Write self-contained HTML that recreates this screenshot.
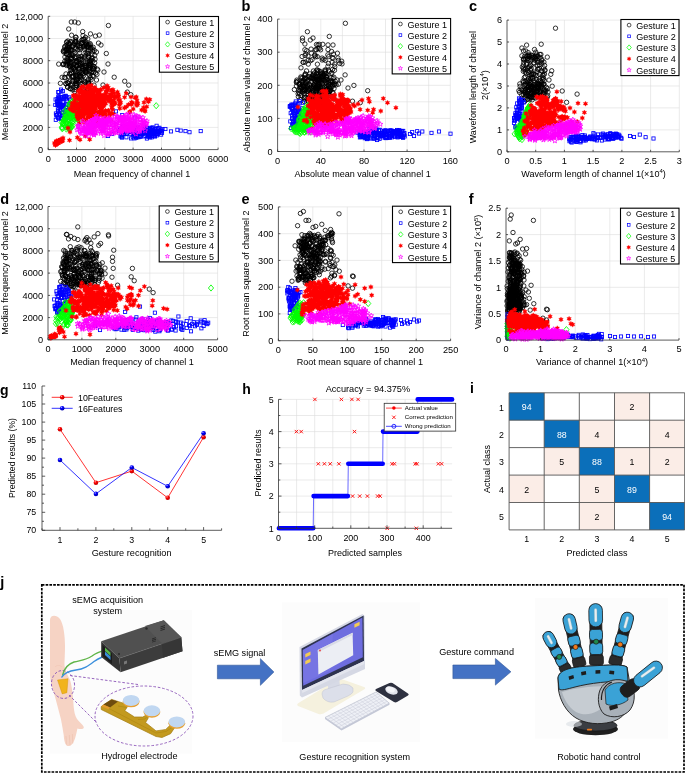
<!DOCTYPE html>
<html><head><meta charset="utf-8"><style>
html,body{margin:0;padding:0;background:#fff;overflow:hidden;width:685px;height:773px;}
svg{display:block;font-family:"Liberation Sans", sans-serif;will-change:transform;}
</style></head><body>
<svg width="685" height="773" viewBox="0 0 685 773">
<defs>
<marker id="m1" markerUnits="userSpaceOnUse" markerWidth="8" markerHeight="8" refX="4" refY="4" overflow="visible"><circle cx="4" cy="4" r="2.2" fill="none" stroke="#000" stroke-width="0.8"/></marker>
<marker id="m2" markerUnits="userSpaceOnUse" markerWidth="8" markerHeight="8" refX="4" refY="4" overflow="visible"><rect x="2.4" y="2.4" width="3.2" height="3.2" fill="none" stroke="#00f" stroke-width="0.85"/></marker>
<marker id="m3" markerUnits="userSpaceOnUse" markerWidth="8" markerHeight="8" refX="4" refY="4" overflow="visible"><path d="M4 0.9L6.6 4 4 7.1 1.4 4Z" fill="none" stroke="#0f0" stroke-width="0.85"/></marker>
<marker id="m4" markerUnits="userSpaceOnUse" markerWidth="8" markerHeight="8" refX="4" refY="4" overflow="visible"><path d="M4.00 1.45 L4.72 2.74 L6.21 2.73 L5.45 4.00 L6.21 5.27 L4.72 5.26 L4.00 6.55 L3.28 5.26 L1.79 5.27 L2.55 4.00 L1.79 2.72 L3.27 2.74Z" fill="#f00" stroke="#f00" stroke-width="0.3" stroke-linejoin="round"/></marker>
<marker id="m5" markerUnits="userSpaceOnUse" markerWidth="8" markerHeight="8" refX="4" refY="4" overflow="visible"><path d="M4 1.4L4.65 3.1 6.5 3.15 5.05 4.3 5.55 6.1 4 5.05 2.45 6.1 2.95 4.3 1.5 3.15 3.35 3.1Z" fill="none" stroke="#f0f" stroke-width="0.8"/></marker>
<radialGradient id="gr" cx="0.35" cy="0.3" r="0.7"><stop offset="0" stop-color="#ffb0b0"/><stop offset="0.35" stop-color="#f00"/><stop offset="1" stop-color="#b00"/></radialGradient>
<radialGradient id="gb" cx="0.35" cy="0.3" r="0.7"><stop offset="0" stop-color="#b0b0ff"/><stop offset="0.35" stop-color="#00f"/><stop offset="1" stop-color="#00a"/></radialGradient></defs>
<rect width="685" height="773" fill="#fff"/>
<path d="M76.5 16.3V149.6M104.8 16.3V149.6M133.1 16.3V149.6M161.5 16.3V149.6M189.8 16.3V149.6M218.1 16.3V149.6M48.2 127.4H218.1M48.2 105.2H218.1M48.2 83.0H218.1M48.2 60.7H218.1M48.2 38.5H218.1M48.2 16.3H218.1" stroke="#dcdcdc" stroke-width="0.6" fill="none"/>
<path d="M83.0 83.6 73.0 87.2 90.4 63.6 71.4 63.1 67.4 47.1 58.7 64.1 80.5 64.2 71.6 72.9 68.3 52.3 93.9 68.6 79.5 69.2 82.9 42.4 67.8 82.7 82.9 69.1 66.7 60.9 71.5 69.3 87.6 46.5 92.3 71.5 94.4 67.0 84.2 67.2 70.9 41.5 81.1 56.3 71.6 35.2 85.1 65.5 74.8 70.4 81.7 79.7 88.4 79.1 83.5 75.7 65.9 50.3 72.6 89.9 74.7 91.6 79.7 63.5 82.1 58.9 79.3 65.6 88.4 73.9 71.0 57.4 67.8 87.2 78.4 68.2 94.7 62.8 67.9 41.0 92.8 75.6 88.5 83.4 72.0 46.7 84.6 46.5 75.0 89.7 82.0 72.2 68.4 83.7 66.4 53.8 80.1 75.7 88.8 44.9 69.2 66.3 66.0 73.9 87.4 53.4 93.2 47.3 72.0 67.7 70.4 63.8 74.9 47.6 73.9 53.4 70.0 58.4 85.8 71.1 88.1 45.0 66.1 83.8 92.9 68.1 89.3 61.6 88.7 80.0 75.1 41.6 68.9 54.7 68.2 76.5 91.1 79.7 69.2 81.5 76.4 56.7 91.0 66.0 88.7 57.4 76.0 41.9 69.8 74.1 70.4 42.2 82.0 59.5 92.6 49.1 75.9 37.3 89.1 65.4 69.9 56.0 81.7 42.5 79.6 47.3 79.8 52.9 81.8 63.0 65.3 46.1 78.9 62.9 73.9 68.1 78.0 82.2 90.5 77.8 88.4 53.7 65.7 83.6 76.2 41.2 88.7 55.2 82.2 90.1 88.8 83.6 69.3 64.8 95.0 59.2 77.6 79.1 80.3 86.4 82.0 66.5 70.2 50.3 76.6 75.7 92.9 61.0 83.8 73.3 76.0 75.1 90.0 62.7 77.0 80.4 72.6 81.2 85.8 72.2 67.4 54.4 81.8 57.0 92.7 58.1 75.9 72.1 71.3 58.2 81.6 72.6 83.3 46.3 86.3 44.0 75.8 37.2 84.1 57.8 78.6 68.6 71.8 50.0 89.8 75.4 72.0 76.7 85.2 70.9 71.5 50.3 67.9 61.7 66.8 45.1 69.0 63.4 73.1 76.4 77.0 61.0 85.5 37.3 90.7 49.8 66.5 49.2 86.0 72.5 97.9 70.0 62.1 77.3 93.3 76.4 68.6 50.1 94.4 50.6 91.1 60.0 69.8 43.7 72.0 53.0 87.8 38.9 81.5 43.5 66.4 54.2 75.3 75.6 73.1 81.1 73.4 76.0 84.6 49.6 80.7 84.6 75.3 41.6 66.9 41.8 88.0 84.9 81.7 40.6 70.0 73.8 66.5 65.4 66.4 50.2 79.4 87.7 77.3 45.4 93.7 66.5 80.3 77.1 77.7 46.3 70.5 70.6 80.5 76.1 76.7 65.6 67.8 82.8 72.6 46.8 63.7 52.0 67.9 58.8 79.9 49.8 85.9 41.6 88.5 47.2 79.6 45.6 71.6 65.5 75.4 39.7 71.6 58.5 73.1 76.5 75.1 69.5 86.8 66.6 84.8 48.0 64.9 57.0 89.9 72.0 79.3 65.9 90.6 60.5 76.0 85.3 89.8 61.0 76.0 62.3 88.8 68.8 70.2 49.8 91.6 58.1 68.6 43.4 71.4 72.9 84.2 57.0 80.7 47.9 69.3 47.6 79.2 71.6 62.9 64.6 74.5 44.2 76.1 48.5 70.0 88.7 65.0 51.1 84.6 45.1 78.6 57.3 89.2 65.0 73.2 68.0 84.4 65.2 85.4 82.5 66.6 42.3 70.6 85.5 83.0 35.6 89.6 65.0 75.0 52.9 97.2 69.0 78.7 59.5 66.7 48.6 82.2 74.3 88.1 50.9 82.3 39.6 63.7 50.3 74.4 63.8 70.6 88.6 76.6 85.3 76.2 71.9 89.5 67.7 67.5 46.8 87.7 45.5 85.7 65.3 72.4 45.9 69.7 47.1 77.9 49.7 77.0 66.4 85.9 55.3 79.1 80.6 64.6 47.0 86.0 52.6 90.2 67.1 87.6 61.1 81.1 43.5 90.9 47.3 76.2 58.3 84.4 81.4 76.6 61.8 72.0 76.8 67.1 63.0 71.7 55.0 73.6 64.7 91.2 72.9 75.0 80.8 88.0 62.3 74.5 67.9 69.9 66.2 90.1 43.6 88.5 82.9 68.6 49.5 83.3 89.6 75.7 81.5 89.7 70.4 76.6 83.6 76.0 60.9 92.8 51.6 93.7 72.5 79.7 89.1 75.6 83.2 64.5 77.4 91.8 54.3 75.7 42.8 77.4 74.2 64.8 61.3 63.7 64.3 70.4 66.9 69.3 44.2 71.9 84.0 75.5 87.2 87.6 88.5 94.0 85.1 86.6 47.0 80.3 64.9 75.0 57.3 93.3 69.2 65.6 64.4 84.2 70.3 67.5 87.0 69.3 61.1 96.5 80.0 68.0 60.4 78.2 76.6 74.1 62.0 66.9 58.9 88.3 56.7 76.6 66.3 95.6 73.1 94.7 55.2 81.7 76.9 88.0 82.0 85.6 44.7 80.2 59.1 76.5 80.2 83.1 70.8 65.3 77.8 83.7 39.3 96.9 74.4 70.4 99.8 86.1 72.0 76.7 79.7 85.5 69.6 90.7 48.2 83.5 80.7 90.2 44.7 71.3 59.1 92.9 65.9 79.2 74.4 89.0 67.8 85.5 67.4 63.3 51.3 78.0 43.9 85.8 62.9 96.4 52.1 86.3 43.7 86.1 44.3 72.7 55.1 95.4 36.1 98.5 43.1 84.2 39.1 82.2 64.6 71.3 22.0 74.8 22.0 78.3 22.9 68.7 29.0 82.7 31.6 90.5 33.9 99.3 35.1 108.4 25.5 106.3 53.5 108.0 64.0 114.2 77.2 124.7 81.2 128.7 85.1 127.3 92.1 130.8 94.7 60.4 83.3 63.4 64.0 101.0 45.0 104.0 72.0 103.0 85.0" fill="none" stroke="none" marker-start="url(#m1)" marker-mid="url(#m1)" marker-end="url(#m1)"/>
<path d="M57.2 101.3 59.8 104.9 60.6 115.3 64.3 105.6 67.2 97.4 59.7 114.3 68.7 112.3 64.9 114.6 60.3 109.8 57.5 99.1 60.8 118.3 62.9 91.1 55.9 113.5 68.8 104.2 58.3 101.3 59.1 98.0 69.9 115.5 60.4 97.0 62.5 118.3 64.1 96.5 58.6 96.2 61.3 91.5 66.0 104.5 64.7 97.2 61.3 118.6 65.9 98.7 60.3 105.1 59.0 105.7 59.1 100.2 69.4 110.9 66.6 117.6 62.2 113.2 56.8 115.3 68.1 110.4 66.9 112.2 71.4 104.7 55.6 99.5 59.7 105.0 56.6 115.1 57.9 109.7 67.2 100.5 58.1 111.6 69.4 106.1 58.2 105.6 57.7 104.4 66.1 108.1 58.4 92.1 58.1 117.8 63.8 97.7 65.6 95.8 57.7 104.0 61.4 98.9 62.4 97.4 62.4 115.0 68.3 111.6 65.6 96.2 61.0 89.6 65.8 114.7 58.8 104.2 60.4 110.9 58.4 111.0 55.8 119.8 62.6 105.6 60.1 101.1 55.3 104.9 62.9 102.0 61.3 101.6 67.8 114.0 60.9 106.8 62.1 116.1 58.6 92.1 56.5 115.1 57.7 116.8 69.2 97.4 62.4 106.3 61.4 105.1 58.3 97.3 57.4 105.1 61.9 106.7 66.9 104.4 58.7 118.6 65.7 110.0 63.2 108.8 57.5 101.7 67.2 116.6 136.8 128.0 134.1 126.6 124.3 134.0 157.2 134.1 159.0 132.6 162.0 132.9 150.0 131.1 158.5 130.6 135.9 136.2 134.8 136.0 157.5 128.3 150.0 129.1 132.9 129.3 133.6 134.7 136.2 136.2 159.4 127.8 151.2 133.6 150.1 137.4 127.8 127.0 151.6 129.9 132.8 137.2 133.4 133.3 156.9 135.4 136.2 137.4 143.7 131.9 121.8 136.6 152.8 131.2 143.5 126.5 158.4 128.5 134.1 131.5 131.8 130.3 138.7 134.3 153.4 132.9 144.2 136.4 151.6 128.2 154.8 136.0 141.8 134.3 147.0 130.0 161.1 134.6 121.6 134.9 133.4 132.7 134.3 132.5 154.8 130.8 148.0 136.0 151.9 133.3 158.0 132.1 126.4 137.3 141.3 131.5 126.6 130.4 159.9 131.3 129.7 131.9 137.9 126.8 148.2 136.8 158.1 130.9 140.3 136.8 152.7 130.3 130.3 129.0 119.1 131.1 154.4 132.7 129.0 130.8 142.3 132.6 135.5 127.6 148.2 134.8 138.5 137.2 156.0 134.1 145.3 130.8 140.8 133.3 131.9 131.4 137.1 134.1 162.0 131.2 125.9 130.5 154.1 132.6 151.9 131.9 131.1 132.0 123.5 129.2 149.6 136.2 150.4 127.8 125.1 127.9 135.0 131.4 145.4 135.8 151.8 136.0 149.0 134.8 120.5 136.3 152.1 133.7 149.7 128.7 146.5 131.1 155.0 136.5 143.4 133.9 141.0 133.3 120.4 129.0 151.8 137.3 139.8 135.7 136.1 129.7 136.1 130.6 144.8 128.9 152.3 135.7 136.3 137.6 156.9 132.1 127.0 130.0 127.2 133.4 153.6 135.2 123.4 134.0 134.5 138.4 160.9 129.8 149.6 135.5 136.3 136.6 155.0 130.7 146.8 127.9 133.6 133.8 145.1 128.6 126.4 133.9 140.7 136.2 121.6 136.4 129.3 130.8 136.0 129.0 131.1 138.4 152.9 132.5 147.0 132.6 144.9 132.8 146.9 138.5 124.9 131.9 153.0 128.6 158.3 131.0 147.8 134.1 150.2 134.0 122.9 126.0 145.2 126.9 156.2 130.9 153.0 134.2 151.0 130.8 162.4 129.1 150.7 130.4 120.0 128.5 130.3 133.7 160.6 131.1 154.9 128.8 171.0 131.4 177.4 129.8 180.7 130.6 185.5 131.1 189.5 132.2 200.7 131.1 152.6 127.4 156.6 125.8 165.4 129.0 116.0 111.4 122.0 115.2 135.2 117.5 122.0 137.6 112.0 134.0 108.0 136.0" fill="none" stroke="none" marker-start="url(#m2)" marker-mid="url(#m2)" marker-end="url(#m2)"/>
<path d="M78.2 117.3 79.7 116.7 65.5 119.6 78.5 109.8 69.6 103.8 78.8 107.4 78.4 113.7 62.8 123.3 71.0 126.9 67.8 119.3 72.2 108.0 71.4 104.8 71.5 108.2 81.3 113.3 69.7 129.2 74.3 106.1 67.7 115.7 65.0 113.6 70.3 117.9 80.0 101.9 75.1 103.4 66.0 126.9 79.9 112.4 79.2 110.5 65.5 122.9 81.8 115.2 79.2 109.5 74.3 111.9 77.2 107.2 76.2 113.8 66.2 113.4 70.4 107.6 73.3 121.0 70.5 127.8 80.3 119.6 70.6 120.5 66.2 123.0 63.3 122.6 75.1 114.3 73.6 108.1 80.6 106.8 73.1 116.4 70.7 105.7 73.9 108.2 69.8 104.1 75.2 107.3 65.7 119.0 71.1 118.3 72.7 125.7 72.0 102.0 69.4 113.4 77.6 110.1 83.6 113.8 62.3 128.8 82.4 107.7 68.1 116.1 65.0 117.9 74.9 117.4 71.6 112.5 76.9 116.4 70.3 116.7 80.7 108.2 83.4 114.0 73.2 118.7 80.8 108.8 67.3 107.8 64.5 121.3 78.8 119.9 78.4 105.5 71.7 127.1 68.0 126.4 75.6 100.6 82.0 112.0 70.0 125.6 70.1 103.0 63.6 120.1 66.7 120.7 73.4 107.5 76.5 108.5 73.5 117.1 76.6 103.7 69.0 128.0 63.9 124.6 81.4 114.5 65.2 119.7 70.3 113.0 70.5 112.7 73.2 113.5 82.9 110.3 70.3 115.6 74.7 103.5 73.1 113.4 76.4 118.3 79.6 102.6 67.3 120.1 71.9 105.8 69.3 124.8 65.1 116.7 75.3 115.9 75.8 99.3 61.9 126.9 81.3 107.4 71.4 116.8 69.1 110.2 70.7 111.8 71.5 122.3 80.1 107.1 76.0 116.3 72.5 110.1 69.9 125.1 73.5 112.5 67.3 113.0 62.9 124.1 71.9 106.0 61.7 122.4 62.0 127.8 72.4 101.5 80.8 105.1 66.5 109.3 64.7 119.9 72.2 109.5 76.5 112.8 66.4 129.1 73.8 102.0 68.5 111.4 78.1 104.7 70.8 112.8 73.0 113.5 63.9 112.2 71.2 125.3 76.8 108.6 79.3 114.4 75.4 116.5 73.5 108.6 65.4 118.2 76.9 121.8 67.1 115.7 64.5 125.4 75.3 110.6 77.8 106.7 79.0 115.1 82.1 109.9 80.4 113.2 72.2 122.5 74.2 107.8 74.6 115.5 77.2 108.7 82.3 117.1 77.3 119.3 63.6 121.2 81.1 114.2 74.9 110.3 67.6 128.1 156.2 105.7" fill="none" stroke="none" marker-start="url(#m3)" marker-mid="url(#m3)" marker-end="url(#m3)"/>
<path d="M109.7 97.7 82.8 94.2 85.2 121.1 110.9 120.1 102.6 119.9 83.1 91.2 98.9 92.9 82.3 91.3 100.6 97.6 113.6 114.3 100.9 108.5 84.2 119.9 109.5 116.1 103.7 87.7 77.6 112.5 101.4 101.8 106.7 92.5 91.3 91.5 114.2 102.6 102.4 114.2 80.1 89.5 108.0 96.8 111.5 104.3 103.0 100.3 81.1 103.1 84.0 122.3 112.2 105.7 110.0 94.6 89.3 103.8 88.3 94.8 91.0 113.4 101.6 101.9 89.1 115.1 108.1 110.9 111.3 96.5 87.9 117.1 82.6 116.9 80.2 104.0 104.0 101.0 82.6 115.8 88.5 113.1 96.2 112.9 101.5 115.3 92.2 106.3 101.5 112.8 96.8 90.7 105.9 96.1 93.4 110.8 105.7 103.5 95.8 97.5 111.4 113.1 94.9 99.6 74.3 103.0 89.3 107.5 93.3 115.9 82.9 106.7 101.3 109.7 78.8 118.1 78.5 115.5 90.7 96.2 95.4 112.8 100.8 104.1 88.3 124.8 84.8 109.8 102.1 100.7 79.5 114.0 88.1 104.4 112.7 109.5 105.4 110.5 81.6 87.1 85.8 99.4 105.7 91.4 78.7 104.4 88.1 108.1 111.4 96.5 89.1 110.2 105.0 94.5 113.0 89.7 82.9 91.8 107.3 97.2 83.9 104.3 73.0 110.8 79.9 98.0 93.2 107.0 87.8 103.4 87.3 98.4 90.5 103.5 81.8 117.8 79.6 110.8 78.0 109.0 97.4 103.1 103.4 112.3 115.3 103.5 85.5 93.9 88.6 93.8 91.3 119.4 106.3 118.4 84.9 105.7 96.6 100.6 95.6 108.6 88.2 96.4 83.4 86.4 97.4 99.4 98.2 115.7 94.8 90.4 117.4 92.1 96.7 94.6 78.8 116.8 78.8 98.6 99.4 97.5 96.1 89.3 93.8 104.9 95.3 109.0 90.4 107.4 94.4 102.2 101.6 95.5 107.4 98.4 111.2 90.6 75.3 108.3 75.0 95.8 92.4 115.2 111.7 101.4 101.7 107.9 93.6 89.2 89.2 105.5 95.8 105.4 92.3 119.8 79.4 123.3 106.5 87.3 91.0 116.3 97.5 99.0 100.5 102.6 86.2 119.7 90.7 97.1 89.6 111.3 85.1 106.1 96.3 112.9 108.8 101.0 83.7 119.5 105.3 123.8 83.5 110.9 83.0 108.1 93.4 116.4 90.1 90.8 91.0 89.1 113.3 104.7 79.4 92.5 81.4 110.4 92.3 103.3 95.8 101.0 84.4 97.8 96.9 97.1 82.0 111.6 83.7 111.1 97.6 121.7 77.8 107.0 88.9 112.6 80.0 97.7 95.2 103.6 105.3 116.3 96.0 89.5 93.8 95.3 101.1 107.7 88.1 95.8 98.8 91.1 111.8 107.8 108.5 110.5 98.5 105.6 76.9 116.7 100.3 90.1 89.2 109.4 89.5 85.7 91.0 89.8 111.9 90.3 114.2 93.6 103.8 120.4 87.0 95.0 79.5 103.6 86.2 112.5 102.3 97.3 75.8 105.5 108.3 87.5 113.9 100.5 82.0 97.5 92.9 118.3 97.4 112.4 85.1 97.4 81.1 105.2 115.2 96.9 93.4 112.6 107.6 97.2 82.0 114.2 83.6 113.2 109.3 113.7 88.0 116.9 79.8 99.1 97.6 90.9 87.1 92.8 94.1 100.6 99.2 93.9 88.3 110.2 78.8 105.9 103.8 98.6 95.0 119.2 114.5 97.1 92.4 117.8 103.6 96.6 84.8 91.5 73.5 110.7 91.4 85.2 100.5 113.4 82.3 94.4 103.9 104.1 83.5 117.0 103.6 96.1 96.2 105.7 76.3 107.1 98.1 103.4 99.8 111.3 82.6 91.7 80.2 112.8 89.7 102.4 93.6 95.4 88.8 86.4 87.3 86.5 105.2 112.5 106.8 97.8 84.6 98.2 83.2 108.5 93.3 99.2 100.9 89.5 85.2 107.2 78.0 119.2 93.1 114.9 97.5 119.2 94.2 106.1 105.3 114.2 83.1 104.4 85.6 93.4 113.2 100.6 107.8 90.1 103.9 105.4 94.7 87.5 109.3 100.1 93.9 102.1 78.2 91.0 104.4 103.8 92.9 96.3 84.4 96.3 80.5 97.0 90.1 116.8 106.9 97.6 109.6 98.7 102.4 95.4 83.3 105.3 92.8 89.3 95.4 105.5 86.1 106.5 103.1 106.5 86.0 96.2 111.7 94.2 110.1 100.4 107.1 85.8 106.8 99.2 73.4 95.2 112.8 91.4 92.5 106.7 86.4 88.0 76.7 95.4 109.2 97.3 87.7 92.3 91.9 97.8 136.3 97.1 141.6 110.0 116.9 96.8 118.5 96.2 148.4 101.8 126.3 106.8 137.2 105.1 135.1 97.8 131.0 97.0 124.6 97.3 118.1 94.2 145.1 111.2 132.6 103.0 119.9 103.6 144.0 102.5 137.7 103.4 128.5 104.6 146.7 106.8 126.2 93.2 120.6 102.5 131.2 104.4 119.4 105.1 137.0 103.5 129.6 112.2 124.4 107.9 119.8 99.9 136.5 104.9 143.7 107.5 118.4 100.0 131.5 102.2 118.3 96.1 146.3 99.1 144.6 110.5 133.2 108.9 137.0 100.6 149.8 99.6 130.1 111.6 119.8 108.4 85.7 100.9 85.0 107.5 103.3 113.0 81.8 101.4 84.2 92.8 87.9 110.3 80.2 106.3 72.8 106.8 95.0 103.8 82.1 116.6 83.8 103.1 85.0 105.8 80.7 91.6 80.1 99.2 88.7 98.6 104.4 102.5 92.7 104.8 92.8 98.2 77.1 113.1 87.4 96.3 79.3 100.0 93.0 104.1 86.0 95.2 87.9 106.1 87.0 106.5 83.5 100.9 76.9 114.2 91.6 103.2 77.9 104.4 79.3 96.9 85.5 92.6 82.6 98.9 89.4 100.8 94.7 100.0 89.3 107.3 89.0 88.4 87.8 95.9 93.6 91.7 74.7 110.7 90.2 99.3 81.1 99.6 79.0 96.1 87.6 108.1 84.9 100.2 91.7 104.0 95.3 90.5 71.3 109.7 87.1 105.1 101.3 106.0 93.7 110.1 97.7 101.5 88.3 101.7 77.5 107.0 79.7 105.3 92.6 101.2 94.3 103.0 82.5 99.7 85.7 107.0 89.4 108.3 75.3 102.7 85.1 114.0 98.9 93.5 102.9 101.3 86.8 113.0 100.4 100.2 83.9 93.1 81.9 111.1 71.9 106.0 94.3 95.5 85.0 107.4 104.0 96.6 89.9 94.7 88.9 101.8 74.9 99.8 98.1 96.1 85.1 100.5 86.5 96.7 72.1 103.1 94.1 102.6 94.5 107.2 83.4 100.0 88.2 94.7 90.3 94.8 94.3 101.2 88.3 112.0 99.7 107.8 85.9 98.9 83.4 108.4 84.3 95.7 69.8 108.8 82.0 100.4 94.7 107.3 89.5 106.5 81.9 101.0 90.1 104.7 73.5 96.3 85.6 102.3 91.3 109.2 92.5 127.4 82.2 106.9 94.0 103.2 100.7 96.6 84.6 109.1 92.8 92.8 76.7 97.9 73.9 104.9 91.9 95.5 87.9 112.0 89.0 109.3 83.5 99.3 56.6 142.1 55.5 144.2 54.5 143.0 59.0 141.1 59.1 140.4 58.5 140.7 58.6 141.4 56.6 142.2 59.5 142.3 55.4 144.9 58.3 142.1 61.1 139.4 61.8 141.3 56.3 141.2 56.6 141.1 61.9 141.2 62.7 140.6 55.5 145.1 57.3 142.7 58.3 140.9 60.9 140.3 56.8 143.9 59.4 140.8 57.3 142.1 63.0 138.0 58.8 140.7 58.5 143.2 57.8 143.2 60.2 139.9 59.4 140.5 69.5 140.3 77.4 137.6 80.0 139.7 85.3 135.9 89.7 139.4 68.0 128.0 70.0 132.0" fill="none" stroke="none" marker-start="url(#m4)" marker-mid="url(#m4)" marker-end="url(#m4)"/>
<path d="M133.6 123.2 94.0 134.9 111.8 132.2 98.4 125.8 123.7 128.4 129.1 124.3 141.7 122.1 87.3 132.8 106.6 127.4 102.5 123.3 90.9 120.7 129.6 123.3 94.9 133.1 90.9 132.8 130.1 120.0 123.1 125.1 103.9 129.9 124.3 130.7 89.0 136.1 130.6 118.5 138.6 131.9 131.0 123.9 116.4 122.7 125.2 129.6 95.9 123.0 104.9 118.3 131.0 120.2 142.4 122.2 137.3 127.8 90.0 127.6 92.2 128.7 131.0 129.1 127.6 126.0 78.9 126.3 104.2 124.9 119.7 122.8 114.5 116.6 123.6 127.2 89.1 128.6 145.2 125.9 116.9 132.9 86.8 122.8 115.0 129.8 100.7 131.8 121.0 117.0 83.9 127.9 136.9 116.1 96.7 125.3 101.1 122.7 105.8 121.6 119.8 130.5 91.2 131.6 132.8 126.8 142.9 124.9 123.4 123.6 90.2 131.6 97.7 122.5 102.7 130.4 122.1 130.7 80.9 133.2 113.1 119.6 84.0 127.5 131.8 123.5 97.8 118.1 123.8 117.5 95.1 119.0 134.5 123.9 121.4 132.9 115.4 127.8 108.2 127.3 124.9 121.9 123.6 118.4 91.8 121.2 89.3 130.6 125.2 118.1 102.3 131.3 109.3 119.5 107.9 122.7 137.8 128.3 92.9 119.4 137.4 123.8 120.2 118.2 121.2 129.3 124.8 123.1 82.2 130.8 127.3 131.3 129.3 125.7 116.9 116.3 144.5 122.5 99.9 120.5 146.9 121.0 96.7 129.0 109.0 131.2 101.7 130.8 145.1 130.6 95.2 127.0 84.3 129.2 86.5 131.7 139.2 128.6 124.3 119.7 134.5 116.5 104.1 135.6 135.4 127.9 87.7 123.8 140.0 130.2 133.4 127.1 132.5 132.4 94.0 134.8 103.9 119.8 112.7 132.1 102.6 125.0 131.7 126.3 108.0 119.8 86.6 133.2 102.7 127.0 99.5 119.4 108.9 124.0 95.8 125.7 99.7 121.5 115.1 123.8 80.0 126.7 106.1 121.5 85.0 127.4 134.7 130.1 106.9 120.7 86.4 131.4 137.6 119.2 141.7 124.4 137.7 122.1 121.8 125.3 128.8 116.2 100.0 127.1 78.2 126.8 117.4 117.3 113.3 125.3 128.6 129.7 135.4 119.3 106.2 130.5 123.9 116.7 106.0 133.0 109.1 118.0 141.1 126.0 95.2 118.8 79.9 130.7 101.9 125.0 131.0 128.2 125.5 119.6 129.1 130.7 84.3 129.2 131.8 130.8 88.9 130.3 121.4 131.1 132.5 127.1 90.9 125.1 96.1 115.5 100.7 123.8 119.1 118.7 106.6 120.5 100.8 117.9 94.1 121.6 106.0 123.5 124.1 127.3 121.7 123.3 117.2 118.7 89.8 131.4 139.9 131.0 129.5 125.7 92.2 124.1 110.8 127.1 121.4 132.3 94.2 124.2 103.1 124.1 129.3 114.0 94.4 125.6 109.1 123.9 95.2 130.7 78.1 125.5 143.4 125.5 130.8 117.3 145.8 124.8 102.6 126.7 107.5 133.6 102.4 121.3 129.1 125.7 114.9 131.4 111.5 120.5 133.6 124.9 110.7 119.9 112.6 129.6 125.0 124.5 134.5 118.7 130.1 125.0 95.1 132.1 111.2 127.7 120.8 130.3 117.8 128.4 142.8 127.5 128.6 120.9 107.4 121.5 100.5 129.0 93.9 129.3 91.3 130.5 139.6 127.0 91.5 131.3 122.6 120.0 102.3 127.5 82.7 120.9 102.9 128.0 130.9 129.7 92.4 130.1 126.8 124.7 129.0 128.4 93.5 133.8 89.6 126.1 145.8 123.7 101.4 124.4 124.5 127.7 88.6 129.8 86.7 132.6 128.6 130.5 133.5 125.5 127.2 129.3 133.2 123.9 116.2 124.6 104.0 130.8 100.6 126.2 89.0 123.7 131.1 123.8 98.9 125.6 134.0 114.7 122.9 128.5 105.9 122.1 132.3 123.4 77.1 129.8 126.1 115.6 79.5 129.2 113.7 123.1 140.0 119.0 92.0 128.8 123.8 127.6 101.2 121.3 119.4 120.1 121.7 129.0 122.7 118.9 90.3 126.7 115.4 122.0 100.9 123.2 116.0 124.1 136.1 124.1 113.6 125.1 89.1 124.8 91.7 121.6 108.7 121.7 102.6 120.0 136.5 123.9 108.8 134.1 106.3 120.4 85.3 126.1 122.3 117.7 142.4 127.6 131.3 127.4 116.2 132.4 136.1 128.9 105.5 126.9 120.1 120.7 131.6 129.6 127.5 128.5 116.3 127.2 83.6 129.4 88.0 130.3 121.9 126.6 123.0 120.6 142.9 117.6 109.8 132.7 101.3 121.8 137.9 116.6 112.8 133.6 97.5 124.7 135.9 134.0 92.2 133.0 122.0 130.2 112.2 124.9 100.7 133.4 107.9 134.7 106.4 126.0 140.2 119.8 91.1 121.8 103.9 126.3 123.4 127.8 82.0 133.7 126.4 114.5 126.6 119.1 96.2 133.0 122.1 119.2 92.7 124.5 146.8 123.2 129.8 120.2 117.9 116.9 124.6 129.6 134.6 122.1 86.6 132.1 103.2 129.0 109.6 121.1 82.7 123.2 91.5 126.5 144.0 120.5 90.2 127.9 88.2 122.8 94.5 119.3 127.5 121.7 104.9 122.8 88.0 128.9 86.2 131.5 139.7 117.1 133.8 122.4 115.0 130.2 109.4 121.0 120.5 128.1 88.0 132.5 120.0 130.9 80.0 131.8 125.3 126.4 116.6 125.4 88.6 130.2 92.3 131.9 120.0 123.0 85.2 135.7 93.5 123.4 98.3 128.2 128.9 118.9 144.0 122.1 84.6 131.0 93.5 119.9 92.4 123.9 102.9 125.8" fill="none" stroke="none" marker-start="url(#m5)" marker-mid="url(#m5)" marker-end="url(#m5)"/>
<path d="M48.2 16.3V149.6H218.1M48.2 149.6v-2.0M76.5 149.6v-2.0M104.8 149.6v-2.0M133.1 149.6v-2.0M161.5 149.6v-2.0M189.8 149.6v-2.0M218.1 149.6v-2.0M48.2 149.6h2.0M48.2 127.4h2.0M48.2 105.2h2.0M48.2 83.0h2.0M48.2 60.7h2.0M48.2 38.5h2.0M48.2 16.3h2.0" stroke="#333" stroke-width="0.8" fill="none"/>
<text x="48.2" y="161.7" font-size="9.2" text-anchor="middle" fill="#000">0</text>
<text x="76.5" y="161.7" font-size="9.2" text-anchor="middle" fill="#000">1000</text>
<text x="104.8" y="161.7" font-size="9.2" text-anchor="middle" fill="#000">2000</text>
<text x="133.1" y="161.7" font-size="9.2" text-anchor="middle" fill="#000">3000</text>
<text x="161.5" y="161.7" font-size="9.2" text-anchor="middle" fill="#000">4000</text>
<text x="189.8" y="161.7" font-size="9.2" text-anchor="middle" fill="#000">5000</text>
<text x="218.1" y="161.7" font-size="9.2" text-anchor="middle" fill="#000">6000</text>
<text x="43.2" y="152.8" font-size="9.2" text-anchor="end" fill="#000">0</text>
<text x="43.2" y="130.6" font-size="9.2" text-anchor="end" fill="#000">2000</text>
<text x="43.2" y="108.4" font-size="9.2" text-anchor="end" fill="#000">4000</text>
<text x="43.2" y="86.2" font-size="9.2" text-anchor="end" fill="#000">6000</text>
<text x="43.2" y="64.0" font-size="9.2" text-anchor="end" fill="#000">8000</text>
<text x="43.2" y="41.7" font-size="9.2" text-anchor="end" fill="#000">10,000</text>
<text x="43.2" y="19.5" font-size="9.2" text-anchor="end" fill="#000">12,000</text>
<rect x="159.4" y="16.5" width="59.1" height="55.7" fill="#fff" stroke="#000" stroke-width="1.1"/>
<g transform="translate(167.6 22.1) scale(0.85)"><path d="M0 0h0.01" marker-start="url(#m1)" stroke="none"/></g>
<text x="174.7" y="25.7" font-size="9.0" text-anchor="start" fill="#000">Gesture 1</text>
<g transform="translate(167.6 33.2) scale(0.85)"><path d="M0 0h0.01" marker-start="url(#m2)" stroke="none"/></g>
<text x="174.7" y="36.8" font-size="9.0" text-anchor="start" fill="#000">Gesture 2</text>
<g transform="translate(167.6 44.4) scale(0.85)"><path d="M0 0h0.01" marker-start="url(#m3)" stroke="none"/></g>
<text x="174.7" y="48.0" font-size="9.0" text-anchor="start" fill="#000">Gesture 3</text>
<g transform="translate(167.6 55.5) scale(0.85)"><path d="M0 0h0.01" marker-start="url(#m4)" stroke="none"/></g>
<text x="174.7" y="59.1" font-size="9.0" text-anchor="start" fill="#000">Gesture 4</text>
<g transform="translate(167.6 66.6) scale(0.85)"><path d="M0 0h0.01" marker-start="url(#m5)" stroke="none"/></g>
<text x="174.7" y="70.2" font-size="9.0" text-anchor="start" fill="#000">Gesture 5</text>
<text x="132.0" y="177.2" font-size="9.05" text-anchor="middle" fill="#000">Mean frequency of channel 1</text>
<text x="7.6" y="82.0" font-size="9.05" text-anchor="middle" fill="#000" transform="rotate(-90 7.6 82.0)">Mean frequency of channel 2</text>
<text x="0.3" y="10.9" font-size="14.5" text-anchor="start" font-weight="bold" fill="#000">a</text>
<path d="M299.2 19.1V151.5M320.8 19.1V151.5M342.4 19.1V151.5M364.0 19.1V151.5M385.5 19.1V151.5M407.1 19.1V151.5M428.7 19.1V151.5M450.3 19.1V151.5M277.6 134.9H450.3M277.6 118.4H450.3M277.6 101.8H450.3M277.6 85.3H450.3M277.6 68.8H450.3M277.6 52.2H450.3M277.6 35.6H450.3M277.6 19.1H450.3" stroke="#dcdcdc" stroke-width="0.6" fill="none"/>
<path d="M333.6 84.1 326.9 88.8 328.3 85.7 305.5 88.8 327.3 79.4 301.3 78.0 319.8 92.6 305.8 97.4 335.1 84.0 318.9 87.1 317.2 89.0 311.7 88.0 308.1 81.0 322.0 100.1 320.8 74.6 314.5 80.0 314.1 99.0 314.9 83.9 321.1 88.2 316.3 86.8 298.3 96.7 324.6 80.5 324.5 86.9 298.1 93.8 330.9 81.3 326.0 82.4 306.7 87.6 321.0 97.4 315.6 81.3 304.6 89.5 322.5 92.5 326.5 77.1 317.7 80.7 294.4 89.6 322.1 86.6 309.2 91.9 326.7 77.7 332.1 97.1 319.2 78.5 323.9 96.2 330.6 84.3 309.9 73.9 329.4 87.5 317.4 70.0 333.0 78.4 334.0 88.6 314.2 84.8 301.9 81.0 316.3 88.6 303.7 86.6 322.8 91.1 326.5 79.7 309.9 89.0 319.3 84.5 311.1 87.1 332.1 82.7 332.4 86.4 330.5 90.1 299.6 93.8 310.6 100.5 324.8 73.4 301.0 95.4 337.1 80.0 316.1 88.1 330.4 82.7 313.6 97.0 305.0 90.4 316.8 97.0 313.5 86.6 321.8 77.0 305.9 85.5 299.2 84.7 317.3 93.4 329.4 71.6 322.1 96.4 316.9 77.2 322.4 95.3 327.7 89.8 313.2 78.3 320.3 90.1 314.5 72.9 334.2 98.9 311.6 81.2 317.2 79.7 313.5 97.1 328.3 82.5 302.2 85.1 298.7 90.1 320.0 93.0 319.0 92.1 320.9 76.9 305.3 83.8 323.0 74.7 328.8 95.2 328.4 70.1 322.4 83.5 308.7 97.5 315.9 81.9 307.5 85.9 316.3 79.3 332.2 92.5 322.0 76.2 316.6 73.8 326.2 93.9 319.6 90.7 326.3 87.5 313.4 74.1 317.9 100.3 322.3 78.9 303.3 83.6 334.0 84.7 319.8 87.7 306.8 80.9 314.7 95.4 326.8 92.7 309.1 76.5 303.5 80.5 309.1 89.7 311.9 103.0 331.1 77.7 304.6 90.1 299.3 83.7 307.9 79.5 311.9 76.3 319.2 79.7 296.5 82.4 315.5 87.0 326.2 85.0 328.8 84.4 317.5 72.0 328.1 89.9 304.4 93.5 333.1 92.8 335.3 81.3 321.8 79.7 322.6 73.4 306.0 82.3 308.3 98.4 317.3 96.5 331.2 86.9 302.0 82.3 300.8 77.0 321.9 98.2 316.6 95.3 301.9 88.4 316.0 87.6 296.4 86.0 321.8 87.6 311.6 78.0 324.9 93.7 312.5 90.0 310.3 78.0 300.1 88.1 312.7 75.2 305.5 78.0 331.9 73.0 311.3 91.8 312.5 98.1 316.6 90.9 320.7 81.1 304.4 98.8 314.9 85.4 307.9 91.4 302.5 91.5 318.6 88.2 302.3 82.4 306.0 78.6 303.7 86.5 327.0 90.7 324.1 75.4 318.3 85.5 326.3 76.2 310.3 93.7 307.7 86.6 322.5 102.5 307.8 84.8 332.5 85.0 319.1 82.3 315.5 76.5 305.2 73.8 308.5 101.3 331.0 73.7 299.9 99.5 301.4 87.8 315.4 101.7 320.7 73.1 298.7 92.0 305.4 74.6 304.5 96.1 316.7 70.1 319.4 79.3 323.7 92.4 312.6 93.2 328.9 91.2 304.4 78.8 303.4 90.8 317.7 76.2 312.9 79.2 319.7 79.8 318.2 76.3 317.3 100.2 318.1 96.4 333.9 77.3 312.5 88.9 313.7 84.9 329.6 90.4 322.7 76.1 315.7 78.0 325.9 73.9 323.5 93.5 314.8 97.0 331.0 90.2 297.3 81.3 299.9 83.9 304.4 101.5 325.3 90.2 313.6 86.8 329.7 88.3 327.9 94.0 321.3 82.0 314.3 94.6 314.5 97.9 312.1 77.8 317.8 83.2 300.1 86.5 310.1 98.9 309.5 84.2 325.8 83.0 317.9 79.3 296.8 80.1 307.9 101.1 332.4 81.5 304.6 91.2 315.3 88.7 326.5 91.5 323.8 75.2 301.0 67.8 296.4 81.9 320.2 87.5 317.2 86.4 315.6 97.0 304.7 75.6 314.0 78.6 315.0 75.7 316.3 97.9 336.2 84.9 313.3 92.0 300.1 90.3 321.1 80.0 319.1 79.8 330.9 80.6 314.7 94.1 319.4 88.3 325.9 79.7 306.9 91.5 325.6 70.2 320.9 96.4 326.2 77.0 302.3 85.7 308.2 89.8 324.7 80.9 304.3 97.6 309.5 85.3 302.7 77.8 304.5 86.6 319.3 93.2 314.2 89.3 318.1 81.5 318.1 86.6 320.1 82.6 329.5 91.7 316.6 99.6 310.3 96.0 326.6 89.5 315.6 87.1 302.8 89.6 316.3 49.7 304.9 49.7 305.3 62.1 318.0 48.6 325.2 71.7 328.0 44.9 308.2 60.3 315.3 49.8 338.0 58.0 305.1 55.5 311.1 49.1 306.7 50.7 327.8 54.9 303.3 62.3 334.7 64.1 325.2 60.3 338.4 60.4 323.8 59.2 317.3 56.6 324.8 70.1 339.7 63.4 302.1 56.5 319.6 48.2 310.3 40.0 341.7 61.2 333.1 58.3 332.1 62.4 308.3 64.1 313.4 71.0 331.6 51.5 334.8 66.7 311.4 53.1 310.5 60.7 327.9 66.2 303.1 62.3 318.8 70.7 333.4 54.1 320.6 49.8 317.4 64.2 332.6 69.4 319.2 44.3 312.0 59.7 322.2 60.0 328.0 49.5 332.2 57.6 328.8 56.6 305.8 53.8 306.5 70.9 315.6 56.8 322.8 44.3 308.0 56.0 320.3 71.6 314.9 54.9 316.5 44.5 304.9 44.0 322.1 58.1 314.7 55.6 334.5 70.3 337.4 53.2 328.5 63.5 345.4 23.3 307.4 31.7 302.5 38.1 302.5 40.8 329.3 36.4 353.9 85.4 367.7 90.7 360.3 102.6 352.5 101.2 345.1 74.9 342.0 63.9 338.4 84.2 348.0 88.0 341.0 80.0 313.0 38.0 318.0 45.0 333.0 45.0" fill="none" stroke="none" marker-start="url(#m1)" marker-mid="url(#m1)" marker-end="url(#m1)"/>
<path d="M299.6 101.2 295.3 103.4 297.5 104.3 291.8 109.0 294.7 119.1 296.9 128.2 295.0 118.7 300.9 120.6 299.7 114.3 295.8 108.0 294.6 120.6 299.6 111.6 293.4 120.7 299.7 119.6 295.6 120.0 298.8 121.0 292.3 124.2 301.8 111.8 297.8 114.7 300.2 109.7 292.4 125.5 294.6 112.6 295.4 123.6 291.5 107.9 290.7 113.2 292.5 104.5 296.2 117.6 294.5 124.1 295.8 101.5 298.2 119.8 297.6 110.5 294.0 114.6 294.8 111.1 292.6 108.5 295.1 104.8 298.4 110.9 291.0 128.0 297.4 122.1 297.8 111.3 297.1 118.0 298.0 113.4 295.0 116.3 292.1 118.7 293.6 111.3 298.7 124.9 295.8 122.0 295.8 110.9 293.4 125.3 296.9 124.9 293.3 124.1 298.0 119.8 289.9 106.1 289.8 106.8 297.4 127.7 290.3 121.4 300.1 117.6 301.6 119.3 292.5 105.2 303.0 102.7 292.7 108.8 295.2 106.4 299.1 120.6 294.8 106.4 292.5 118.4 302.2 122.0 296.3 106.7 292.2 115.2 293.2 122.4 298.1 123.9 291.3 104.8 301.7 115.3 291.1 106.1 295.5 129.5 298.8 119.1 293.7 127.3 296.7 125.0 300.5 120.7 301.1 114.5 293.2 113.0 297.3 120.5 300.0 123.7 298.8 122.6 295.3 117.6 297.4 117.8 294.8 117.7 295.6 119.5 298.3 115.1 302.3 122.1 299.4 103.4 295.5 119.3 301.9 108.3 299.1 110.8 298.6 114.6 374.8 134.2 368.4 135.4 392.1 134.8 401.6 131.0 364.5 132.8 386.5 133.8 378.7 134.9 364.7 138.2 373.4 138.4 402.6 137.0 376.7 132.5 398.8 134.5 389.0 136.2 392.6 133.4 398.4 136.0 372.8 133.5 385.2 130.4 363.7 135.5 372.9 131.5 370.6 132.2 367.7 134.8 364.2 137.1 375.8 132.8 360.3 132.4 397.3 133.0 371.1 138.5 399.3 130.2 379.8 133.9 387.4 138.0 379.6 138.8 367.1 132.6 369.1 131.3 401.8 131.0 385.4 134.2 372.9 132.6 398.4 136.8 398.2 131.9 404.4 133.1 378.7 130.0 404.7 136.4 402.5 136.8 396.3 131.4 359.4 132.7 373.3 137.6 378.9 130.7 378.1 133.7 400.7 131.1 397.9 131.4 369.7 131.2 389.6 132.6 392.5 133.2 400.2 133.8 368.9 134.2 362.4 137.0 386.7 134.8 366.6 135.7 383.4 134.0 385.8 138.1 376.7 137.9 392.2 133.9 363.4 133.7 377.0 133.0 394.0 136.1 366.2 138.1 393.3 131.9 400.9 136.7 386.3 134.3 367.1 139.1 374.6 138.7 375.4 131.5 399.9 131.4 382.2 135.7 388.4 131.6 369.4 128.9 380.7 134.7 400.6 134.0 384.7 131.7 403.9 134.4 404.1 134.8 375.9 128.5 367.9 133.3 381.6 133.0 360.8 137.0 392.3 133.7 368.4 132.5 399.2 134.6 390.2 130.3 367.2 138.5 360.4 135.8 382.4 137.3 367.8 134.5 360.3 135.2 367.1 137.9 388.4 131.0 395.0 136.8 359.9 137.4 366.1 134.4 398.2 135.6 394.5 134.7 398.3 130.7 390.7 131.4 399.7 135.3 374.7 132.7 394.7 131.3 403.2 130.9 396.4 132.9 375.1 132.1 392.5 133.5 377.5 134.3 376.3 128.9 383.7 134.8 360.2 131.5 386.4 137.1 365.2 135.6 385.1 132.8 377.1 140.0 380.1 135.6 359.6 134.8 384.1 130.9 367.8 135.2 391.2 135.8 374.0 136.0 391.8 130.7 384.3 131.8 386.0 130.6 392.0 137.3 368.6 138.1 374.7 135.9 397.1 130.0 391.0 130.7 403.1 137.8 397.6 131.8 385.5 135.2 373.0 130.8 374.8 136.6 385.3 137.7 386.6 137.1 366.5 136.7 394.6 131.4 401.3 135.2 380.9 135.6 371.0 131.8 357.4 132.6 393.1 131.5 397.6 137.4 380.2 129.8 401.4 136.3 390.0 136.9 382.5 135.9 389.9 137.9 362.6 136.2 376.0 129.7 377.8 138.0 382.3 133.2 365.6 133.2 367.5 138.3 373.9 131.3 361.5 132.3 363.7 134.6 365.2 131.9 399.4 131.5 412.2 132.0 417.2 131.2 422.3 131.5 431.5 132.9 439.0 131.5 450.5 133.7 410.0 134.0 414.0 136.0 419.0 133.5" fill="none" stroke="none" marker-start="url(#m2)" marker-mid="url(#m2)" marker-end="url(#m2)"/>
<path d="M303.9 112.7 308.6 121.2 303.0 128.6 304.4 113.0 303.1 128.5 298.9 121.7 307.2 117.6 295.2 128.3 311.3 125.6 310.5 118.7 306.4 131.1 303.2 116.2 301.3 122.4 307.1 127.5 304.5 131.9 310.1 105.7 300.0 126.6 307.4 125.6 302.9 120.3 310.5 119.8 304.1 125.2 310.5 132.1 311.3 108.8 303.6 111.9 299.1 120.2 312.4 126.1 309.4 109.9 305.4 108.3 305.5 125.8 303.7 109.1 299.3 118.5 305.0 115.6 310.4 118.0 309.5 107.1 307.7 115.8 303.9 120.7 310.4 116.1 298.2 128.3 307.0 117.0 296.2 126.3 302.9 121.7 306.3 120.6 308.2 124.3 310.2 128.4 301.9 120.2 299.9 126.7 303.5 129.6 307.8 119.1 306.4 110.2 306.8 118.5 306.7 128.8 301.0 122.8 309.2 123.0 299.2 132.6 305.9 115.5 305.6 125.1 304.9 122.4 300.2 128.5 305.4 112.8 301.4 121.0 305.8 111.0 303.9 112.5 300.7 129.0 312.2 118.3 309.7 120.6 294.5 131.1 308.4 111.4 309.9 107.2 306.7 109.1 310.0 115.1 308.4 122.2 308.5 125.8 307.1 126.9 311.3 110.5 311.9 113.1 308.5 126.3 303.8 119.2 301.3 132.3 301.4 115.7 295.8 127.2 304.6 128.2 305.2 118.4 312.1 113.6 311.0 113.8 305.8 122.0 309.9 121.8 305.8 126.7 309.3 123.3 302.0 112.7 304.8 124.3 305.6 114.6 301.1 124.3 303.3 124.9 300.4 115.5 297.7 130.1 308.7 118.8 308.7 109.4 309.4 116.6 294.0 129.4 296.7 127.9 299.7 122.4 305.3 124.6 299.2 126.5 299.1 125.2 305.3 109.7 310.0 106.8 302.2 126.7 307.9 109.3 307.0 125.8 309.6 114.9 309.6 130.6 306.1 131.1 291.1 128.6 303.7 128.0 299.3 119.8 299.8 128.8 308.7 105.1 302.5 128.5 300.7 124.0 294.3 128.1 293.9 127.9 311.1 120.0 305.9 129.1 304.9 115.5 302.2 118.0 295.2 129.8 311.3 126.8 300.1 130.6 307.8 114.0 305.8 106.6 308.4 114.4 311.5 123.2 302.2 127.7 304.4 132.3 307.4 118.4 309.3 105.1 309.5 109.4 297.1 132.0 309.4 111.0 305.7 113.2 306.2 110.3 309.8 121.3 303.6 117.5 308.0 125.6 310.5 104.7 300.2 130.9 300.1 133.6 302.8 116.2 295.3 131.7 303.8 120.7 304.9 129.5 305.8 128.1 298.3 129.3" fill="none" stroke="none" marker-start="url(#m3)" marker-mid="url(#m3)" marker-end="url(#m3)"/>
<path d="M334.5 119.4 347.5 103.5 338.0 105.9 347.4 107.7 321.1 119.6 321.8 111.5 325.4 108.9 313.5 121.4 321.7 112.8 310.7 111.7 347.8 109.3 334.1 114.6 326.4 117.0 347.4 112.2 346.1 114.9 333.1 111.4 349.5 109.1 312.6 113.7 313.3 103.3 311.2 103.6 335.0 108.4 328.6 123.5 327.8 114.8 338.1 108.5 324.8 125.9 314.9 120.2 332.1 95.9 331.0 104.3 316.8 106.8 331.5 122.5 319.8 99.9 316.6 105.4 347.8 108.8 308.5 98.4 316.1 101.7 304.0 120.4 315.7 114.5 337.9 107.4 342.5 113.5 344.6 99.6 317.9 123.3 336.7 117.9 327.2 95.9 342.2 102.6 326.2 100.3 319.0 122.3 348.8 109.9 344.6 110.3 329.5 100.8 321.7 118.5 316.5 95.5 327.4 98.7 312.1 113.1 347.5 110.8 330.5 114.4 340.0 115.5 339.9 109.7 312.9 101.6 347.6 109.2 339.7 111.5 325.8 101.2 346.5 118.8 326.8 104.3 308.6 113.4 322.9 121.2 330.9 96.5 342.9 111.7 316.2 97.9 333.3 108.1 335.5 107.0 317.3 112.9 318.3 101.3 328.0 105.7 312.0 106.7 340.0 102.6 346.5 110.0 335.4 119.3 343.5 100.4 308.1 111.7 311.7 110.0 321.8 118.9 324.2 118.1 346.2 101.1 345.7 111.7 327.3 115.4 328.2 118.5 334.9 95.0 340.1 117.2 340.3 94.0 341.5 110.0 324.2 111.8 312.6 102.9 325.4 118.7 336.5 122.0 310.8 106.9 325.9 99.4 338.0 104.9 313.2 104.9 344.9 101.8 329.7 114.2 311.5 107.4 316.4 116.7 347.6 111.6 335.1 119.3 318.6 125.3 325.7 119.7 326.3 107.7 312.4 110.6 322.0 91.3 311.8 105.2 313.8 106.9 341.9 121.2 349.0 105.7 345.8 114.6 318.3 115.5 322.9 118.2 317.5 117.7 351.0 112.1 328.0 123.3 321.5 117.5 313.4 109.7 339.0 112.8 314.7 120.6 325.1 125.7 343.3 101.7 319.1 110.0 316.8 114.2 342.9 114.0 324.4 95.7 318.2 120.1 320.9 114.4 326.0 93.6 330.0 115.9 334.1 96.4 328.2 118.9 344.9 101.4 325.7 108.4 323.7 91.0 309.3 99.8 332.8 106.7 327.4 121.6 329.2 118.9 333.1 98.6 342.8 102.6 322.9 116.4 324.0 125.4 322.4 113.9 330.7 121.7 330.0 107.4 308.7 99.9 326.3 90.9 354.6 105.9 337.4 110.5 308.4 106.1 320.6 122.0 350.1 108.5 324.9 94.7 319.9 117.8 315.7 105.3 344.5 105.6 341.3 119.2 348.3 113.4 333.3 99.3 344.2 118.8 337.7 101.2 332.0 116.5 347.8 100.7 328.3 123.8 327.7 98.3 326.3 93.9 349.4 111.4 342.7 94.6 344.0 107.1 328.5 111.3 307.2 122.0 347.0 100.2 338.9 106.6 317.0 108.9 350.4 109.4 331.7 116.1 318.1 122.9 334.1 117.0 307.0 114.9 348.2 101.2 336.9 115.0 310.5 117.2 332.7 98.9 318.0 119.7 322.8 107.5 341.6 104.0 344.4 104.4 317.2 103.9 345.6 115.4 325.5 96.5 327.1 116.5 314.8 117.0 312.8 100.6 332.9 104.4 339.0 110.8 317.8 114.5 347.7 110.5 344.7 103.3 339.1 114.9 341.2 114.7 314.5 107.5 313.4 105.3 322.9 121.5 327.7 112.5 316.2 99.6 342.7 111.1 330.6 108.6 319.0 96.2 338.3 103.0 321.2 101.4 320.4 115.3 342.1 97.0 353.2 104.9 312.3 128.6 339.5 107.4 345.5 104.7 321.3 122.9 346.3 109.2 349.0 112.6 315.7 113.8 326.9 101.0 327.5 109.3 324.3 115.1 326.7 109.3 306.4 119.7 324.7 100.8 320.2 125.7 316.7 97.5 325.1 112.0 347.5 100.1 348.3 107.0 331.6 104.0 312.8 96.1 323.1 104.3 314.6 123.8 341.9 98.1 316.0 113.9 315.9 101.8 329.1 104.1 341.3 114.9 337.5 114.4 327.4 99.1 332.7 111.1 345.0 116.8 315.4 106.2 337.0 107.6 340.5 99.7 321.0 121.8 334.9 110.3 324.1 121.4 325.3 101.6 340.3 95.9 348.3 100.2 338.8 110.5 340.8 102.7 344.8 100.0 322.3 116.5 313.2 102.1 337.1 106.7 317.6 117.7 323.1 101.6 336.7 105.6 334.6 114.9 312.7 109.9 318.5 109.5 337.1 100.3 311.0 104.5 347.0 119.2 324.9 117.4 326.6 110.6 319.7 102.0 337.6 102.2 331.2 113.2 327.6 119.1 311.1 101.6 327.2 108.4 320.5 103.5 327.4 106.4 331.6 110.0 318.2 107.9 326.0 104.0 331.3 120.7 325.6 107.2 321.6 107.0 315.7 114.7 318.9 108.2 314.1 106.9 332.2 113.8 325.1 102.0 314.5 112.6 324.2 114.3 313.9 112.1 297.9 107.1 334.0 108.1 333.7 97.9 312.4 107.3 318.5 109.8 325.9 113.3 321.2 109.0 317.4 105.8 320.1 103.1 322.3 107.8 319.8 108.9 325.9 115.3 322.4 108.2 318.1 105.1 324.4 107.5 310.9 105.2 335.8 106.7 310.3 95.0 323.6 98.6 327.0 101.0 327.6 110.9 326.3 107.6 334.4 109.0 315.2 115.0 323.7 101.9 325.4 114.9 320.3 110.4 319.5 103.9 334.5 116.9 318.5 99.6 320.4 101.4 322.0 106.9 322.5 110.5 325.5 107.0 322.6 95.4 327.2 106.3 325.3 107.6 328.1 123.2 335.2 116.3 317.5 108.8 337.4 101.6 320.6 110.1 329.5 101.2 325.5 109.3 321.8 110.3 308.5 105.7 337.1 109.6 318.2 106.1 317.9 104.7 332.7 117.2 324.8 111.5 339.4 106.3 337.6 103.6 329.8 109.1 326.2 111.5 330.3 113.1 313.7 116.8 325.6 110.8 325.4 101.5 320.4 120.1 326.2 115.0 312.5 113.0 331.4 116.0 334.4 99.3 313.9 105.9 325.3 105.1 368.5 98.5 369.4 101.8 383.3 98.5 387.5 102.7 395.9 107.7 360.1 109.4 367.7 110.2 373.6 109.4 380.8 111.1 372.7 112.7 358.0 104.0 362.0 100.0" fill="none" stroke="none" marker-start="url(#m4)" marker-mid="url(#m4)" marker-end="url(#m4)"/>
<path d="M348.8 122.9 348.4 128.2 350.4 126.2 344.4 124.3 352.2 129.9 320.1 124.6 349.7 122.4 350.5 134.3 331.7 129.9 348.4 119.2 375.0 128.1 355.0 126.4 331.4 129.6 343.7 124.7 360.0 128.5 337.0 122.4 360.5 124.5 317.7 125.8 356.0 118.5 312.9 130.1 329.0 125.2 339.5 129.8 350.6 128.1 348.4 122.9 331.1 125.1 346.3 119.6 317.1 131.7 326.1 128.2 345.5 134.5 325.2 124.1 377.1 120.8 346.3 135.7 338.3 132.6 368.6 127.7 351.0 129.5 351.9 124.4 366.9 118.4 341.3 132.6 345.0 129.1 355.9 123.7 360.3 118.0 353.9 128.2 367.3 118.2 351.3 128.0 318.9 128.3 364.2 128.8 344.5 127.4 346.6 133.9 314.3 130.5 331.3 130.7 334.6 126.0 341.5 132.9 371.3 121.5 349.8 121.5 363.9 125.7 330.0 128.0 345.2 127.9 310.5 130.9 337.7 131.1 353.0 131.1 369.7 119.9 330.4 127.7 353.2 132.6 369.0 124.6 359.5 130.1 362.1 127.1 316.2 130.7 353.1 125.4 359.4 128.2 340.7 123.8 309.1 130.1 365.9 124.0 314.9 131.4 338.6 124.0 323.4 128.2 361.0 122.7 347.1 121.3 336.0 134.1 359.1 119.6 354.7 130.1 336.2 134.9 330.4 132.0 351.0 121.4 358.4 130.4 330.4 123.9 365.2 132.0 344.9 132.4 361.8 124.9 372.0 121.0 344.3 131.2 317.9 131.5 340.3 133.8 348.6 127.3 359.3 124.7 367.8 125.2 316.6 128.7 362.5 131.0 344.3 126.7 337.5 131.3 315.5 135.1 318.7 134.4 322.8 129.9 314.6 129.0 360.3 128.7 338.8 131.6 351.6 127.9 319.6 126.3 342.9 123.8 370.1 121.1 361.3 117.2 345.0 133.1 364.9 121.3 355.3 120.5 345.6 123.2 325.8 132.3 326.4 127.4 331.3 128.6 372.6 123.4 329.5 130.4 358.0 120.9 367.0 121.9 358.0 117.8 333.7 127.3 337.9 131.7 333.7 126.2 361.3 127.4 361.1 125.3 338.4 126.9 357.1 128.6 328.8 132.1 362.9 122.3 346.2 118.5 317.5 126.8 371.1 127.6 368.1 118.2 335.4 131.3 326.4 130.1 368.7 116.2 335.0 122.4 347.5 120.8 367.5 120.5 328.2 129.6 316.4 124.7 316.5 132.8 332.1 124.6 335.0 133.3 324.9 124.5 357.5 121.7 351.5 135.7 356.8 128.3 337.9 137.2 346.5 119.7 320.6 133.0 351.4 127.4 320.3 132.5 348.8 120.9 349.4 118.0 319.9 126.3 315.8 133.5 372.4 117.9 347.2 127.8 354.0 130.4 335.8 133.3 316.9 133.3 344.8 130.0 372.8 120.7 308.4 130.6 374.3 128.4 348.6 129.6 358.4 121.8 363.1 125.1 380.4 124.3 362.4 120.5 367.1 128.5 350.1 123.0 354.2 124.3 309.6 133.0 348.8 130.7 344.9 136.0 337.5 128.0 356.9 127.1 339.8 135.0 369.6 123.9 362.3 124.2 354.8 124.1 354.6 120.4 370.2 116.6 309.2 131.0 357.9 120.0 347.9 130.6 359.5 130.3 355.7 120.5 351.2 119.1 345.9 133.0 340.9 123.8 319.3 122.9 321.4 124.1 362.7 130.4 351.5 133.3 349.2 120.2 358.0 122.6 371.2 124.6 376.9 123.9 318.3 126.8 359.9 127.3 333.4 130.4 338.3 124.2 313.8 132.4 332.1 126.2 372.0 125.3 348.5 129.4 331.3 131.3 373.3 127.1 358.4 125.6 357.9 124.6 351.0 122.6 359.1 120.3 371.5 126.6 360.4 127.9 333.1 133.8 363.1 116.0 336.6 125.2 342.8 122.5 336.4 131.5 317.3 132.1 363.1 127.4 368.9 132.3 323.2 132.1 340.0 122.8 321.8 132.2 328.4 128.4 334.2 130.9 345.1 125.0 319.7 124.3 344.4 128.1 355.5 119.8 368.9 122.8 346.5 121.4 311.2 129.7 377.5 122.6 313.8 130.1 343.6 132.0 323.8 128.0 366.9 120.9 356.2 131.9 365.0 130.1 370.9 126.8 360.9 122.8 322.8 130.3 365.4 120.4 348.8 118.6 371.1 122.7 345.9 129.8 368.8 124.0 327.7 136.6 338.9 130.2 330.5 131.8 369.3 131.5 375.8 125.3 349.4 131.5 369.0 117.8 354.8 122.2 362.3 122.1 362.2 131.2 322.9 126.8" fill="none" stroke="none" marker-start="url(#m5)" marker-mid="url(#m5)" marker-end="url(#m5)"/>
<path d="M277.6 19.1V151.5H450.3M277.6 151.5v-2.0M320.8 151.5v-2.0M364.0 151.5v-2.0M407.1 151.5v-2.0M450.3 151.5v-2.0M277.6 151.5h2.0M277.6 118.4h2.0M277.6 85.3h2.0M277.6 52.2h2.0M277.6 19.1h2.0" stroke="#333" stroke-width="0.8" fill="none"/>
<text x="277.6" y="163.6" font-size="9.2" text-anchor="middle" fill="#000">0</text>
<text x="320.8" y="163.6" font-size="9.2" text-anchor="middle" fill="#000">40</text>
<text x="364.0" y="163.6" font-size="9.2" text-anchor="middle" fill="#000">80</text>
<text x="407.1" y="163.6" font-size="9.2" text-anchor="middle" fill="#000">120</text>
<text x="450.3" y="163.6" font-size="9.2" text-anchor="middle" fill="#000">160</text>
<text x="272.6" y="154.7" font-size="9.2" text-anchor="end" fill="#000">0</text>
<text x="272.6" y="121.6" font-size="9.2" text-anchor="end" fill="#000">100</text>
<text x="272.6" y="88.5" font-size="9.2" text-anchor="end" fill="#000">200</text>
<text x="272.6" y="55.4" font-size="9.2" text-anchor="end" fill="#000">300</text>
<text x="272.6" y="22.3" font-size="9.2" text-anchor="end" fill="#000">400</text>
<rect x="392.2" y="18.5" width="58.4" height="55.4" fill="#fff" stroke="#000" stroke-width="1.1"/>
<g transform="translate(400.4 24.0) scale(0.85)"><path d="M0 0h0.01" marker-start="url(#m1)" stroke="none"/></g>
<text x="407.5" y="27.6" font-size="9.0" text-anchor="start" fill="#000">Gesture 1</text>
<g transform="translate(400.4 35.1) scale(0.85)"><path d="M0 0h0.01" marker-start="url(#m2)" stroke="none"/></g>
<text x="407.5" y="38.7" font-size="9.0" text-anchor="start" fill="#000">Gesture 2</text>
<g transform="translate(400.4 46.2) scale(0.85)"><path d="M0 0h0.01" marker-start="url(#m3)" stroke="none"/></g>
<text x="407.5" y="49.8" font-size="9.0" text-anchor="start" fill="#000">Gesture 3</text>
<g transform="translate(400.4 57.3) scale(0.85)"><path d="M0 0h0.01" marker-start="url(#m4)" stroke="none"/></g>
<text x="407.5" y="60.9" font-size="9.0" text-anchor="start" fill="#000">Gesture 4</text>
<g transform="translate(400.4 68.4) scale(0.85)"><path d="M0 0h0.01" marker-start="url(#m5)" stroke="none"/></g>
<text x="407.5" y="72.0" font-size="9.0" text-anchor="start" fill="#000">Gesture 5</text>
<text x="362.6" y="177.3" font-size="9.05" text-anchor="middle" fill="#000">Absolute mean value of channel 1</text>
<text x="249.8" y="84.0" font-size="9.05" text-anchor="middle" fill="#000" transform="rotate(-90 249.8 84.0)">Absolute mean value of channel 2</text>
<text x="241.6" y="10.9" font-size="14.5" text-anchor="start" font-weight="bold" fill="#000">b</text>
<path d="M535.7 20.1V151.8M564.4 20.1V151.8M593.1 20.1V151.8M621.9 20.1V151.8M650.6 20.1V151.8M679.3 20.1V151.8M507.0 129.9H679.3M507.0 107.9H679.3M507.0 86.0H679.3M507.0 64.0H679.3M507.0 42.0H679.3M507.0 20.1H679.3" stroke="#dcdcdc" stroke-width="0.6" fill="none"/>
<path d="M527.0 55.9 527.6 87.6 535.8 52.1 518.9 90.6 539.5 64.7 536.6 86.7 533.8 62.7 525.3 81.4 528.1 90.8 539.4 78.8 531.6 77.1 547.7 95.8 542.9 79.7 539.9 54.5 525.3 69.0 531.5 93.1 519.8 83.9 527.8 80.5 539.9 91.6 535.2 74.7 529.5 66.3 523.6 90.4 544.2 84.2 532.4 77.9 536.5 79.6 544.2 92.4 528.2 52.6 533.8 68.1 520.1 86.3 536.1 58.4 536.7 84.4 545.8 91.3 544.1 90.0 527.8 93.7 534.1 97.4 537.9 62.4 542.9 71.8 532.8 78.4 523.9 69.6 535.8 56.1 538.5 88.9 528.3 60.7 537.8 86.9 536.3 91.9 528.5 72.5 519.6 92.4 543.6 67.9 523.8 58.8 528.6 95.6 538.2 87.6 531.3 74.8 544.8 70.4 526.8 85.5 538.9 83.8 541.4 70.8 543.3 84.2 523.3 71.2 530.1 75.3 525.1 90.5 544.6 65.5 542.7 75.5 525.3 76.6 524.8 85.4 525.8 59.2 528.9 89.6 538.2 68.9 525.1 84.8 531.3 97.1 529.5 56.5 531.3 86.2 530.5 69.9 527.7 99.3 530.0 96.7 523.0 81.0 539.5 74.2 543.7 94.1 534.0 63.1 529.3 56.0 522.3 66.9 534.3 91.1 525.4 71.9 541.5 82.5 533.8 57.0 543.9 62.1 534.7 56.9 539.9 80.8 528.4 81.7 536.9 88.8 527.0 83.2 539.8 85.1 527.6 58.6 532.2 99.8 534.9 60.3 529.3 84.9 538.5 81.2 537.6 83.6 537.5 60.2 545.8 90.1 524.8 92.1 530.8 60.7 533.8 80.4 531.3 68.5 529.1 95.6 524.6 101.5 547.1 97.1 532.2 57.0 538.0 56.1 528.4 78.7 539.4 68.2 545.0 70.1 540.9 54.4 526.9 56.7 541.9 59.4 524.5 56.7 547.4 88.6 544.5 74.1 525.8 89.3 525.9 99.9 537.2 56.4 524.3 77.8 526.5 64.5 521.1 89.1 523.3 68.2 537.8 92.6 521.9 55.8 536.7 54.1 529.9 84.6 526.2 73.4 530.1 59.4 534.0 94.2 540.1 62.0 534.2 94.0 527.0 93.0 528.8 67.3 523.5 82.2 535.2 57.6 541.8 60.6 530.8 94.3 526.6 63.2 542.5 77.8 535.7 59.0 532.1 57.7 530.6 78.5 523.5 50.9 526.0 89.2 531.5 55.2 526.2 95.6 534.5 49.5 536.4 94.8 532.9 87.6 523.8 62.2 530.8 88.0 537.1 90.8 537.2 72.0 523.9 59.7 531.9 55.4 538.8 84.4 530.2 93.1 544.3 80.6 537.0 75.6 528.5 89.1 539.9 90.9 543.1 84.6 521.7 98.4 529.1 54.8 528.4 87.4 537.9 69.5 521.7 94.9 523.5 64.8 543.2 74.8 531.9 74.3 534.8 82.5 530.6 97.6 532.0 73.3 525.1 83.8 533.2 74.3 540.2 57.5 543.6 78.3 527.5 70.6 534.0 73.8 532.2 86.9 546.3 87.3 524.7 98.0 524.9 91.1 523.4 59.2 525.8 51.0 544.5 90.0 528.0 55.8 530.7 65.6 527.9 58.7 527.9 68.1 524.8 93.2 529.9 99.2 541.6 84.9 523.5 94.3 541.8 63.0 541.8 95.4 537.8 65.7 525.2 92.7 532.3 86.0 530.8 86.6 529.8 96.9 541.5 85.4 537.5 87.6 531.4 94.0 532.3 93.6 535.1 85.4 534.7 88.9 536.8 86.7 529.6 84.8 543.9 91.8 540.3 93.2 531.3 89.4 522.0 90.2 536.3 95.6 535.0 87.4 535.4 98.0 526.2 94.6 531.0 88.3 539.4 84.7 529.8 82.4 531.0 82.7 542.8 92.7 539.0 87.3 528.2 91.7 532.3 97.4 537.9 86.5 535.3 88.5 530.0 80.3 529.5 90.0 532.6 91.4 540.1 93.0 537.9 94.2 533.8 84.6 534.4 93.3 529.7 94.6 531.8 86.6 540.8 86.8 531.3 88.5 531.0 87.9 540.9 92.3 534.8 92.9 533.6 88.4 541.6 86.6 555.5 28.2 562.2 91.0 577.1 94.1 566.6 102.3 552.2 86.2 551.7 70.8 550.8 74.3 547.3 57.1 541.2 44.2 526.6 45.1 521.9 48.0 549.0 80.0 548.0 92.0" fill="none" stroke="none" marker-start="url(#m1)" marker-mid="url(#m1)" marker-end="url(#m1)"/>
<path d="M517.3 115.9 521.0 120.1 519.0 98.4 517.7 110.5 520.6 124.5 517.2 103.4 517.3 128.2 521.9 118.6 516.3 107.2 518.9 127.6 516.8 128.4 520.2 125.0 520.3 103.2 518.9 106.5 514.5 120.4 521.4 102.0 518.1 116.1 523.8 102.4 516.9 119.0 515.5 115.1 520.5 99.5 516.7 115.5 519.3 102.8 519.2 131.0 516.9 118.6 521.4 108.0 522.0 103.0 519.1 118.0 519.6 109.2 518.4 117.5 519.8 106.9 520.7 99.9 522.3 111.5 521.9 107.2 517.0 112.6 519.2 114.4 518.2 129.3 520.4 111.0 518.4 107.1 520.7 118.7 521.2 121.4 515.5 127.4 514.0 122.9 518.5 113.5 519.2 101.3 519.9 102.5 514.3 118.5 520.7 116.6 522.3 123.8 520.3 120.1 521.5 106.2 520.1 115.5 516.2 116.6 517.7 128.3 517.8 116.2 515.0 120.6 518.7 130.0 523.0 100.2 517.1 113.1 515.5 126.7 521.8 116.5 514.1 118.1 515.4 113.3 516.8 110.4 515.7 116.2 610.7 136.2 609.0 139.4 597.9 134.5 605.6 136.8 569.5 137.5 612.6 134.6 584.9 138.6 594.0 139.1 595.2 139.5 569.3 139.1 616.4 134.3 584.4 140.5 571.6 137.5 615.8 133.6 589.5 137.5 576.3 140.5 621.1 137.8 571.7 142.5 586.4 139.0 576.0 136.1 612.9 138.2 619.2 137.3 613.4 138.3 584.2 136.8 602.6 135.5 615.4 135.7 613.0 138.6 594.8 138.4 590.4 136.7 590.3 136.7 578.5 139.1 612.1 136.1 578.6 137.4 570.7 137.3 582.8 137.7 575.6 138.5 621.5 138.7 593.4 133.2 577.6 135.8 572.7 136.9 604.8 139.5 587.0 139.0 573.6 138.3 592.0 138.4 574.8 140.7 584.9 135.5 601.9 140.5 570.3 140.1 591.8 139.2 582.4 135.1 572.8 136.7 610.3 133.2 571.1 141.7 589.0 138.6 576.6 141.6 580.5 142.3 578.7 137.0 583.1 139.2 608.6 136.1 607.9 138.6 590.0 137.9 616.9 134.3 576.4 140.2 597.5 138.0 610.0 134.3 595.2 138.4 617.4 137.3 569.5 141.2 581.3 136.9 610.0 134.2 618.1 137.0 580.7 141.0 593.1 137.3 585.5 137.9 607.7 139.1 580.1 141.2 606.6 137.1 612.3 137.4 605.3 136.2 576.6 139.5 596.9 140.4 604.7 134.8 608.1 134.4 619.5 135.7 585.9 140.3 612.7 135.5 576.6 136.7 615.3 135.0 613.9 134.1 594.5 134.5 576.3 142.0 597.7 137.2 580.5 137.3 574.0 137.2 602.9 133.6 609.2 139.0 597.6 138.0 592.2 138.6 599.7 137.5 578.4 138.6 606.8 134.6 615.7 137.6 601.4 134.5 603.7 137.5 612.0 138.2 587.7 138.4 589.4 138.4 578.1 135.7 577.5 139.9 613.6 138.1 585.0 137.0 615.6 136.3 595.4 136.7 618.5 135.9 600.5 137.8 618.6 134.7 584.7 137.5 608.0 137.2 639.8 134.6 645.6 137.2 653.5 138.5 630.0 136.0 634.0 137.0" fill="none" stroke="none" marker-start="url(#m2)" marker-mid="url(#m2)" marker-end="url(#m2)"/>
<path d="M528.9 106.9 524.1 126.4 521.2 136.1 519.7 138.8 521.6 132.6 518.3 126.3 528.2 109.1 521.6 127.4 529.6 107.9 528.4 115.7 521.7 122.5 516.7 127.6 522.0 139.6 522.7 136.7 517.5 133.1 518.8 128.3 521.8 130.6 523.7 133.2 520.3 130.4 520.6 131.9 523.5 131.6 523.1 123.8 527.6 109.0 525.4 129.6 519.1 130.9 522.8 122.1 525.4 115.5 520.2 131.0 521.9 128.8 525.9 122.1 524.5 123.0 518.7 131.5 528.0 110.0 522.0 127.0 526.2 117.2 518.7 136.5 521.7 128.6 519.9 126.2 524.7 116.5 526.3 111.8 522.0 126.2 522.4 120.6 528.7 107.8 529.8 105.1 523.1 132.6 528.3 115.4 526.6 110.8 524.2 115.8 530.7 109.4 521.1 125.1 527.7 113.1 522.7 124.8 529.5 109.4 526.2 114.3 517.6 135.2 522.0 125.4 521.9 134.0 516.9 133.7 522.3 123.1 521.3 135.9 526.7 117.2 523.6 120.1 522.2 128.5 519.1 137.1 526.8 123.2 527.5 110.9 517.2 131.4 527.7 112.1 528.8 112.2 521.6 123.6 522.4 132.7 519.5 136.7 525.5 131.8 527.9 107.8 521.5 136.6 523.2 121.2 517.1 131.0 524.0 129.9 521.8 134.3 521.3 130.4 526.5 117.5 527.3 114.3 523.8 119.9 524.6 117.5 524.8 115.7 518.0 132.3 526.4 116.0 523.3 135.6 524.8 118.3 527.0 112.1 522.0 129.5 529.2 110.0 528.0 108.3 514.6 133.9 524.5 134.0 517.6 132.7 518.6 131.2 518.9 128.3 526.6 115.5 519.5 129.3 525.3 117.7 528.8 115.1 523.8 126.9 525.9 117.4 525.3 115.1 521.6 133.5 517.7 129.6 528.5 115.0 525.4 118.6 523.6 124.7 524.6 116.8 525.0 121.3 528.6 110.5 525.5 113.7" fill="none" stroke="none" marker-start="url(#m3)" marker-mid="url(#m3)" marker-end="url(#m3)"/>
<path d="M558.2 110.1 539.6 123.3 555.0 100.3 539.4 103.0 546.3 115.8 567.5 117.6 535.7 113.6 541.3 98.6 560.6 108.4 564.7 108.9 539.0 103.9 541.3 115.7 553.8 114.0 554.5 103.7 541.0 125.3 542.5 96.2 526.1 113.4 547.0 119.8 549.1 112.6 538.7 130.0 547.6 103.5 549.4 109.2 547.5 123.1 544.2 112.1 555.5 98.8 538.2 127.5 534.4 123.2 551.5 122.1 543.1 121.5 544.3 126.2 547.5 114.0 522.9 130.7 537.5 117.6 553.2 123.3 539.7 124.6 531.8 111.9 552.9 103.2 540.1 101.9 547.1 103.7 551.4 115.4 527.6 126.9 546.2 117.0 551.8 119.1 545.3 119.3 524.6 128.7 544.6 110.6 542.7 117.1 534.2 120.1 540.0 120.9 540.8 110.0 535.2 108.8 544.9 98.4 555.0 100.7 561.4 117.1 537.5 112.7 538.1 131.2 543.5 125.7 556.9 103.7 557.6 100.7 533.0 107.6 565.4 125.3 547.6 116.9 537.5 126.5 523.8 134.0 555.4 121.7 557.8 107.7 554.2 125.4 551.0 121.8 545.7 102.1 531.3 123.5 534.4 122.0 553.1 100.5 538.3 116.2 536.1 124.0 528.8 134.3 565.4 111.3 544.5 104.2 549.7 125.9 542.6 102.9 562.9 107.4 534.5 129.5 549.6 105.3 533.7 119.3 551.1 111.9 547.7 104.0 547.3 117.0 542.9 114.5 562.8 118.0 530.0 111.3 541.1 99.2 539.2 123.8 547.3 99.8 536.5 96.8 545.7 117.9 549.8 108.1 544.1 113.7 563.7 107.0 535.6 116.6 561.1 121.1 530.9 127.3 528.5 124.3 536.9 114.1 540.7 126.8 543.5 99.9 534.8 119.5 541.7 113.5 552.7 114.8 538.1 98.0 540.9 112.8 554.6 105.3 535.3 120.7 542.0 127.2 540.6 96.7 532.2 110.7 537.1 117.7 557.3 103.4 532.8 118.5 527.9 125.6 537.0 121.3 525.0 135.0 541.7 105.6 523.7 131.1 540.4 105.1 541.2 120.7 554.4 115.1 531.9 129.0 534.7 129.8 546.9 113.8 542.5 109.4 534.8 125.5 537.4 124.7 559.4 106.1 539.1 102.9 541.2 126.7 554.0 117.1 554.3 100.1 562.2 116.4 552.9 107.3 540.9 117.7 542.0 123.6 552.5 105.9 560.4 106.1 526.1 121.5 550.4 123.7 529.7 124.4 556.6 106.3 555.6 113.8 530.6 115.1 530.3 112.7 544.7 114.6 531.5 114.7 537.4 113.3 524.5 127.7 531.0 128.8 561.2 118.2 558.8 122.6 533.5 128.0 554.0 100.4 550.1 113.3 537.2 103.2 562.6 109.6 564.4 118.4 554.1 100.0 546.1 97.6 544.7 105.6 554.8 110.0 544.3 118.9 533.9 108.3 546.7 100.6 527.6 119.6 542.3 110.6 534.0 122.1 545.2 113.9 548.9 107.3 545.6 108.3 527.7 116.9 544.4 102.8 534.8 127.0 546.8 100.3 564.0 118.9 532.2 109.5 550.9 104.3 527.9 126.6 546.2 125.5 558.8 117.1 555.7 98.4 537.7 116.9 550.6 118.5 542.5 130.2 531.8 122.3 552.3 103.4 553.1 120.0 547.8 115.6 542.6 123.5 548.5 120.6 526.2 121.5 553.6 113.3 564.4 117.1 541.8 119.8 561.2 101.4 547.4 115.8 554.2 113.1 563.8 110.0 527.4 131.3 565.1 116.9 555.7 115.4 533.3 113.7 534.3 114.0 554.0 112.6 553.5 122.8 549.1 115.1 539.3 118.8 549.5 113.6 534.0 119.4 543.0 119.6 533.2 114.6 542.5 131.8 534.6 118.0 541.2 120.7 545.3 119.3 534.2 117.7 528.7 122.7 539.7 126.9 544.6 118.2 542.6 113.6 534.6 121.9 546.8 105.8 538.9 119.6 546.3 117.5 534.8 120.6 544.0 109.7 549.2 116.0 536.3 112.5 538.9 115.4 545.3 122.1 544.6 117.4 543.4 115.0 540.1 125.6 530.0 118.6 540.9 106.5 531.9 112.3 541.5 120.9 524.6 121.1 550.9 119.8 554.1 120.0 544.0 113.1 535.0 117.9 538.8 111.4 547.1 113.5 545.5 113.0 536.0 113.4 549.2 116.3 545.9 117.0 544.6 113.6 538.4 124.7 540.8 115.6 535.9 127.4 542.2 124.2 536.3 111.1 549.0 123.5 541.1 110.0 542.3 126.8 543.1 120.2 543.1 112.3 531.0 105.2 549.7 115.8 541.5 110.2 537.0 124.6 534.1 110.8 536.1 116.8 556.9 91.8 578.0 103.2 585.5 103.7 574.4 112.0 584.4 112.5 582.3 118.1 571.8 121.6 577.1 121.6 570.0 108.0" fill="none" stroke="none" marker-start="url(#m4)" marker-mid="url(#m4)" marker-end="url(#m4)"/>
<path d="M560.9 125.7 535.1 134.9 534.6 132.6 579.7 124.5 578.7 122.7 557.7 125.2 568.2 124.2 544.6 138.2 545.4 132.0 574.5 126.4 530.7 134.8 549.2 129.1 563.3 127.4 558.7 127.0 573.2 124.0 534.8 135.1 538.5 132.5 533.9 133.1 553.4 135.6 559.1 129.5 558.4 127.1 572.1 127.8 530.9 137.6 542.9 128.9 568.4 128.6 545.9 135.7 562.8 127.7 540.3 133.3 552.4 132.9 554.9 140.8 559.1 137.5 545.0 135.6 574.6 127.2 564.2 124.5 572.8 119.7 551.3 137.8 562.7 129.6 575.0 125.1 580.4 126.0 574.2 126.0 568.2 122.4 535.8 132.5 544.9 135.5 553.3 136.2 563.8 129.9 575.9 126.6 557.0 134.2 566.1 123.5 529.8 136.9 570.7 131.5 565.7 123.2 559.5 125.5 570.7 129.6 559.5 132.0 554.8 136.5 556.7 130.7 570.7 124.2 575.5 127.6 553.3 136.2 574.0 128.3 565.7 134.5 570.6 128.4 524.9 136.6 566.6 123.5 573.0 131.1 560.2 137.8 565.7 128.8 579.0 128.2 567.9 132.0 533.6 135.5 557.9 134.4 574.0 131.2 558.9 133.4 542.2 132.4 575.4 132.2 570.0 126.1 571.8 127.3 561.2 131.7 550.1 134.7 559.7 138.0 561.3 137.5 542.6 132.5 535.0 140.3 560.9 122.2 550.8 138.2 571.5 126.4 539.2 138.3 571.3 132.1 566.8 133.0 569.6 125.3 552.2 133.5 547.1 131.2 572.8 125.7 568.2 132.0 564.2 129.1 569.9 131.9 577.8 131.0 571.2 126.6 571.2 126.7 536.3 135.1 568.2 129.6 575.7 122.5 553.8 137.5 555.6 131.8 536.1 137.9 548.9 127.5 553.8 131.6 556.7 125.8 580.1 129.3 547.2 137.4 571.7 126.1 559.8 134.4 561.1 124.4 563.4 126.3 547.2 130.7 540.1 131.0 558.3 129.2 538.2 137.6 539.4 132.3 534.5 130.2 554.5 133.8 559.3 125.4 573.4 127.4 567.5 129.5 556.5 135.7 566.5 124.5 565.6 126.3 561.4 136.8 560.8 132.5 571.7 124.9 577.3 127.7 530.9 134.7 550.7 128.1 534.5 136.3 570.2 121.4 533.1 137.4 545.7 135.8 565.7 130.6 568.5 122.0 569.0 123.4 567.1 124.6 552.0 136.4 544.5 138.2 561.5 126.8 577.3 129.2 559.5 131.2 542.8 137.6 557.7 133.8 529.7 138.7 554.4 129.3 556.4 127.2 554.1 134.5 540.2 134.6 539.0 136.3 568.9 131.1 534.2 133.8 569.6 125.3 575.4 130.4 529.9 139.6 537.7 137.9 547.5 131.2 556.4 127.0 543.2 136.6 538.7 137.3 565.3 133.0 542.5 137.4 576.7 132.2 553.2 128.1 538.3 134.2 567.6 129.9 578.5 125.3 571.7 121.8 543.4 133.3 545.8 137.7 552.4 128.7 534.2 137.4 566.7 136.1 530.0 135.9 559.3 128.0 570.1 129.6 570.7 127.4 544.1 134.7 546.5 127.1 549.2 132.5 558.4 125.6 530.8 133.9 561.8 130.0 570.9 128.4 532.8 138.5 540.1 137.6 578.6 127.4 529.7 138.8 549.4 139.4 570.4 124.7 551.9 137.2 564.4 132.3 549.4 136.5 538.8 135.8 553.6 125.6 533.8 133.8 543.4 139.9 550.9 137.9 553.8 136.8 562.8 135.1 559.7 131.5 544.0 132.8 544.8 134.8 560.1 131.3 543.9 131.6 559.0 136.5 573.0 131.8 567.9 131.2 574.9 126.5 571.5 122.1 547.3 129.5 539.2 135.5 543.6 134.0 547.0 136.3 535.2 137.2 561.8 127.1 535.0 139.2 574.4 121.7" fill="none" stroke="none" marker-start="url(#m5)" marker-mid="url(#m5)" marker-end="url(#m5)"/>
<path d="M507.0 20.1V151.8H679.3M507.0 151.8v-2.0M535.7 151.8v-2.0M564.4 151.8v-2.0M593.1 151.8v-2.0M621.9 151.8v-2.0M650.6 151.8v-2.0M679.3 151.8v-2.0M507.0 151.8h2.0M507.0 129.9h2.0M507.0 107.9h2.0M507.0 86.0h2.0M507.0 64.0h2.0M507.0 42.0h2.0M507.0 20.1h2.0" stroke="#333" stroke-width="0.8" fill="none"/>
<text x="507.0" y="163.9" font-size="9.2" text-anchor="middle" fill="#000">0</text>
<text x="535.7" y="163.9" font-size="9.2" text-anchor="middle" fill="#000">0.5</text>
<text x="564.4" y="163.9" font-size="9.2" text-anchor="middle" fill="#000">1</text>
<text x="593.1" y="163.9" font-size="9.2" text-anchor="middle" fill="#000">1.5</text>
<text x="621.9" y="163.9" font-size="9.2" text-anchor="middle" fill="#000">2</text>
<text x="650.6" y="163.9" font-size="9.2" text-anchor="middle" fill="#000">2.5</text>
<text x="679.3" y="163.9" font-size="9.2" text-anchor="middle" fill="#000">3</text>
<text x="502.0" y="155.0" font-size="9.2" text-anchor="end" fill="#000">0</text>
<text x="502.0" y="133.1" font-size="9.2" text-anchor="end" fill="#000">1</text>
<text x="502.0" y="111.1" font-size="9.2" text-anchor="end" fill="#000">2</text>
<text x="502.0" y="89.2" font-size="9.2" text-anchor="end" fill="#000">3</text>
<text x="502.0" y="67.2" font-size="9.2" text-anchor="end" fill="#000">4</text>
<text x="502.0" y="45.3" font-size="9.2" text-anchor="end" fill="#000">5</text>
<text x="502.0" y="23.3" font-size="9.2" text-anchor="end" fill="#000">6</text>
<rect x="620.9" y="19.5" width="58.1" height="56.1" fill="#fff" stroke="#000" stroke-width="1.1"/>
<g transform="translate(629.1 25.1) scale(0.85)"><path d="M0 0h0.01" marker-start="url(#m1)" stroke="none"/></g>
<text x="636.2" y="28.7" font-size="9.0" text-anchor="start" fill="#000">Gesture 1</text>
<g transform="translate(629.1 36.3) scale(0.85)"><path d="M0 0h0.01" marker-start="url(#m2)" stroke="none"/></g>
<text x="636.2" y="39.9" font-size="9.0" text-anchor="start" fill="#000">Gesture 2</text>
<g transform="translate(629.1 47.5) scale(0.85)"><path d="M0 0h0.01" marker-start="url(#m3)" stroke="none"/></g>
<text x="636.2" y="51.1" font-size="9.0" text-anchor="start" fill="#000">Gesture 3</text>
<g transform="translate(629.1 58.8) scale(0.85)"><path d="M0 0h0.01" marker-start="url(#m4)" stroke="none"/></g>
<text x="636.2" y="62.4" font-size="9.0" text-anchor="start" fill="#000">Gesture 4</text>
<g transform="translate(629.1 70.0) scale(0.85)"><path d="M0 0h0.01" marker-start="url(#m5)" stroke="none"/></g>
<text x="636.2" y="73.6" font-size="9.0" text-anchor="start" fill="#000">Gesture 5</text>
<text x="593.5" y="177.3" font-size="9.05" text-anchor="middle" fill="#000">Waveform length of channel 1(×10<tspan font-size="6" dy="-4.2">4</tspan><tspan dy="4.2">)</tspan></text>
<text x="476.5" y="87.2" font-size="9.05" text-anchor="middle" fill="#000" transform="rotate(-90 476.5 87.2)">Waveform length of channel</text>
<text x="487.7" y="85.1" font-size="9.05" text-anchor="middle" fill="#000" transform="rotate(-90 487.7 85.1)">2(×10<tspan font-size="6" dy="-3.5">4</tspan><tspan dy="3.5">)</tspan></text>
<text x="469.0" y="10.9" font-size="14.5" text-anchor="start" font-weight="bold" fill="#000">c</text>
<path d="M81.9 206.5V339.8M115.8 206.5V339.8M149.8 206.5V339.8M183.7 206.5V339.8M217.6 206.5V339.8M48.0 317.6H217.6M48.0 295.4H217.6M48.0 273.1H217.6M48.0 250.9H217.6M48.0 228.7H217.6M48.0 206.5H217.6" stroke="#dcdcdc" stroke-width="0.6" fill="none"/>
<path d="M67.4 266.4 80.6 285.7 79.3 281.5 91.1 283.7 81.1 258.4 92.5 279.3 90.3 260.8 66.8 262.4 71.5 266.6 79.5 283.9 82.9 264.0 84.7 281.7 81.5 273.7 65.2 251.2 72.3 278.7 82.5 268.6 66.4 260.7 96.4 264.4 101.4 271.4 79.3 257.4 74.0 270.4 74.0 255.5 98.0 270.8 91.9 269.8 67.6 276.9 65.3 275.6 91.8 273.2 60.7 281.4 67.4 272.6 77.6 280.6 94.7 284.9 66.8 287.5 89.1 273.3 72.6 269.8 71.9 250.5 71.5 279.8 66.5 281.5 77.5 249.9 73.0 284.4 74.3 256.6 89.6 259.8 94.7 280.2 63.6 264.1 96.2 256.1 90.6 276.7 78.8 274.9 98.9 274.1 73.5 279.0 70.7 275.6 64.7 266.6 73.7 280.4 94.7 278.9 90.9 264.1 78.0 281.3 82.7 275.8 77.1 291.9 65.4 253.0 85.7 257.5 74.3 273.4 93.9 258.5 86.4 255.8 76.1 269.3 75.2 270.7 73.6 268.9 84.7 284.1 64.6 271.9 83.7 254.4 99.2 278.1 80.4 277.6 95.6 255.0 62.1 274.2 94.9 262.9 92.1 255.5 86.9 285.5 73.2 253.7 77.1 282.5 68.8 259.3 76.3 260.3 80.1 254.9 62.8 262.6 74.7 261.2 71.9 252.9 63.4 282.7 65.6 276.7 82.1 266.4 99.9 277.1 84.8 286.1 62.9 277.8 86.0 253.6 67.1 280.3 85.6 279.6 92.0 266.0 100.8 270.3 91.3 274.3 83.8 276.8 99.1 280.3 88.9 270.0 78.1 284.3 90.9 255.2 95.9 261.3 67.3 268.0 93.0 265.9 76.9 268.2 88.8 261.0 78.7 283.8 71.6 283.7 86.3 256.1 93.8 272.7 71.0 269.4 74.2 252.2 84.4 255.5 88.0 283.1 99.2 267.1 67.4 269.0 91.5 274.8 67.3 258.3 80.7 257.3 84.9 270.7 96.6 265.9 100.5 272.3 63.4 263.4 63.9 261.4 64.3 264.9 66.3 261.3 89.9 274.2 67.2 255.4 80.4 261.9 94.3 270.4 67.7 282.5 72.2 277.4 69.0 257.7 88.0 276.7 90.0 280.0 94.9 280.6 92.2 278.1 85.4 263.9 76.8 251.3 65.9 259.5 87.2 268.4 80.7 285.5 84.3 250.6 65.0 262.1 60.7 271.6 96.2 256.0 72.8 258.7 85.4 256.5 79.0 271.5 75.1 287.0 71.0 276.0 76.5 284.2 78.9 271.0 89.0 266.7 69.7 253.4 67.0 261.8 61.8 271.4 82.3 264.5 66.1 270.6 92.0 263.4 65.1 257.6 98.4 282.4 88.2 265.2 64.6 270.2 62.1 267.1 87.7 284.4 87.2 269.6 65.5 276.2 79.9 256.3 86.1 255.6 74.7 276.5 85.5 268.4 69.5 283.6 96.0 254.1 84.2 283.0 71.5 278.4 72.0 289.6 84.1 268.8 74.2 270.1 99.9 264.5 90.2 253.2 70.5 257.3 93.4 269.6 80.1 265.8 68.1 256.2 78.1 281.0 68.0 280.8 63.7 250.4 87.5 263.2 71.0 285.8 88.3 278.1 90.9 278.1 79.1 259.5 69.6 268.3 76.0 261.4 79.4 276.3 99.6 273.1 78.2 256.9 87.5 259.4 92.5 252.0 72.1 260.8 79.2 284.3 74.8 262.3 71.8 285.5 96.0 258.0 66.5 258.2 64.7 283.1 75.4 270.3 87.1 256.1 69.4 264.4 92.8 255.4 65.0 268.6 79.0 276.8 75.0 276.0 80.2 272.8 92.0 256.4 82.1 281.4 96.8 265.6 84.3 284.1 95.1 278.1 85.7 253.8 72.0 251.9 82.8 275.4 65.4 284.2 72.9 286.9 67.3 253.8 77.0 268.2 79.3 275.4 86.7 266.8 83.2 281.5 77.4 254.7 75.8 265.6 65.2 255.4 69.5 259.8 91.0 260.2 90.7 276.5 75.4 278.2 79.0 277.4 63.9 270.6 79.1 257.6 92.2 281.1 67.5 285.1 71.8 250.5 88.4 263.8 74.9 281.4 74.0 274.2 63.5 258.1 80.9 269.8 81.1 250.1 65.3 261.7 61.7 266.6 69.7 267.2 91.7 278.5 93.0 268.9 102.1 278.2 72.1 265.1 64.8 274.5 62.8 267.5 68.8 280.1 96.7 270.6 81.8 281.3 83.7 262.8 97.0 253.5 84.5 275.3 100.4 270.5 70.4 263.9 87.9 270.1 71.5 277.1 99.4 273.7 95.5 272.0 62.8 275.7 74.9 262.5 91.3 250.7 81.3 285.0 98.3 266.8 65.3 275.9 65.8 268.9 85.2 255.3 64.6 279.4 90.8 263.7 80.8 270.1 87.6 280.7 67.8 264.4 62.5 275.5 87.9 283.0 85.4 265.2 74.9 281.3 73.5 286.8 73.7 269.3 76.8 275.5 85.9 264.1 93.1 278.7 83.7 283.2 85.0 250.7 101.6 274.1 91.3 264.6 80.3 285.3 91.4 269.4 92.8 258.3 78.7 273.7 89.7 256.4 76.4 282.0 75.2 277.2 84.0 281.2 89.8 280.2 73.7 283.0 105.1 273.8 68.7 278.4 86.9 242.0 77.9 239.5 70.3 246.7 84.9 240.6 94.2 236.9 81.2 247.8 66.9 234.5 68.5 238.9 89.1 239.9 90.7 247.7 76.0 249.5 76.9 247.8 86.9 237.6 79.0 246.9 66.4 234.4 70.8 236.5 74.3 238.3 77.8 226.9 85.7 239.2 90.9 243.2 97.9 233.6 108.4 234.8 108.6 236.0 100.6 243.5 98.8 245.3 113.7 250.2 112.5 257.2 112.5 261.4 113.2 268.4 112.0 277.2 117.6 285.2 132.4 268.4 131.2 276.8 134.2 280.7 149.3 289.1 153.1 292.6 102.3 262.8 105.0 268.1" fill="none" stroke="none" marker-start="url(#m1)" marker-mid="url(#m1)" marker-end="url(#m1)"/>
<path d="M65.2 311.3 59.1 310.3 62.9 295.0 63.0 306.8 63.6 306.6 57.4 305.2 69.6 297.4 65.6 307.7 62.6 308.6 59.6 287.5 67.8 290.1 60.7 291.7 57.7 307.4 68.2 299.8 58.6 296.2 67.3 299.8 61.0 298.0 61.8 290.1 58.4 311.0 57.6 309.1 69.1 291.1 68.6 293.9 64.1 292.9 58.8 312.8 57.4 312.9 65.9 294.6 57.8 295.8 55.4 305.6 62.1 297.6 55.7 308.0 60.1 286.9 60.0 305.3 61.4 285.9 59.9 293.1 56.5 291.3 63.9 304.1 70.7 296.7 64.1 297.2 54.6 306.1 60.8 293.6 61.3 297.3 69.3 296.0 56.0 309.0 61.2 311.4 57.9 303.1 64.2 307.6 61.5 295.0 60.2 306.4 65.7 286.9 62.0 292.3 64.3 297.3 64.7 303.3 61.9 310.4 59.3 287.1 59.7 301.2 66.5 302.2 56.8 304.3 62.9 289.5 63.6 308.7 67.2 288.7 66.8 302.1 61.9 305.1 59.5 293.1 61.0 307.5 64.5 291.6 62.4 301.1 61.9 290.8 55.3 309.2 54.2 299.4 61.3 309.6 57.2 300.1 67.5 292.0 67.0 309.1 63.0 306.1 57.1 311.9 63.0 292.3 59.5 291.8 71.4 295.6 60.9 297.5 65.4 295.5 56.8 293.8 138.3 330.6 142.5 318.9 134.4 328.0 124.4 327.5 182.9 323.7 135.8 319.6 129.1 323.1 147.6 323.4 144.6 330.2 155.3 331.6 197.4 322.4 115.6 329.2 141.5 329.6 148.8 322.7 201.4 322.3 153.4 330.0 124.2 323.7 143.0 322.7 203.6 326.0 191.0 331.3 147.8 327.6 150.7 325.3 123.4 321.1 155.1 324.2 189.1 325.2 159.0 320.1 140.9 329.2 147.0 330.0 192.2 323.9 152.3 325.2 118.9 321.7 204.6 320.2 151.0 328.4 151.8 321.5 186.7 321.0 182.3 329.9 190.7 318.3 148.5 327.4 147.7 322.1 136.4 317.3 123.8 326.0 116.7 327.0 143.1 324.9 181.0 328.7 151.8 324.3 127.1 320.1 150.2 323.3 193.7 322.2 166.4 322.1 125.7 325.2 161.9 324.7 163.3 324.3 201.4 328.3 196.9 324.9 159.7 330.0 143.3 321.6 127.2 320.4 177.8 322.5 159.4 322.9 208.2 322.7 142.7 325.6 167.7 330.3 168.2 323.3 156.0 328.0 151.3 327.9 176.0 326.2 147.7 326.0 155.1 324.4 156.8 320.6 144.4 321.6 133.2 325.4 207.3 324.1 190.1 326.1 171.7 329.5 141.9 323.9 171.3 320.5 124.3 329.8 129.3 326.7 131.6 319.4 133.1 324.4 196.8 324.2 175.6 330.5 127.2 328.0 148.9 327.2 172.9 320.9 148.1 319.7 132.3 327.0 140.2 326.3 130.6 324.2 159.3 323.2 141.8 327.0 143.0 320.5 152.1 326.7 138.8 328.7 176.2 321.9 200.7 320.6 168.1 330.5 117.0 328.6 138.2 323.5 175.7 321.5 148.2 327.9 180.7 322.6 206.2 323.3 182.5 327.6 126.4 329.4 195.0 326.2 114.2 328.4 138.3 323.7 166.2 328.4 121.5 329.6 118.9 326.9 132.9 329.8 126.5 326.8 130.5 324.2 203.7 322.3 181.0 326.2 186.8 327.9 166.8 324.9 157.1 321.4 178.4 316.5 149.9 318.0 118.2 325.7 174.0 327.2 142.5 330.0 171.9 329.5 147.7 322.9 159.4 331.2 113.3 327.4 154.1 326.0 140.0 306.6 154.9 312.7 125.1 311.9 95.0 326.0 100.0 330.0 105.0 324.0" fill="none" stroke="none" marker-start="url(#m2)" marker-mid="url(#m2)" marker-end="url(#m2)"/>
<path d="M59.9 310.9 65.6 308.1 70.8 320.1 65.9 322.8 62.0 316.9 62.4 316.7 60.8 316.3 69.1 308.5 71.5 309.8 69.3 301.3 66.4 316.9 69.8 302.5 70.7 309.0 70.0 307.7 63.6 312.8 69.2 301.6 60.3 318.6 67.3 316.6 71.5 305.5 62.9 313.2 61.9 313.7 67.9 325.1 68.2 319.1 66.6 322.1 65.2 303.4 68.7 315.1 66.8 307.7 65.2 302.5 64.1 307.0 55.9 323.7 65.9 321.3 67.5 309.1 57.3 318.0 71.9 312.4 71.9 313.6 69.7 313.0 63.8 325.4 68.7 321.9 73.9 310.0 71.3 312.6 71.3 314.9 60.2 318.6 65.3 314.4 62.1 316.5 64.1 315.8 62.7 312.0 63.9 307.9 66.0 312.3 70.0 311.9 65.0 320.2 66.0 319.2 64.1 323.9 64.0 309.5 67.8 303.0 68.9 308.0 71.7 299.4 66.7 315.4 70.7 306.4 58.8 324.7 72.8 309.7 59.5 317.5 67.3 321.2 71.2 314.3 70.3 307.7 73.0 311.3 70.9 310.1 69.8 311.5 66.1 312.9 70.5 319.7 67.3 309.7 66.8 324.8 62.9 314.5 71.1 316.8 60.1 315.7 68.7 310.0 57.6 322.9 63.8 317.3 63.5 308.9 70.2 319.0 71.2 311.7 70.3 313.8 69.1 308.6 61.4 310.5 58.7 317.1 69.2 305.7 60.4 318.8 67.4 314.3 71.8 302.3 68.3 304.2 68.0 304.4 67.0 324.8 62.8 315.8 56.1 320.6 66.2 316.8 68.6 306.3 65.9 313.2 56.5 316.7 211.0 288.0" fill="none" stroke="none" marker-start="url(#m3)" marker-mid="url(#m3)" marker-end="url(#m3)"/>
<path d="M113.7 305.6 80.4 307.1 112.5 296.5 83.7 307.9 96.4 304.3 73.5 307.4 114.3 294.0 117.0 294.1 82.8 299.0 81.8 295.4 79.7 307.6 93.1 312.5 98.3 288.6 98.1 298.7 77.0 302.0 91.7 303.8 84.1 303.1 89.3 305.3 76.5 316.9 94.7 307.0 71.3 301.8 95.2 296.5 109.3 303.2 88.7 298.2 88.6 290.4 114.0 306.7 84.5 286.0 99.9 294.0 75.1 303.8 103.5 287.8 108.5 286.6 89.8 294.8 109.7 300.1 108.0 287.3 69.7 301.5 83.0 297.9 115.3 305.1 101.5 296.8 99.8 308.1 105.8 303.8 83.4 309.7 84.6 300.7 84.3 315.0 94.4 304.9 76.0 317.0 80.1 310.6 92.9 292.4 100.8 302.3 118.2 287.9 83.3 315.4 85.2 308.0 111.9 298.5 110.5 291.2 105.4 302.0 102.1 306.9 95.4 286.2 117.3 310.4 79.7 309.6 88.1 298.4 111.2 297.5 87.8 306.0 90.4 284.6 94.2 292.8 111.2 285.8 73.1 300.5 90.4 302.3 86.4 286.9 73.5 300.2 85.8 289.1 108.9 308.4 75.2 302.7 97.8 286.3 113.8 310.0 76.2 309.1 101.9 300.2 77.1 310.3 91.7 309.2 113.9 299.9 72.8 308.0 102.5 305.7 95.7 313.5 75.2 292.7 85.2 289.0 91.2 292.8 93.3 303.8 119.3 296.9 88.0 288.4 106.0 294.7 114.2 296.7 110.1 305.7 107.0 287.2 110.7 306.8 85.5 289.3 112.7 302.7 87.3 291.7 91.0 290.1 101.8 311.7 103.5 298.9 103.7 301.9 75.6 308.5 106.0 302.7 72.0 316.7 115.0 305.5 86.1 314.8 96.0 313.9 93.5 298.1 104.3 306.5 108.7 290.9 102.2 293.4 93.7 287.4 102.7 305.0 91.1 303.1 114.7 297.5 74.7 301.3 105.6 282.6 112.4 294.8 89.3 290.7 85.3 290.7 108.6 307.3 86.7 299.1 84.9 288.4 94.6 299.3 107.1 285.4 116.4 300.7 87.0 293.6 120.1 299.1 81.7 282.9 90.6 291.0 113.1 289.3 71.7 300.3 114.3 298.8 112.2 295.0 106.3 310.9 87.6 292.2 87.6 307.3 108.2 294.1 99.9 288.6 94.4 286.4 112.5 300.9 83.4 311.9 107.7 295.0 87.2 302.0 109.1 295.2 79.3 293.7 114.7 299.4 81.1 286.5 89.7 315.3 102.5 310.7 116.0 296.1 102.6 305.8 118.3 294.4 73.1 292.4 96.1 299.9 86.4 308.2 91.3 299.3 96.0 311.7 86.7 301.6 85.1 305.9 110.8 289.1 77.5 301.2 90.3 289.3 109.7 306.6 87.8 300.5 84.0 310.8 76.3 296.2 71.5 302.5 110.3 303.8 98.8 298.3 102.3 308.2 114.0 296.9 111.4 297.8 103.0 308.9 96.1 288.8 73.1 307.0 73.4 310.4 78.4 294.7 97.8 292.4 92.0 293.7 91.9 294.5 107.5 300.0 109.4 289.8 98.2 294.0 96.6 303.0 79.8 313.5 114.0 291.4 120.0 296.2 101.6 314.8 104.4 294.7 79.1 291.0 106.4 306.1 83.2 311.5 97.0 297.8 94.5 312.5 95.1 300.5 93.0 300.3 88.4 300.5 85.7 313.8 91.8 288.6 114.0 296.8 93.0 288.3 91.8 301.9 114.0 303.4 102.4 291.7 83.7 305.6 80.3 301.1 85.3 308.0 113.2 298.6 97.1 307.3 75.6 301.9 98.8 310.0 86.9 306.5 101.4 300.4 66.0 310.5 95.1 296.5 103.5 304.2 84.8 298.3 106.6 298.2 113.2 303.3 77.0 308.1 81.2 293.5 80.1 300.4 99.5 302.9 77.1 310.1 78.6 296.6 78.1 303.5 99.5 301.3 85.2 298.8 82.4 307.9 96.8 300.6 86.4 298.9 92.9 305.5 88.5 292.5 93.1 293.6 91.6 307.3 71.4 297.8 102.6 288.8 98.6 303.5 77.5 305.8 97.6 294.5 88.0 291.5 91.0 298.7 101.0 301.0 98.5 295.5 98.4 293.7 107.2 301.9 99.3 302.0 84.8 289.9 79.0 292.6 97.2 297.1 75.3 295.3 87.0 300.1 86.9 301.8 84.0 309.5 101.6 301.0 92.7 304.2 88.1 290.1 97.7 295.0 86.5 304.9 100.3 290.6 107.5 306.5 88.9 302.0 88.6 299.7 99.9 298.2 73.2 292.3 79.2 292.8 81.2 295.9 76.1 296.4 90.0 305.9 92.5 293.1 89.7 295.3 89.7 289.0 97.8 299.8 99.2 298.9 100.6 305.1 88.8 309.8 90.1 301.9 102.6 294.0 93.5 300.2 101.3 300.5 85.9 298.5 89.6 292.7 84.5 300.8 89.8 292.0 93.6 298.4 86.1 297.2 106.8 284.2 77.3 302.3 97.4 311.0 80.7 296.8 92.5 295.4 83.4 304.1 90.6 291.4 90.6 299.0 83.1 300.2 79.5 295.7 83.9 298.5 90.1 294.1 96.9 295.6 103.7 302.6 75.2 293.9 93.9 295.6 85.9 294.9 90.1 301.8 92.7 296.7 135.5 300.3 130.7 299.1 138.5 295.3 131.1 294.2 127.1 308.8 138.5 306.0 131.2 294.6 132.9 305.2 127.4 297.2 133.7 301.1 127.5 300.5 140.3 290.5 133.8 304.1 121.4 297.4 130.3 304.8 131.8 288.2 131.6 295.8 125.7 307.0 128.3 295.6 129.6 301.1 54.1 336.2 55.2 334.6 53.2 336.1 54.2 336.3 51.0 336.2 50.1 336.7 52.7 336.8 50.9 338.2 55.7 335.5 54.1 335.7 51.0 336.4 54.7 334.1 53.1 336.4 55.6 336.7 51.3 337.0 53.3 336.2 51.2 336.9 51.4 336.1 54.5 336.8 55.9 335.8 51.5 335.7 58.9 328.1 63.3 331.9 59.5 332.7 60.9 329.8 59.2 330.3 61.6 330.2 59.7 329.5 60.0 329.4 144.4 286.5 152.8 300.5 152.2 305.7 163.6 308.4 167.1 309.2 129.5 287.3 64.5 336.7 76.0 333.8 90.0 334.6 60.3 327.6" fill="none" stroke="none" marker-start="url(#m4)" marker-mid="url(#m4)" marker-end="url(#m4)"/>
<path d="M162.4 327.1 147.3 331.1 99.8 323.1 139.1 321.7 117.8 323.8 142.3 329.5 112.8 326.6 147.6 326.9 152.0 321.1 158.6 325.5 126.4 321.9 140.8 325.0 100.5 324.2 98.3 316.9 113.7 320.0 123.6 321.0 146.1 325.9 86.9 320.8 157.1 322.6 94.1 318.7 94.0 323.9 130.2 318.2 157.5 325.3 151.5 320.6 83.4 324.9 124.1 321.6 77.9 326.3 166.5 320.6 169.2 322.2 156.7 326.1 90.3 317.8 157.3 329.8 82.4 327.9 163.1 327.2 166.5 329.9 86.3 328.6 88.9 326.4 138.6 320.8 150.5 325.5 117.7 325.8 101.5 327.0 163.0 324.5 118.1 324.1 102.3 322.6 120.4 323.7 119.2 316.1 82.4 328.3 137.9 325.4 110.3 326.7 159.1 326.4 88.8 327.6 93.1 326.7 108.4 314.0 123.8 318.3 120.4 324.6 107.2 321.3 151.6 323.8 161.2 321.1 116.4 319.3 131.8 328.9 99.0 324.8 150.8 326.0 136.4 326.6 144.2 322.4 146.9 323.1 81.7 326.8 121.4 319.7 112.3 323.3 156.5 321.8 146.7 321.3 131.4 318.2 116.5 321.6 164.7 326.5 139.1 322.0 113.2 327.1 80.2 324.5 109.0 328.6 135.2 329.1 95.6 327.8 79.7 323.7 131.4 319.3 88.4 325.2 84.8 323.2 92.5 321.5 124.2 320.9 109.6 322.9 90.9 328.3 130.4 323.9 160.0 319.0 104.0 319.3 152.0 327.9 108.2 319.7 127.8 319.7 136.9 325.7 152.8 323.1 147.2 329.6 126.9 325.9 105.1 326.8 107.3 324.6 140.1 320.2 144.0 328.7 169.1 322.1 144.6 321.5 161.1 328.9 123.6 321.8 89.2 319.6 108.8 322.5 141.2 318.9 153.4 325.7 147.9 320.1 137.6 322.6 132.5 323.8 143.8 324.7 97.8 320.1 150.5 322.2 94.4 320.8 165.7 322.7 122.3 325.5 161.8 324.9 85.5 323.8 87.0 320.7 97.6 319.6 123.5 326.0 166.0 328.5 156.7 323.6 116.3 324.6 152.8 319.5 124.8 324.1 136.5 326.5 96.6 319.5 159.5 320.8 87.8 323.4 161.5 327.8 141.4 319.6 102.7 322.7 130.0 318.9 145.3 324.0 135.7 329.8 103.7 323.0 85.8 325.7 125.9 323.2 120.6 324.2 93.2 319.5 126.4 322.3 138.4 323.5 123.6 321.3 115.6 327.9 97.3 323.4 105.8 322.9 160.1 323.7 110.0 324.2 130.0 323.0 101.4 319.8 106.7 321.9 101.9 317.2 164.3 325.6 141.4 321.5 157.4 319.7 100.7 323.6 111.6 325.7 106.5 321.0 151.8 320.4 160.9 324.0 138.8 326.0 170.1 324.8 119.8 317.8 100.3 326.4 148.2 329.0 103.9 324.0 142.7 319.2 132.5 322.7 123.8 326.6 116.6 320.1 86.5 320.5 119.0 318.9 115.9 326.1 89.8 329.9 142.6 318.6 161.5 323.2 114.2 326.9 84.8 320.8 161.7 322.5 122.2 322.3 108.0 325.1 94.2 320.8 109.0 319.5 164.3 322.6 125.4 320.7 136.5 324.1 96.4 326.0 85.3 321.0 112.0 322.6 150.8 321.3 94.3 325.8 149.0 325.7 147.6 318.2 116.3 320.8 142.1 324.5 133.6 324.4 170.6 325.2 109.6 318.6 108.2 320.9 158.9 318.6 146.1 322.6 116.4 323.2 122.6 317.6 107.5 317.4 127.2 327.0 88.9 319.2 91.9 327.9 82.4 329.2 105.9 323.9 91.2 325.7 125.6 322.7 141.3 328.8 93.1 324.9 143.6 327.8 108.0 321.3 115.5 320.9 106.1 316.4 149.9 330.3 104.6 322.4 116.4 319.1 77.6 323.5 111.9 318.1 152.8 320.6 101.7 326.8 162.1 322.4 115.3 321.9 99.3 323.7 148.0 329.2 128.3 320.2 153.1 326.1 143.4 322.1 116.8 327.3 91.1 318.1 122.5 319.4 147.1 328.3 161.7 325.7 115.1 316.8 97.4 320.8 166.6 325.6 106.7 321.3 102.1 321.7 105.3 324.2 131.1 325.3 167.2 327.2 101.3 320.0 121.7 320.5 164.6 322.0 89.4 326.7 160.5 321.8 113.2 321.6 157.5 323.8 120.5 324.5 95.5 321.4 129.4 319.0 139.4 328.6 88.4 327.2 106.2 327.1 113.5 327.6 97.2 322.4 129.0 319.6 146.9 329.6 92.7 319.0 139.2 326.9 154.1 323.4 95.7 324.3" fill="none" stroke="none" marker-start="url(#m5)" marker-mid="url(#m5)" marker-end="url(#m5)"/>
<path d="M48.0 206.5V339.8H217.6M48.0 339.8v-2.0M81.9 339.8v-2.0M115.8 339.8v-2.0M149.8 339.8v-2.0M183.7 339.8v-2.0M217.6 339.8v-2.0M48.0 339.8h2.0M48.0 317.6h2.0M48.0 295.4h2.0M48.0 273.1h2.0M48.0 250.9h2.0M48.0 228.7h2.0M48.0 206.5h2.0" stroke="#333" stroke-width="0.8" fill="none"/>
<text x="48.0" y="351.9" font-size="9.2" text-anchor="middle" fill="#000">0</text>
<text x="81.9" y="351.9" font-size="9.2" text-anchor="middle" fill="#000">1000</text>
<text x="115.8" y="351.9" font-size="9.2" text-anchor="middle" fill="#000">2000</text>
<text x="149.8" y="351.9" font-size="9.2" text-anchor="middle" fill="#000">3000</text>
<text x="183.7" y="351.9" font-size="9.2" text-anchor="middle" fill="#000">4000</text>
<text x="217.6" y="351.9" font-size="9.2" text-anchor="middle" fill="#000">5000</text>
<text x="43.0" y="343.0" font-size="9.2" text-anchor="end" fill="#000">0</text>
<text x="43.0" y="320.8" font-size="9.2" text-anchor="end" fill="#000">2000</text>
<text x="43.0" y="298.6" font-size="9.2" text-anchor="end" fill="#000">4000</text>
<text x="43.0" y="276.4" font-size="9.2" text-anchor="end" fill="#000">6000</text>
<text x="43.0" y="254.2" font-size="9.2" text-anchor="end" fill="#000">8000</text>
<text x="43.0" y="231.9" font-size="9.2" text-anchor="end" fill="#000">10,000</text>
<text x="43.0" y="209.7" font-size="9.2" text-anchor="end" fill="#000">12,000</text>
<rect x="159.2" y="205.9" width="59.1" height="56.0" fill="#fff" stroke="#000" stroke-width="1.1"/>
<g transform="translate(167.4 211.5) scale(0.85)"><path d="M0 0h0.01" marker-start="url(#m1)" stroke="none"/></g>
<text x="174.5" y="215.1" font-size="9.0" text-anchor="start" fill="#000">Gesture 1</text>
<g transform="translate(167.4 222.7) scale(0.85)"><path d="M0 0h0.01" marker-start="url(#m2)" stroke="none"/></g>
<text x="174.5" y="226.3" font-size="9.0" text-anchor="start" fill="#000">Gesture 2</text>
<g transform="translate(167.4 233.9) scale(0.85)"><path d="M0 0h0.01" marker-start="url(#m3)" stroke="none"/></g>
<text x="174.5" y="237.5" font-size="9.0" text-anchor="start" fill="#000">Gesture 3</text>
<g transform="translate(167.4 245.1) scale(0.85)"><path d="M0 0h0.01" marker-start="url(#m4)" stroke="none"/></g>
<text x="174.5" y="248.7" font-size="9.0" text-anchor="start" fill="#000">Gesture 4</text>
<g transform="translate(167.4 256.3) scale(0.85)"><path d="M0 0h0.01" marker-start="url(#m5)" stroke="none"/></g>
<text x="174.5" y="259.9" font-size="9.0" text-anchor="start" fill="#000">Gesture 5</text>
<text x="132.0" y="365.2" font-size="9.05" text-anchor="middle" fill="#000">Median frequency of channel 1</text>
<text x="8.0" y="273.0" font-size="9.05" text-anchor="middle" fill="#000" transform="rotate(-90 8.0 273.0)">Median frequency of channel 2</text>
<text x="0.3" y="204.0" font-size="14.5" text-anchor="start" font-weight="bold" fill="#000">d</text>
<path d="M312.8 206.9V340.7M347.3 206.9V340.7M381.7 206.9V340.7M416.2 206.9V340.7M450.6 206.9V340.7M278.4 313.9H450.6M278.4 287.2H450.6M278.4 260.4H450.6M278.4 233.7H450.6M278.4 206.9H450.6" stroke="#dcdcdc" stroke-width="0.6" fill="none"/>
<path d="M306.2 244.7 315.4 262.6 311.0 269.4 315.5 253.5 304.2 254.4 304.3 249.3 310.1 238.4 299.9 273.2 320.5 242.3 297.0 275.9 319.0 263.1 307.5 247.4 316.7 256.5 316.8 243.8 303.2 252.2 317.5 253.9 316.7 236.3 297.8 262.4 325.7 244.6 317.9 269.8 305.2 241.9 305.5 250.4 310.7 250.1 311.9 241.0 308.3 266.7 303.0 279.3 303.4 243.9 307.6 258.7 314.2 264.0 313.9 277.7 301.2 269.9 306.4 245.5 299.5 246.1 298.7 241.4 307.5 245.8 315.8 247.5 301.7 247.5 310.3 258.1 311.0 255.8 306.0 273.3 298.5 277.7 314.9 252.9 315.4 258.1 315.8 262.0 301.9 247.9 310.2 263.5 307.7 235.4 316.2 257.1 315.2 257.2 302.9 277.0 301.0 242.1 308.6 236.3 320.4 260.9 311.6 246.0 319.6 252.6 317.5 251.1 315.1 247.0 302.9 257.6 303.6 273.2 298.4 268.8 320.0 244.4 295.8 260.1 298.6 279.5 316.5 255.4 321.6 251.0 304.4 245.3 309.0 245.9 300.0 254.8 300.9 246.2 304.3 269.9 299.8 266.9 319.3 274.7 303.1 251.9 325.2 240.6 311.9 257.4 310.1 257.0 300.6 257.2 303.4 269.9 302.1 253.2 305.6 277.0 301.9 234.7 303.5 246.0 324.7 269.2 301.3 272.9 314.0 236.3 313.0 275.6 304.2 239.8 318.1 234.4 314.7 248.3 302.2 277.1 310.6 272.6 307.9 280.3 313.9 268.6 325.4 262.1 316.5 272.4 300.5 267.1 314.4 235.4 300.7 277.9 309.9 270.8 301.2 247.5 305.7 245.3 324.4 254.7 307.3 240.3 325.5 261.3 306.0 247.3 315.5 261.7 301.5 242.4 310.4 280.6 326.6 254.2 311.7 239.6 310.6 279.4 299.5 241.9 305.7 237.9 310.9 262.4 299.8 270.3 307.8 235.5 305.8 255.9 319.6 238.2 322.0 244.7 320.4 247.5 304.7 247.7 308.0 262.4 318.9 258.9 310.2 243.3 319.4 264.8 299.3 241.7 307.7 283.0 299.4 276.7 319.8 252.8 311.1 235.8 320.3 271.3 304.8 241.0 322.5 241.0 306.4 244.2 309.7 233.4 302.0 239.5 311.0 276.4 303.3 248.8 319.7 238.2 321.7 249.9 307.3 261.9 318.8 260.8 305.9 279.8 322.5 249.3 301.5 247.5 317.3 267.9 313.5 240.9 317.0 240.2 318.1 239.2 303.7 246.8 313.7 254.6 315.1 237.5 320.3 257.8 304.9 235.6 298.1 280.3 303.8 259.3 300.2 274.3 322.8 243.6 296.1 271.1 310.9 236.1 311.2 266.5 313.1 249.9 313.3 255.5 308.7 255.2 305.3 277.2 306.8 246.9 320.2 262.3 303.8 239.1 295.1 245.8 308.5 276.0 312.6 257.6 313.0 252.6 308.0 239.4 300.3 268.0 296.7 266.4 306.3 255.0 303.1 271.0 312.8 241.6 299.6 266.6 323.0 245.9 321.9 267.2 307.9 276.6 302.1 249.9 314.0 268.6 311.6 274.3 323.3 254.3 327.9 248.3 303.1 248.6 321.3 244.9 304.2 239.1 325.0 240.6 305.4 280.7 314.3 255.4 319.6 248.2 300.8 243.5 306.0 273.5 309.6 263.4 310.7 265.9 315.6 270.3 312.8 277.5 297.9 270.4 309.6 243.6 312.3 262.1 298.7 279.3 312.2 240.0 309.4 254.9 302.6 250.4 311.6 250.4 300.5 273.0 300.4 260.1 322.1 248.0 316.4 268.7 308.2 238.9 311.5 262.1 318.8 272.1 323.4 245.2 307.4 275.9 298.2 278.1 310.8 283.3 318.2 256.7 301.0 263.7 305.8 279.0 305.3 282.9 312.0 256.4 303.6 241.4 313.3 267.8 307.0 262.1 311.9 274.4 323.7 240.3 306.5 241.6 297.2 267.2 309.4 250.5 316.2 258.2 322.0 269.2 310.1 258.0 319.9 261.5 306.2 276.1 319.7 245.7 304.1 265.8 318.1 263.4 305.3 271.8 317.6 246.4 311.0 251.4 312.5 245.8 303.5 276.7 314.3 270.4 320.0 236.6 319.1 250.0 314.5 272.2 306.7 248.9 305.0 273.6 305.6 265.0 313.6 252.5 306.3 266.4 319.2 242.3 317.2 248.6 311.4 255.0 301.9 252.7 298.7 249.3 299.5 270.2 311.6 276.6 307.7 270.9 305.1 268.7 304.0 242.7 318.1 259.2 312.5 238.1 300.5 270.0 322.3 254.0 311.3 276.5 313.5 277.8 308.1 249.4 304.0 254.9 310.6 234.5 317.2 254.4 315.0 257.1 305.4 263.8 317.1 254.3 304.6 254.1 318.4 246.7 308.6 247.1 303.0 277.3 324.0 254.9 311.0 264.8 312.4 267.5 309.6 278.1 307.8 262.2 317.5 264.4 316.0 263.5 329.7 235.1 328.2 268.6 330.7 258.3 332.4 266.5 337.0 260.1 332.5 233.4 331.8 236.2 330.5 234.1 334.8 264.9 331.3 234.6 330.4 257.4 322.1 241.7 331.7 276.2 331.7 233.5 331.5 254.5 328.1 235.6 325.1 237.1 330.5 277.8 331.7 232.4 325.1 239.9 332.5 242.6 330.0 265.6 329.7 263.5 331.5 250.9 330.6 251.1 335.9 269.7 333.2 255.3 332.1 262.4 333.8 266.6 331.5 238.9 331.9 273.2 330.4 250.0 328.4 237.6 334.4 275.7 327.6 236.0 334.6 275.0 332.2 241.1 325.8 253.8 300.4 213.4 303.4 211.5 339.0 213.8 306.0 220.4 308.7 220.4 297.6 225.7 313.0 227.4 315.7 226.4 321.8 224.3 325.3 230.4 330.6 229.5 352.5 276.0 353.3 276.5 348.1 285.9 352.5 288.2 339.3 271.2 292.0 281.2" fill="none" stroke="none" marker-start="url(#m1)" marker-mid="url(#m1)" marker-end="url(#m1)"/>
<path d="M293.9 302.7 292.2 297.7 295.5 292.3 291.7 306.3 294.9 297.7 293.4 294.8 294.4 290.1 295.3 296.1 293.6 294.4 291.1 291.7 287.4 293.4 287.9 290.3 294.4 300.1 295.4 288.1 296.8 290.0 291.7 292.3 288.9 298.1 290.5 301.3 290.1 306.0 289.8 313.1 295.5 295.9 291.7 309.1 291.3 304.3 298.2 296.2 294.1 294.6 291.2 306.1 291.2 308.1 296.0 300.3 291.1 293.1 295.5 293.1 295.2 290.9 290.0 288.3 288.6 298.1 288.7 299.4 289.9 306.3 289.0 301.4 291.9 302.2 293.7 292.8 297.8 295.1 295.5 310.7 290.1 309.3 296.2 292.9 289.3 291.8 294.2 303.4 295.7 296.1 292.3 308.6 290.9 298.0 292.1 296.1 295.9 306.0 297.3 293.6 288.2 291.8 297.7 297.3 291.1 291.8 291.9 293.0 292.8 310.7 289.3 297.7 296.6 305.0 289.3 298.4 295.1 294.0 298.7 292.8 289.7 306.5 291.5 298.7 297.6 295.5 298.5 307.0 296.7 291.8 288.3 287.0 290.3 300.0 289.4 290.8 289.9 294.8 294.0 295.7 290.3 304.6 296.9 300.8 294.0 296.0 300.4 292.1 295.4 290.4 296.1 300.2 294.7 306.3 287.1 290.5 293.9 298.8 384.4 318.5 370.1 325.3 359.9 322.0 348.7 326.2 372.3 322.9 381.2 325.4 369.5 322.8 385.7 318.5 376.0 319.6 355.9 321.1 348.9 328.2 364.6 323.9 360.3 323.1 365.8 325.9 392.6 325.0 370.9 324.4 359.4 321.4 392.6 325.1 378.2 321.4 385.5 326.5 395.7 324.6 391.4 321.1 362.3 319.1 392.5 325.4 359.5 321.9 377.2 321.8 365.4 324.5 366.0 318.8 389.2 319.4 394.9 320.5 373.6 325.2 358.0 326.4 362.9 322.4 391.6 325.1 390.9 320.1 387.6 323.0 378.5 321.9 368.8 323.4 356.0 323.5 393.4 320.9 378.9 320.2 386.1 320.0 377.6 319.8 356.5 325.4 363.8 325.6 373.0 325.6 393.3 322.0 385.7 320.9 373.7 326.3 376.1 320.4 375.4 320.4 363.9 322.3 359.5 321.6 374.5 322.3 379.2 325.7 379.6 320.3 384.8 321.6 352.1 325.4 383.8 324.1 382.7 319.8 381.1 322.6 354.9 325.3 371.5 321.4 368.2 324.1 383.6 322.0 383.8 320.4 355.8 324.4 392.7 324.4 392.3 325.9 393.2 326.8 372.3 324.0 364.5 323.3 376.0 323.4 394.2 319.6 379.1 325.5 372.9 322.6 389.5 319.7 356.2 325.1 374.1 322.7 359.2 321.7 391.5 322.0 383.8 322.7 382.0 325.4 369.0 325.3 376.4 324.3 382.9 325.1 387.4 322.8 370.5 323.9 378.8 323.8 380.7 326.4 363.2 322.7 367.4 320.6 377.9 319.0 352.5 326.4 375.9 323.2 351.5 322.9 370.8 325.1 374.9 319.4 391.8 324.4 393.6 324.6 385.8 323.0 379.2 321.7 372.2 325.7 378.0 326.6 395.7 319.4 366.5 322.7 362.2 321.6 360.1 322.3 391.3 319.9 353.0 322.2 359.8 321.7 393.9 323.2 352.4 327.7 376.4 323.7 388.6 318.2 381.4 324.3 371.7 322.9 385.5 319.1 360.4 323.0 387.9 322.5 377.8 323.9 364.2 322.4 342.8 325.0 348.1 327.6 390.1 327.6 383.1 317.1 401.0 320.0 404.0 322.5 407.0 320.5 410.0 322.0 414.0 319.5 417.0 321.5 419.0 320.5 402.0 324.0 408.0 323.5" fill="none" stroke="none" marker-start="url(#m2)" marker-mid="url(#m2)" marker-end="url(#m2)"/>
<path d="M302.8 308.3 292.6 314.6 300.7 317.9 301.3 308.5 291.6 316.2 294.8 313.1 299.5 316.6 302.0 311.4 303.6 302.7 292.0 317.4 298.8 314.4 290.5 318.0 297.9 314.8 296.1 316.6 295.6 316.6 299.7 310.5 294.8 309.5 299.7 302.9 301.8 320.1 295.8 315.5 297.6 318.2 298.4 315.3 302.2 311.0 297.8 318.8 300.2 320.6 292.9 314.7 298.9 318.5 301.6 316.4 299.1 319.5 294.6 319.6 299.1 315.6 299.1 315.1 298.9 308.7 301.3 317.6 298.0 305.2 302.3 305.1 299.0 318.7 294.6 317.5 298.6 316.6 296.9 307.7 299.5 319.7 298.8 304.2 299.7 316.0 296.9 314.3 296.7 313.2 298.6 321.2 301.1 311.1 292.7 322.0 303.1 307.0 294.3 321.4 298.2 319.6 297.0 309.7 297.3 312.8 295.7 313.8 295.0 310.5 301.6 314.3 300.2 310.3 296.5 312.0 299.1 311.2 301.2 315.7 301.7 304.2 299.7 306.1 292.5 319.4 303.8 309.0 297.5 317.8 297.2 317.2 295.2 318.4 291.6 316.3 295.9 317.6 302.7 315.1 299.9 322.0 297.7 321.1 296.3 319.7 294.3 314.2 303.1 310.6 302.1 312.1 368.2 303.5" fill="none" stroke="none" marker-start="url(#m3)" marker-mid="url(#m3)" marker-end="url(#m3)"/>
<path d="M309.6 300.2 334.5 283.7 305.8 309.3 346.8 297.7 313.6 307.2 316.4 292.8 325.8 292.8 307.4 303.4 310.5 295.4 337.3 294.7 321.2 304.2 331.7 305.5 312.5 304.0 319.5 309.8 310.2 313.6 325.5 293.5 321.7 288.5 305.6 291.6 312.6 301.8 340.0 289.2 336.7 290.7 325.7 279.7 330.6 302.6 325.6 309.1 337.7 304.3 338.2 308.9 336.2 299.4 318.3 292.9 331.5 296.2 321.6 287.3 308.1 296.1 318.5 304.8 317.8 307.9 320.7 285.5 302.8 304.9 315.7 284.3 314.0 282.6 310.0 284.2 319.7 287.7 313.5 302.6 302.6 308.1 327.8 290.3 329.9 295.7 334.0 306.8 321.8 297.4 347.9 290.5 301.9 312.4 313.7 300.7 344.0 302.9 325.2 294.8 317.3 300.7 310.8 284.6 338.8 286.6 323.4 285.9 304.3 295.9 308.6 301.2 335.5 304.4 328.9 291.7 306.1 307.5 336.5 296.0 336.9 288.3 342.7 302.3 333.3 285.6 319.1 296.8 314.5 305.0 336.4 288.3 318.8 302.5 334.3 303.6 315.4 305.5 339.5 289.1 327.7 294.9 342.5 302.2 321.2 294.5 327.5 296.8 314.8 295.5 319.0 287.3 343.8 284.2 321.0 314.3 342.4 288.6 325.4 301.7 342.7 294.0 319.1 308.6 309.7 307.1 305.0 308.5 321.3 286.3 327.2 285.2 333.0 292.5 327.0 287.0 320.4 289.5 328.0 287.3 330.6 287.5 331.7 297.2 322.7 289.5 316.5 287.3 335.4 291.4 316.9 300.2 327.3 282.2 323.6 303.5 326.3 296.2 331.2 291.4 340.2 288.5 321.5 290.5 319.2 293.0 328.5 286.0 327.9 284.7 323.8 280.9 321.5 303.1 303.9 314.0 312.3 306.4 330.0 301.8 323.9 305.4 322.3 302.4 339.8 293.2 315.2 300.3 315.8 293.1 332.5 286.5 313.1 308.0 336.7 300.3 322.6 299.0 312.1 306.1 313.7 296.1 334.7 290.0 313.8 291.4 302.7 310.3 309.7 302.5 330.4 294.4 324.2 284.0 327.0 301.4 310.3 286.7 338.5 286.9 317.0 304.6 321.9 302.9 333.7 293.2 317.1 296.4 332.1 298.6 340.9 304.9 322.1 286.0 323.5 294.9 323.4 296.8 344.2 298.0 320.4 284.6 314.9 288.5 315.6 293.5 343.1 294.6 340.5 297.5 320.1 301.6 302.1 314.7 339.6 293.2 325.4 292.3 310.6 294.5 312.4 294.9 335.2 302.7 308.0 310.5 318.6 314.7 327.0 297.1 330.0 308.9 314.5 291.9 307.5 309.0 338.7 292.9 348.0 294.8 310.4 282.8 316.6 306.7 329.2 287.8 303.5 310.4 313.7 289.7 308.9 286.4 319.1 305.6 337.1 300.8 311.5 299.6 305.9 296.5 338.3 297.8 318.9 294.1 332.1 301.4 334.8 290.0 312.9 285.8 326.5 284.1 328.3 306.8 308.2 289.3 335.0 292.2 335.5 288.7 311.0 308.2 343.7 305.1 310.2 311.1 334.3 303.0 337.2 299.8 308.4 304.1 315.1 298.8 330.7 301.1 340.3 292.9 309.3 305.4 330.8 307.8 345.7 292.7 321.8 308.6 332.2 295.8 318.7 314.4 340.2 290.4 322.7 293.3 342.8 299.6 308.3 295.5 331.3 290.8 310.6 313.2 342.6 298.3 318.7 298.5 317.9 284.0 343.7 297.4 312.0 309.2 347.0 299.0 325.2 298.9 336.6 288.8 335.9 299.0 325.1 303.0 328.7 306.3 307.5 290.8 316.9 299.6 315.8 300.5 334.2 303.6 317.9 294.2 319.7 303.5 316.3 296.7 297.4 290.0 329.4 302.1 305.0 303.7 315.6 296.0 307.6 295.3 315.4 300.7 316.5 306.2 316.1 288.6 331.8 302.5 310.6 308.3 317.7 290.7 324.5 299.5 316.9 296.4 316.0 298.2 335.8 303.6 326.4 286.4 313.5 293.0 322.3 287.7 312.9 294.1 323.8 307.3 308.7 289.7 326.6 293.2 323.2 292.4 322.9 298.5 320.1 294.1 322.0 291.3 313.2 291.4 320.7 295.1 325.0 288.6 323.7 281.5 312.7 303.1 324.7 296.8 310.5 292.4 314.3 295.0 313.3 300.4 315.2 290.8 319.1 296.2 325.6 292.8 328.7 303.4 323.7 281.3 314.2 287.5 326.1 304.5 328.0 288.8 314.0 291.2 310.5 288.6 318.9 281.9 335.7 295.4 317.7 300.1 318.7 297.8 325.8 288.5 310.6 292.8 311.4 305.9 319.1 294.8 326.9 290.3 317.6 301.3 314.9 294.2 306.6 284.7 332.8 290.8 309.9 301.5 330.6 294.9 314.3 295.4 355.1 284.7 364.7 288.2 370.9 287.0 371.7 295.2 360.3 299.6 364.7 301.4 355.1 296.1 357.7 294.3 349.8 304.0 341.0 277.0" fill="none" stroke="none" marker-start="url(#m4)" marker-mid="url(#m4)" marker-end="url(#m4)"/>
<path d="M338.3 321.8 340.4 310.5 334.7 311.3 357.8 318.7 347.3 314.5 321.2 320.3 362.0 318.5 335.2 320.1 359.9 311.7 326.0 315.8 363.5 323.2 352.3 321.9 316.9 318.5 350.4 317.2 349.5 319.1 356.0 317.3 365.0 310.9 332.4 318.1 331.8 312.9 348.3 322.6 335.7 311.3 327.4 315.0 305.9 315.7 318.3 319.2 349.9 316.3 352.7 315.6 351.0 307.1 310.7 318.0 312.1 315.7 348.5 322.1 341.2 319.6 327.2 315.9 350.1 316.3 334.0 313.1 353.2 305.1 363.3 317.2 336.0 315.5 342.2 311.1 348.5 305.3 357.7 316.7 353.3 317.9 364.7 319.4 345.8 318.8 323.4 316.6 342.7 317.6 347.4 317.4 326.0 312.2 347.1 314.0 342.7 307.6 337.5 318.5 349.9 316.3 359.3 312.5 343.0 311.5 332.4 314.9 352.0 323.6 365.2 310.1 343.5 311.7 310.1 315.8 363.1 316.4 314.6 321.5 344.8 306.9 361.0 320.1 330.3 318.6 332.0 312.4 309.7 320.4 364.7 312.6 364.6 317.4 352.2 321.0 345.5 314.3 341.7 306.9 367.5 313.1 320.9 315.8 316.5 316.0 341.7 319.6 338.4 317.8 352.3 313.0 342.3 314.3 328.4 311.2 323.7 317.4 351.9 313.0 327.9 320.3 311.0 314.4 346.1 305.0 318.8 315.6 345.6 308.9 328.8 323.0 317.9 318.7 346.7 310.1 311.3 318.4 319.3 318.7 324.8 311.4 356.0 313.1 357.3 313.3 344.4 309.5 314.3 317.0 344.9 305.4 338.7 312.2 365.9 320.1 308.3 319.4 353.8 321.7 336.1 321.5 359.7 318.4 369.8 317.6 346.0 309.1 331.2 312.6 345.7 314.3 358.9 318.9 321.9 312.4 334.6 322.1 356.8 320.7 331.8 315.6 338.3 316.9 328.6 318.9 310.3 320.6 365.4 314.5 343.2 308.1 351.0 319.7 323.6 317.1 321.5 312.6 362.4 311.1 361.0 311.8 352.9 312.4 331.5 321.5 371.2 315.7 344.8 312.1 319.2 316.4 333.9 318.5 338.8 309.8 345.4 306.4 356.9 318.1 349.7 310.2 346.8 309.1 332.6 311.7 331.6 320.4 348.3 310.3 363.1 315.2 342.2 309.0 335.0 318.7 354.5 313.0 320.7 317.1 363.3 319.4 351.5 310.2 354.9 306.9 350.5 319.0 331.6 314.7 357.3 310.3 320.8 314.1 338.4 319.7 328.1 310.7 336.0 308.9 319.5 320.0 325.5 312.0 335.5 319.7 320.9 313.6 314.4 317.7 339.0 313.0 336.7 321.8 363.4 312.0 354.7 313.8 353.4 307.1 360.9 316.1 351.3 314.2 363.1 311.4 363.4 308.7 348.2 321.7 326.4 319.5 331.5 312.3 347.4 318.7 355.5 318.8 355.4 318.4 332.2 317.1 356.6 318.3 324.4 320.2 338.5 320.7 337.5 311.4 319.3 316.0 358.1 306.1 365.8 322.0 360.4 319.1 353.4 315.6 314.5 319.7 312.2 322.0 316.4 317.6 337.5 321.2 311.1 321.5 360.5 316.0 350.6 319.8 334.7 310.9 331.9 318.1 331.9 309.7 357.5 309.2 336.6 317.9 362.7 312.0 338.3 320.9 341.7 306.7 315.0 316.6 343.7 321.6 318.3 312.6 338.1 311.8 352.4 321.9 322.9 316.3 334.5 320.8 333.0 317.3 345.3 312.4 337.9 309.8 342.7 321.7 311.2 315.3 353.6 318.2 345.9 323.7 342.7 317.1 313.4 314.7 322.7 320.5 309.9 319.9 351.3 320.3 326.2 313.6 331.0 321.2 349.1 323.9 352.5 317.1 342.5 313.4 319.2 315.9 364.1 313.1 332.7 310.8" fill="none" stroke="none" marker-start="url(#m5)" marker-mid="url(#m5)" marker-end="url(#m5)"/>
<path d="M278.4 206.9V340.7H450.6M278.4 340.7v-2.0M312.8 340.7v-2.0M347.3 340.7v-2.0M381.7 340.7v-2.0M416.2 340.7v-2.0M450.6 340.7v-2.0M278.4 340.7h2.0M278.4 313.9h2.0M278.4 287.2h2.0M278.4 260.4h2.0M278.4 233.7h2.0M278.4 206.9h2.0" stroke="#333" stroke-width="0.8" fill="none"/>
<text x="278.4" y="352.8" font-size="9.2" text-anchor="middle" fill="#000">0</text>
<text x="312.8" y="352.8" font-size="9.2" text-anchor="middle" fill="#000">50</text>
<text x="347.3" y="352.8" font-size="9.2" text-anchor="middle" fill="#000">100</text>
<text x="381.7" y="352.8" font-size="9.2" text-anchor="middle" fill="#000">150</text>
<text x="416.2" y="352.8" font-size="9.2" text-anchor="middle" fill="#000">200</text>
<text x="450.6" y="352.8" font-size="9.2" text-anchor="middle" fill="#000">250</text>
<text x="273.4" y="343.9" font-size="9.2" text-anchor="end" fill="#000">0</text>
<text x="273.4" y="317.2" font-size="9.2" text-anchor="end" fill="#000">100</text>
<text x="273.4" y="290.4" font-size="9.2" text-anchor="end" fill="#000">200</text>
<text x="273.4" y="263.6" font-size="9.2" text-anchor="end" fill="#000">300</text>
<text x="273.4" y="236.9" font-size="9.2" text-anchor="end" fill="#000">400</text>
<text x="273.4" y="210.1" font-size="9.2" text-anchor="end" fill="#000">500</text>
<rect x="392.5" y="206.2" width="58.1" height="56.4" fill="#fff" stroke="#000" stroke-width="1.1"/>
<g transform="translate(400.7 211.8) scale(0.85)"><path d="M0 0h0.01" marker-start="url(#m1)" stroke="none"/></g>
<text x="407.8" y="215.4" font-size="9.0" text-anchor="start" fill="#000">Gesture 1</text>
<g transform="translate(400.7 223.1) scale(0.85)"><path d="M0 0h0.01" marker-start="url(#m2)" stroke="none"/></g>
<text x="407.8" y="226.7" font-size="9.0" text-anchor="start" fill="#000">Gesture 2</text>
<g transform="translate(400.7 234.4) scale(0.85)"><path d="M0 0h0.01" marker-start="url(#m3)" stroke="none"/></g>
<text x="407.8" y="238.0" font-size="9.0" text-anchor="start" fill="#000">Gesture 3</text>
<g transform="translate(400.7 245.7) scale(0.85)"><path d="M0 0h0.01" marker-start="url(#m4)" stroke="none"/></g>
<text x="407.8" y="249.3" font-size="9.0" text-anchor="start" fill="#000">Gesture 4</text>
<g transform="translate(400.7 257.0) scale(0.85)"><path d="M0 0h0.01" marker-start="url(#m5)" stroke="none"/></g>
<text x="407.8" y="260.6" font-size="9.0" text-anchor="start" fill="#000">Gesture 5</text>
<text x="359.8" y="365.2" font-size="9.05" text-anchor="middle" fill="#000">Root mean square of channel 1</text>
<text x="249.0" y="273.5" font-size="9.05" text-anchor="middle" fill="#000" transform="rotate(-90 249.0 273.5)">Root mean square of channel 2</text>
<text x="241.6" y="204.0" font-size="14.5" text-anchor="start" font-weight="bold" fill="#000">e</text>
<path d="M540.6 208.2V340.1M575.2 208.2V340.1M609.8 208.2V340.1M644.4 208.2V340.1M679.0 208.2V340.1M506.0 313.7H679.0M506.0 287.3H679.0M506.0 261.0H679.0M506.0 234.6H679.0M506.0 208.2H679.0" stroke="#dcdcdc" stroke-width="0.6" fill="none"/>
<path d="M509.9 297.0 512.4 266.1 521.6 274.5 522.6 307.7 519.5 269.8 519.8 304.0 514.8 306.4 522.0 293.8 521.8 269.3 510.5 295.1 518.2 300.6 515.6 264.3 517.3 307.3 517.3 264.5 514.7 254.5 507.1 301.8 516.0 288.0 518.4 302.0 513.8 274.4 519.4 296.4 512.2 285.9 519.0 307.7 516.3 287.7 512.7 301.2 511.4 279.6 512.6 290.1 517.1 284.1 519.5 266.5 519.4 296.6 510.2 304.4 513.8 260.9 514.7 268.0 520.4 286.1 513.3 289.6 511.6 269.3 510.1 286.9 518.7 266.8 511.2 288.5 515.5 284.3 513.2 280.8 508.7 310.3 508.3 268.0 516.4 302.8 511.8 290.5 514.2 294.1 512.8 273.6 518.4 309.9 508.0 295.4 512.6 304.2 517.9 292.8 512.7 288.6 517.6 265.6 514.8 260.4 514.1 284.9 514.3 272.7 513.5 285.6 515.4 275.2 517.2 307.2 509.0 276.8 508.7 298.0 510.4 299.8 515.4 293.7 516.7 307.6 507.4 295.4 516.7 289.9 508.8 295.4 508.6 291.1 510.0 273.8 517.5 295.9 511.8 292.0 524.2 296.7 520.7 304.6 512.3 272.1 511.5 294.2 518.7 301.2 509.6 257.7 516.9 263.0 517.3 263.9 509.8 265.4 510.0 280.2 514.1 253.0 513.5 297.5 511.8 273.0 510.2 303.8 511.9 271.3 514.1 304.7 514.3 308.0 510.0 278.4 514.0 273.3 509.7 255.2 515.3 263.5 514.4 294.5 521.8 297.9 518.6 271.2 512.0 256.7 517.6 280.7 512.2 264.9 520.2 265.9 519.6 287.8 517.9 278.7 514.9 252.0 512.1 263.5 507.9 309.2 520.0 279.6 513.0 267.6 520.7 260.2 513.1 300.4 510.7 267.9 512.0 304.6 517.8 264.2 513.5 297.1 509.5 252.6 513.2 294.2 523.4 302.3 518.5 273.4 523.8 299.5 521.8 271.9 520.4 297.7 518.5 265.4 507.3 288.7 513.6 299.2 515.1 286.2 515.4 262.8 512.7 281.6 513.5 294.9 513.5 270.2 514.4 303.7 512.4 297.6 521.5 297.3 508.3 296.3 510.0 260.9 513.6 280.7 510.3 256.1 509.6 257.6 510.3 280.5 518.1 273.2 513.5 307.8 508.2 281.2 520.6 295.9 513.5 286.6 514.5 259.3 507.1 305.8 514.0 271.8 514.9 292.2 515.8 303.5 511.9 272.2 517.9 257.2 524.9 305.1 517.2 290.9 508.5 262.8 509.4 295.8 512.2 268.4 522.3 266.6 513.0 286.9 519.5 272.3 509.8 271.9 513.2 294.2 520.1 292.8 517.4 271.7 519.8 288.0 518.7 289.4 520.3 279.8 519.9 264.6 507.7 311.0 524.3 272.2 507.1 286.1 518.4 305.6 517.4 281.7 517.1 306.5 511.7 305.8 513.4 277.4 513.9 265.8 519.1 304.9 517.6 295.9 517.8 269.5 512.5 301.6 519.6 278.8 509.7 303.2 508.7 306.1 512.5 307.1 511.9 262.5 518.9 295.9 516.8 276.4 510.6 285.7 520.9 283.6 518.3 280.3 516.4 302.9 512.8 294.6 520.8 272.6 508.8 301.5 519.7 275.9 521.0 302.8 517.2 270.8 508.9 277.9 519.5 275.7 512.6 257.5 515.0 280.2 517.4 307.7 515.2 285.8 513.7 273.2 519.4 301.1 518.8 280.2 523.6 275.4 514.6 264.1 520.0 282.7 520.3 290.8 518.9 264.5 515.2 285.7 517.3 282.8 510.2 292.1 512.0 304.7 515.9 300.2 507.9 272.0 510.2 282.1 519.0 304.7 518.2 307.4 509.8 252.8 521.4 295.4 516.6 253.9 517.2 272.7 518.2 266.1 513.1 308.5 519.6 307.3 519.8 259.5 519.9 293.2 511.1 290.0 522.8 292.1 517.5 275.7 512.6 298.5 513.0 259.9 509.6 265.2 517.9 287.8 511.4 253.3 515.3 293.6 507.7 311.0 523.8 304.3 516.0 279.2 510.0 258.0 511.5 254.8 518.8 262.0 511.2 267.9 518.4 282.1 513.9 293.6 515.4 306.9 508.8 304.8 515.3 268.6 514.9 273.0 517.6 298.8 514.1 305.5 510.6 303.3 516.0 279.2 513.5 283.6 516.3 299.7 509.6 301.2 519.1 255.7 515.8 288.4 510.0 289.3 512.4 299.9 513.5 287.2 512.5 292.2 520.0 264.2 513.0 291.9 515.9 306.1 512.5 268.2 521.3 277.4 513.9 298.9 518.5 275.9 511.3 282.4 523.5 276.6 516.8 281.3 517.5 294.3 512.0 291.4 523.8 285.9 509.4 287.7 521.7 301.1 513.2 304.8 515.8 292.7 518.0 268.2 515.0 261.4 516.6 269.0 517.5 294.9 518.8 312.2 513.2 262.5 513.5 302.4 516.7 263.4 514.9 295.9 516.1 277.0 509.9 275.4 512.6 312.2 510.5 259.0 515.4 270.1 516.4 289.7 511.6 257.6 523.6 305.4 507.5 293.4 521.3 297.2 516.3 285.3 513.6 263.0 511.2 252.7 511.6 259.9 510.2 282.1 517.3 253.2 513.7 258.1 508.8 294.8 514.5 289.1 516.8 281.7 518.3 289.3 516.9 300.2 515.1 306.6 511.0 287.4 513.4 305.7 509.0 299.5 510.1 305.0 508.6 306.2 512.2 269.1 515.0 305.0 520.1 308.5 516.1 291.4 515.0 292.3 514.4 296.5 510.3 303.8 510.7 299.0 507.2 300.5 518.2 308.1 519.1 303.8 512.1 291.0 509.7 292.0 508.9 295.4 508.5 307.3 509.3 308.3 516.8 306.2 519.4 306.6 520.1 308.9 508.5 297.9 509.8 310.4 516.4 304.2 511.3 290.1 515.5 304.1 518.0 301.4 511.1 304.3 513.7 309.8 518.2 308.7 509.3 304.2 511.7 300.9 509.0 295.6 516.9 295.7 518.1 294.9 511.7 296.8 512.7 295.8 519.5 310.8 511.3 295.4 512.6 300.5 508.1 294.8 508.1 300.2 517.2 302.7 510.5 292.9 511.6 295.3 514.6 291.8 516.3 309.7 513.3 297.0 516.1 293.9 515.5 302.9 512.1 295.2 517.3 309.6 509.7 306.8 517.9 307.9 508.4 310.0 518.9 304.4 513.3 300.0 508.5 306.8 509.7 304.0 513.7 309.9 508.8 303.8 512.7 304.0 520.6 308.2 515.1 306.0 516.0 306.5 510.4 292.9 508.2 305.4 518.2 294.6 515.0 302.0 520.0 294.8 511.6 310.6 509.5 310.0 519.2 308.3 516.1 290.8 516.9 299.4 511.2 307.0 509.0 310.6 517.6 302.2 513.5 306.5 512.6 309.5 519.7 306.3 514.2 299.2 511.1 301.3 510.6 289.9 513.6 307.3 510.6 297.2 510.5 305.5 510.9 307.4 531.1 285.3 528.4 292.0 529.3 298.3 533.8 303.7 526.6 304.6 530.2 310.1 521.1 306.4 511.2 215.0 510.2 219.1 533.4 220.4 513.0 232.5 509.3 240.9 520.2 239.4 515.7 244.0 517.5 243.0 522.6 249.0 526.6 248.5 525.6 253.9 527.5 271.1 546.5 309.2 547.4 309.7 542.9 318.2 546.5 320.0 524.0 280.0 526.0 290.0" fill="none" stroke="none" marker-start="url(#m1)" marker-mid="url(#m1)" marker-end="url(#m1)"/>
<path d="M507.0 335.4 507.1 326.8 507.8 321.3 507.2 321.3 507.4 336.7 508.3 318.9 508.9 338.1 507.5 333.4 508.6 321.8 508.3 335.7 507.6 334.7 507.3 334.1 507.0 322.7 507.6 330.0 507.5 328.2 507.6 314.5 507.0 331.5 508.2 330.8 510.4 323.8 507.5 320.3 507.4 332.4 507.6 314.5 508.2 322.1 508.8 319.7 507.6 317.1 508.1 335.9 507.6 325.7 508.1 329.4 507.1 328.5 508.8 320.3 508.8 337.6 508.0 335.2 507.9 324.2 507.1 334.1 508.0 325.1 507.4 326.0 507.7 317.2 509.5 327.6 509.1 338.5 508.5 337.4 508.3 315.2 508.4 334.5 599.7 336.9 571.7 336.9 595.0 338.2 569.8 336.3 544.4 334.1 594.2 338.8 551.5 334.9 563.6 337.1 560.4 336.7 554.7 338.3 584.3 336.6 550.2 337.9 601.4 337.2 544.1 337.9 550.0 334.7 593.7 335.9 583.5 335.4 597.0 335.7 575.1 336.3 572.3 336.0 567.8 334.8 552.2 335.1 554.2 336.5 578.9 336.1 586.9 338.7 572.9 337.1 587.9 338.0 598.4 336.9 594.3 337.5 560.9 335.8 597.7 338.5 579.2 337.7 545.5 335.1 542.8 335.9 587.4 335.0 545.7 336.7 587.1 337.8 547.5 339.1 558.9 337.7 543.0 338.4 547.5 338.0 561.4 337.6 588.1 337.1 586.2 336.3 549.9 335.9 567.9 336.8 558.3 337.4 593.3 338.8 578.7 334.9 558.7 335.3 580.8 337.1 586.1 338.5 549.9 338.5 601.7 334.1 552.6 338.9 559.5 336.2 597.4 336.4 584.5 335.8 601.8 337.0 568.9 335.8 592.9 337.4 556.4 336.7 548.9 335.0 585.4 335.2 559.7 337.3 596.5 338.0 596.3 336.7 575.8 337.7 594.1 338.0 570.6 336.4 582.6 338.6 544.1 334.5 564.8 334.0 560.1 335.4 592.4 337.4 546.0 337.1 559.3 335.9 563.3 334.2 589.6 336.9 582.8 334.5 583.0 338.0 593.4 336.5 549.6 335.7 563.1 337.3 542.5 334.7 587.0 337.5 598.9 333.9 589.9 339.1 586.3 337.4 545.6 335.3 563.1 338.0 598.0 336.5 593.7 335.8 570.4 336.5 598.4 336.9 601.2 339.3 572.8 335.6 599.7 336.5 598.8 338.2 610.0 336.0 615.0 337.0 621.0 336.5 628.0 336.0 634.0 336.5 641.0 336.3 648.0 337.0 654.0 336.5 598.0 335.0 590.0 337.0" fill="none" stroke="none" marker-start="url(#m2)" marker-mid="url(#m2)" marker-end="url(#m2)"/>
<path d="M509.0 325.4 510.0 334.8 510.3 330.8 509.2 332.5 508.1 334.0 507.9 335.2 509.0 334.0 507.3 326.3 509.6 328.7 511.1 331.5 508.9 332.8 508.0 323.3 510.1 334.0 510.0 324.4 509.8 325.1 508.4 333.2 507.6 331.1 508.4 325.0 508.4 331.5 508.5 328.4 510.7 331.6 510.4 327.4 509.1 324.8 510.8 332.5 509.4 323.8 509.5 324.2 509.0 325.8 510.0 338.2 507.6 328.4 510.4 334.6 510.6 333.2 509.2 332.4 507.5 323.7 509.6 330.4 508.6 324.0 511.8 329.6 510.6 337.2 508.5 333.8 511.3 333.8 510.0 336.0 507.5 336.2 511.5 334.1 507.5 328.7 566.4 329.6" fill="none" stroke="none" marker-start="url(#m3)" marker-mid="url(#m3)" marker-end="url(#m3)"/>
<path d="M523.0 322.3 547.4 322.0 522.7 321.8 516.4 326.3 520.4 331.1 545.3 322.0 525.8 318.7 541.6 327.0 526.2 329.5 521.3 323.9 537.4 318.9 513.9 317.5 534.3 320.6 536.2 324.5 525.9 324.7 512.8 315.5 512.0 316.8 540.7 319.6 523.5 324.2 525.6 317.5 511.2 332.9 527.3 323.3 528.9 320.7 513.8 321.0 525.5 324.8 509.7 315.1 528.5 324.4 520.0 316.4 527.4 323.0 527.0 326.0 511.1 318.5 524.9 315.0 522.2 327.2 533.8 328.6 536.6 320.1 518.3 317.5 508.6 322.9 524.9 323.5 533.2 321.6 538.9 322.2 539.5 323.1 529.6 328.9 518.6 316.0 523.5 321.6 527.1 315.6 523.2 320.8 531.1 326.1 527.0 321.7 525.9 322.1 522.5 316.9 532.9 325.3 543.7 323.5 516.2 314.6 524.1 331.8 517.1 329.5 529.7 323.1 540.0 327.1 532.0 318.0 537.1 325.4 547.6 326.2 519.9 321.3 529.5 321.5 522.0 328.4 510.4 317.3 528.0 316.5 516.0 324.4 536.7 316.8 521.0 324.1 511.4 318.3 521.0 319.8 521.7 328.3 524.8 319.7 533.9 326.2 533.2 315.3 533.7 329.2 516.7 322.7 519.0 322.3 528.0 321.8 544.4 323.8 529.3 326.5 539.0 321.2 528.6 319.0 527.0 327.9 532.9 325.5 518.9 322.8 521.4 328.0 540.7 319.9 545.0 328.8 543.5 323.3 519.9 329.4 519.6 314.6 517.9 320.1 528.5 328.8 519.4 317.1 540.3 330.3 531.8 323.5 520.2 316.9 538.7 324.1 541.0 327.3 530.9 323.9 524.0 322.7 516.2 320.6 533.8 326.9 525.1 327.3 519.9 318.1 535.5 316.5 525.3 327.5 538.7 319.2 541.9 319.7 515.5 332.0 541.7 320.8 525.6 327.3 525.2 318.5 521.1 324.2 523.6 318.4 514.8 309.5 513.9 325.8 520.6 330.6 532.0 322.4 541.8 332.1 518.9 328.8 530.6 319.7 514.9 325.2 535.4 326.1 520.6 325.6 520.9 316.8 529.4 322.0 518.6 328.6 511.4 318.3 523.9 329.4 510.9 325.0 513.0 333.1 517.7 322.5 521.8 318.3 518.6 317.1 533.0 323.4 522.9 331.1 508.9 326.4 525.1 322.0 533.2 325.4 517.6 326.3 531.0 316.7 531.9 332.4 530.1 331.0 535.2 327.5 537.1 319.7 526.4 319.0 531.2 320.7 540.8 321.7 535.3 319.6 526.5 324.1 524.9 311.4 519.9 328.3 519.5 315.9 509.2 330.6 517.5 325.9 520.3 318.7 525.7 319.6 516.6 322.7 539.2 319.1 533.5 331.7 545.1 324.0 532.3 327.0 511.2 312.6 547.5 326.0 535.5 323.4 519.2 324.3 543.0 326.9 524.6 324.7 540.0 330.8 516.0 324.7 545.9 326.3 528.8 331.2 525.3 320.8 519.3 317.6 518.8 331.0 517.2 327.8 515.1 318.8 510.5 315.5 533.7 319.7 530.3 326.3 528.1 317.6 536.5 324.0 532.5 320.4 524.9 323.0 536.2 321.1 511.3 332.3 517.5 330.7 512.1 311.6 522.3 318.5 528.0 321.3 546.5 322.7 541.4 330.1 541.4 321.3 523.8 328.8 519.6 334.3 532.7 320.6 517.0 328.6 515.5 320.9 526.9 316.7 514.2 320.6 523.0 323.9 522.1 328.0 538.9 322.4 523.3 318.5 521.0 322.9 524.0 319.1 518.1 332.5 531.4 327.1 526.2 324.2 520.9 331.9 508.9 323.0 535.3 320.2 536.3 320.6 512.8 318.7 527.9 319.3 530.0 326.6 519.3 320.3 516.7 319.4 513.6 322.2 537.0 323.9 522.4 322.8 512.2 332.4 514.6 326.0 524.9 319.8 509.3 321.0 538.7 326.8 524.9 327.6 524.4 326.8 516.7 325.0 525.5 319.6 533.4 324.7 518.6 316.7 515.5 313.7 528.8 318.6 528.5 319.2 519.1 323.6 536.8 321.6 520.6 321.9 529.1 321.7 508.3 321.2 515.7 322.3 541.2 324.3 525.3 319.0 531.1 323.7 514.2 325.8 533.9 317.1 511.1 319.2 524.1 320.7 522.4 318.2 513.7 320.2 524.1 319.8 525.5 323.0 519.8 327.4 515.4 321.4 509.7 322.0 510.7 321.5 511.9 321.2 512.5 331.4 519.7 326.4 509.3 322.5 514.7 314.6 507.2 320.4 534.1 325.3 523.2 323.1 524.4 324.9 538.5 323.0 521.8 319.3 523.3 322.7 523.6 324.6 533.2 324.7 535.2 321.4 521.9 320.0 519.2 324.1 508.1 323.0 509.7 326.0 527.0 320.8 518.5 321.8 517.2 321.3 523.5 323.4 525.7 318.2 513.9 326.5 530.5 321.0 513.8 327.0 524.7 327.1 517.9 317.2 518.8 322.9 517.7 324.0 527.2 321.9 526.1 324.1 520.1 319.0 528.3 325.4 510.4 322.9 523.1 321.2 510.4 313.2 508.4 317.0 525.7 327.0 519.0 325.7 520.7 317.3 513.7 316.8 514.7 323.5 511.5 326.5 518.9 322.9 521.1 323.0 534.7 309.2 550.1 316.4 561.0 319.5 569.1 318.8 570.9 323.7 572.7 324.6 557.3 328.2" fill="none" stroke="none" marker-start="url(#m4)" marker-mid="url(#m4)" marker-end="url(#m4)"/>
<path d="M555.5 331.3 533.6 335.6 532.7 334.2 554.3 330.3 515.3 339.0 543.4 332.1 560.2 336.2 561.6 339.1 553.5 329.3 538.9 332.4 554.5 332.0 568.3 335.8 536.2 336.2 529.7 334.6 537.0 335.4 563.7 336.5 534.4 336.6 553.4 337.2 513.9 336.7 542.5 335.2 545.7 332.1 515.5 336.7 560.3 337.6 558.1 332.9 525.3 336.9 531.2 337.4 547.1 329.9 535.7 333.5 533.2 331.9 542.1 335.2 522.1 331.1 557.3 335.7 521.1 330.7 517.8 336.2 530.4 334.1 544.6 334.2 536.7 334.7 565.4 336.4 554.2 337.8 558.9 335.0 528.6 336.9 541.0 331.2 547.3 332.6 530.0 338.0 510.9 338.2 522.4 333.5 523.7 334.3 536.4 335.3 545.2 334.9 563.9 335.3 556.9 336.7 547.2 329.0 548.3 337.8 563.6 336.5 552.8 335.1 516.6 334.6 517.9 337.2 556.9 335.0 557.3 338.3 540.0 338.3 512.6 338.4 533.9 333.1 545.4 334.2 545.2 335.5 532.9 335.8 549.5 334.8 529.4 334.7 522.5 339.2 563.5 332.8 564.0 334.7 545.4 333.3 546.9 333.4 511.5 337.1 529.6 334.5 547.5 331.7 559.4 333.7 564.2 337.7 535.0 337.5 534.6 335.8 552.7 338.6 522.3 338.2 561.5 338.8 527.7 335.2 554.4 333.1 548.1 332.6 530.4 332.3 520.4 336.4 555.6 338.1 537.8 335.3 558.3 332.5 545.7 335.9 551.4 331.5 531.2 336.0 565.2 336.3 555.9 332.6 551.8 334.4 550.2 331.7 542.0 332.3 544.6 335.8 552.5 336.0 557.4 334.4 527.2 335.0 547.3 338.4 530.8 337.5 524.1 338.1 524.6 338.3 557.6 332.5 530.6 336.6 536.3 332.6 530.7 331.8 539.2 331.6 558.4 330.7 552.2 334.3 527.8 335.6 540.6 332.5 552.0 335.9 554.6 333.6 544.2 334.3 565.9 333.8 540.6 330.5 522.7 336.0 562.1 332.1 555.2 334.6 523.6 332.8 561.6 337.0 543.8 334.5 517.8 332.7 541.3 334.2 544.1 331.0 552.0 336.6 547.6 337.2 541.4 335.7 550.2 334.2 525.0 335.8 566.1 335.0 561.9 333.8 549.3 336.3 561.7 332.1 554.7 333.0 539.6 338.3 518.7 337.5 544.3 332.7 564.0 335.2 526.0 336.3 545.5 335.4 562.0 334.1 559.2 337.8 560.5 335.6 519.9 333.8 551.6 334.7 526.3 337.0 536.9 333.8 546.2 333.1 563.5 338.3 537.5 337.6 513.4 334.6 527.8 334.1 533.4 335.2 517.8 335.3 540.5 335.2 528.5 338.4 537.0 333.1 540.4 335.9 514.7 336.1 556.6 331.1 561.8 337.6 522.0 334.5 543.1 337.6 520.7 338.0 531.7 333.9 562.0 333.8 511.8 335.4 538.0 332.9 528.1 333.5 546.2 336.5 566.6 336.0 527.2 332.0 539.8 336.9 529.8 333.2 553.3 331.9 560.3 334.7 558.6 333.9 546.3 334.5 551.3 332.6 557.9 336.9 560.2 332.5 545.9 334.2 543.6 337.0 542.3 336.3 540.5 333.2 521.9 336.8 555.3 332.0 540.7 336.5 549.1 337.2 550.2 334.1 543.5 338.8 544.1 333.4 563.6 336.2 538.6 337.2 557.7 337.4 555.9 336.8 542.8 334.5 524.4 332.1 560.9 336.9 560.1 335.9 528.5 333.9 562.5 332.2 559.6 331.7 566.1 336.0 537.2 335.0 562.5 335.0 565.7 333.2 528.0 331.3 545.3 335.1 521.7 332.3 530.0 334.2 551.3 331.5 558.0 332.3 548.5 334.8 512.1 335.5 560.4 335.3 540.1 332.3 543.1 333.9 554.7 337.9 522.2 337.7 543.1 337.3 561.8 334.6 567.4 336.2 538.0 333.3 534.4 333.2 544.4 336.8 512.3 335.0 527.5 334.5 525.7 334.1 526.6 339.3 552.4 331.0 526.7 335.0 533.6 336.0 515.1 338.1 537.1 334.7 521.7 336.6 519.9 337.5 524.1 335.3 566.7 332.7 549.9 336.3 519.1 334.2 554.6 335.6 539.0 334.1 546.4 332.8 550.8 335.1" fill="none" stroke="none" marker-start="url(#m5)" marker-mid="url(#m5)" marker-end="url(#m5)"/>
<path d="M506.0 208.2V340.1H679.0M506.0 340.1v-2.0M540.6 340.1v-2.0M575.2 340.1v-2.0M609.8 340.1v-2.0M644.4 340.1v-2.0M679.0 340.1v-2.0M506.0 340.1h2.0M506.0 313.7h2.0M506.0 287.3h2.0M506.0 261.0h2.0M506.0 234.6h2.0M506.0 208.2h2.0" stroke="#333" stroke-width="0.8" fill="none"/>
<text x="506.0" y="352.2" font-size="9.2" text-anchor="middle" fill="#000">0</text>
<text x="540.6" y="352.2" font-size="9.2" text-anchor="middle" fill="#000">1</text>
<text x="575.2" y="352.2" font-size="9.2" text-anchor="middle" fill="#000">2</text>
<text x="609.8" y="352.2" font-size="9.2" text-anchor="middle" fill="#000">3</text>
<text x="644.4" y="352.2" font-size="9.2" text-anchor="middle" fill="#000">4</text>
<text x="679.0" y="352.2" font-size="9.2" text-anchor="middle" fill="#000">5</text>
<text x="501.0" y="343.3" font-size="9.2" text-anchor="end" fill="#000">0</text>
<text x="501.0" y="316.9" font-size="9.2" text-anchor="end" fill="#000">0.5</text>
<text x="501.0" y="290.6" font-size="9.2" text-anchor="end" fill="#000">1</text>
<text x="501.0" y="264.2" font-size="9.2" text-anchor="end" fill="#000">1.5</text>
<text x="501.0" y="237.8" font-size="9.2" text-anchor="end" fill="#000">2</text>
<text x="501.0" y="211.4" font-size="9.2" text-anchor="end" fill="#000">2.5</text>
<rect x="620.5" y="208.2" width="58.5" height="55.8" fill="#fff" stroke="#000" stroke-width="1.1"/>
<g transform="translate(628.7 213.8) scale(0.85)"><path d="M0 0h0.01" marker-start="url(#m1)" stroke="none"/></g>
<text x="635.8" y="217.4" font-size="9.0" text-anchor="start" fill="#000">Gesture 1</text>
<g transform="translate(628.7 224.9) scale(0.85)"><path d="M0 0h0.01" marker-start="url(#m2)" stroke="none"/></g>
<text x="635.8" y="228.5" font-size="9.0" text-anchor="start" fill="#000">Gesture 2</text>
<g transform="translate(628.7 236.1) scale(0.85)"><path d="M0 0h0.01" marker-start="url(#m3)" stroke="none"/></g>
<text x="635.8" y="239.7" font-size="9.0" text-anchor="start" fill="#000">Gesture 3</text>
<g transform="translate(628.7 247.3) scale(0.85)"><path d="M0 0h0.01" marker-start="url(#m4)" stroke="none"/></g>
<text x="635.8" y="250.9" font-size="9.0" text-anchor="start" fill="#000">Gesture 4</text>
<g transform="translate(628.7 258.4) scale(0.85)"><path d="M0 0h0.01" marker-start="url(#m5)" stroke="none"/></g>
<text x="635.8" y="262.0" font-size="9.0" text-anchor="start" fill="#000">Gesture 5</text>
<text x="592.0" y="365.2" font-size="9.1" text-anchor="middle" fill="#000">Variance of channel 1(×10<tspan font-size="6" dy="-3.5">4</tspan><tspan dy="3.5">)</tspan></text>
<text x="481.0" y="272.0" font-size="9.1" text-anchor="middle" fill="#000" transform="rotate(-90 481.0 272.0)">Variance of channel 2 (×10<tspan font-size="6" dy="-3.5">5</tspan><tspan dy="3.5">)</tspan></text>
<text x="468.8" y="204.0" font-size="14.5" text-anchor="start" font-weight="bold" fill="#000">f</text>
<path d="M42.0 386.0V530.3H221.6M42.0 530.3h3.2M42.0 521.3h2.0M42.0 512.3h3.2M42.0 503.2h2.0M42.0 494.2h3.2M42.0 485.2h2.0M42.0 476.2h3.2M42.0 467.2h2.0M42.0 458.1h3.2M42.0 449.1h2.0M42.0 440.1h3.2M42.0 431.1h2.0M42.0 422.1h3.2M42.0 413.1h2.0M42.0 404.0h3.2M42.0 395.0h2.0M42.0 386.0h3.2M42.0 530.3v-2.0M60.0 530.3v-3.2M77.9 530.3v-2.0M95.9 530.3v-3.2M113.8 530.3v-2.0M131.8 530.3v-3.2M149.8 530.3v-2.0M167.7 530.3v-3.2M185.7 530.3v-2.0M203.6 530.3v-3.2M221.6 530.3v-2.0" stroke="#333" stroke-width="0.8" fill="none"/>
<polyline points="60.0,429.3 95.9,482.7 131.8,471.1 167.7,497.8 203.6,437.2" fill="none" stroke="#f00" stroke-width="0.8"/>
<polyline points="60.0,460.0 95.9,493.9 131.8,467.5 167.7,486.3 203.6,433.3" fill="none" stroke="#00f" stroke-width="0.8"/>
<circle cx="60.0" cy="429.3" r="2.3" fill="url(#gr)"/>
<circle cx="95.9" cy="482.7" r="2.3" fill="url(#gr)"/>
<circle cx="131.8" cy="471.1" r="2.3" fill="url(#gr)"/>
<circle cx="167.7" cy="497.8" r="2.3" fill="url(#gr)"/>
<circle cx="203.6" cy="437.2" r="2.3" fill="url(#gr)"/>
<circle cx="60.0" cy="460.0" r="2.3" fill="url(#gb)"/>
<circle cx="95.9" cy="493.9" r="2.3" fill="url(#gb)"/>
<circle cx="131.8" cy="467.5" r="2.3" fill="url(#gb)"/>
<circle cx="167.7" cy="486.3" r="2.3" fill="url(#gb)"/>
<circle cx="203.6" cy="433.3" r="2.3" fill="url(#gb)"/>
<text x="36.2" y="533.4" font-size="8.8" text-anchor="end" fill="#000">70</text>
<text x="36.2" y="515.4" font-size="8.8" text-anchor="end" fill="#000">75</text>
<text x="36.2" y="497.3" font-size="8.8" text-anchor="end" fill="#000">80</text>
<text x="36.2" y="479.3" font-size="8.8" text-anchor="end" fill="#000">85</text>
<text x="36.2" y="461.2" font-size="8.8" text-anchor="end" fill="#000">90</text>
<text x="36.2" y="443.2" font-size="8.8" text-anchor="end" fill="#000">95</text>
<text x="36.2" y="425.2" font-size="8.8" text-anchor="end" fill="#000">100</text>
<text x="36.2" y="407.1" font-size="8.8" text-anchor="end" fill="#000">105</text>
<text x="36.2" y="389.1" font-size="8.8" text-anchor="end" fill="#000">110</text>
<text x="60.0" y="542.7" font-size="8.8" text-anchor="middle" fill="#000">1</text>
<text x="95.9" y="542.7" font-size="8.8" text-anchor="middle" fill="#000">2</text>
<text x="131.8" y="542.7" font-size="8.8" text-anchor="middle" fill="#000">3</text>
<text x="167.7" y="542.7" font-size="8.8" text-anchor="middle" fill="#000">4</text>
<text x="203.6" y="542.7" font-size="8.8" text-anchor="middle" fill="#000">5</text>
<path d="M51.7 397.3H72.7" stroke="#f00" stroke-width="0.8"/>
<circle cx="62.2" cy="397.3" r="2.3" fill="url(#gr)"/>
<text x="78.0" y="400.5" font-size="8.8" text-anchor="start" fill="#000">10Features</text>
<path d="M51.7 408.3H72.7" stroke="#00f" stroke-width="0.8"/>
<circle cx="62.2" cy="408.3" r="2.3" fill="url(#gb)"/>
<text x="78.0" y="411.5" font-size="8.8" text-anchor="start" fill="#000">16Features</text>
<text x="15.3" y="458.0" font-size="8.6" text-anchor="middle" fill="#000" transform="rotate(-90 15.3 458.0)">Predicted results (%)</text>
<text x="131.6" y="556.2" font-size="9.17" text-anchor="middle" fill="#000">Gesture recognition</text>
<text x="0.0" y="394.5" font-size="14" text-anchor="start" font-weight="bold" fill="#000">g</text>
<path d="M296.6 399.4V528.3M314.7 399.4V528.3M332.8 399.4V528.3M350.8 399.4V528.3M368.9 399.4V528.3M387.0 399.4V528.3M405.1 399.4V528.3M423.2 399.4V528.3M441.2 399.4V528.3M278.5 512.2H452.1M278.5 496.1H452.1M278.5 480.0H452.1M278.5 463.8H452.1M278.5 447.7H452.1M278.5 431.6H452.1M278.5 415.5H452.1M278.5 399.4H452.1" stroke="#dcdcdc" stroke-width="0.6" fill="none"/>
<path d="M278.9 528.3L313.2 528.3L313.6 496.1L347.9 496.1L348.3 463.8L382.7 463.8L383.0 431.6L417.4 431.6L417.7 399.4L452.1 399.4" stroke="#44f" stroke-width="0.8" fill="none"/>
<path d="M278.9 528.3H313.2M313.6 496.1H347.9M348.3 463.8H382.7M383.0 431.6H417.4M417.7 399.4H452.1" stroke="#00f" stroke-width="4.6" stroke-linecap="round" fill="none"/>
<path d="M313.2 397.7l3.4 3.4m0 -3.4l-3.4 3.4M339.7 397.7l3.4 3.4m0 -3.4l-3.4 3.4M350.2 397.7l3.4 3.4m0 -3.4l-3.4 3.4M356.4 397.7l3.4 3.4m0 -3.4l-3.4 3.4M294.7 429.9l3.4 3.4m0 -3.4l-3.4 3.4M299.5 429.9l3.4 3.4m0 -3.4l-3.4 3.4M352.8 429.9l3.4 3.4m0 -3.4l-3.4 3.4M316.6 462.1l3.4 3.4m0 -3.4l-3.4 3.4M322.7 462.1l3.4 3.4m0 -3.4l-3.4 3.4M328.5 462.1l3.4 3.4m0 -3.4l-3.4 3.4M337.2 462.1l3.4 3.4m0 -3.4l-3.4 3.4M390.4 462.1l3.4 3.4m0 -3.4l-3.4 3.4M392.7 462.1l3.4 3.4m0 -3.4l-3.4 3.4M413.5 462.1l3.4 3.4m0 -3.4l-3.4 3.4M415.3 462.1l3.4 3.4m0 -3.4l-3.4 3.4M436.7 462.1l3.4 3.4m0 -3.4l-3.4 3.4M439.9 462.1l3.4 3.4m0 -3.4l-3.4 3.4M350.9 494.4l3.4 3.4m0 -3.4l-3.4 3.4M358.0 494.4l3.4 3.4m0 -3.4l-3.4 3.4M365.7 494.4l3.4 3.4m0 -3.4l-3.4 3.4M375.9 494.4l3.4 3.4m0 -3.4l-3.4 3.4M378.4 494.4l3.4 3.4m0 -3.4l-3.4 3.4M385.5 526.6l3.4 3.4m0 -3.4l-3.4 3.4M414.6 526.6l3.4 3.4m0 -3.4l-3.4 3.4" stroke="#f00" stroke-width="0.9" fill="none"/>
<path d="M278.5 399.4V528.3H452.1M278.5 528.3h3.0M278.5 512.2h1.8M278.5 496.1h3.0M278.5 480.0h1.8M278.5 463.8h3.0M278.5 447.7h1.8M278.5 431.6h3.0M278.5 415.5h1.8M278.5 399.4h3.0M278.5 528.3v-3.0M296.6 528.3v-1.8M314.7 528.3v-3.0M332.8 528.3v-1.8M350.8 528.3v-3.0M368.9 528.3v-1.8M387.0 528.3v-3.0M405.1 528.3v-1.8M423.2 528.3v-3.0M441.2 528.3v-1.8" stroke="#333" stroke-width="0.8" fill="none"/>
<text x="273.8" y="531.5" font-size="8.9" text-anchor="end" fill="#000">1</text>
<text x="273.8" y="499.3" font-size="8.9" text-anchor="end" fill="#000">2</text>
<text x="273.8" y="467.0" font-size="8.9" text-anchor="end" fill="#000">3</text>
<text x="273.8" y="434.8" font-size="8.9" text-anchor="end" fill="#000">4</text>
<text x="273.8" y="402.6" font-size="8.9" text-anchor="end" fill="#000">5</text>
<text x="278.5" y="540.7" font-size="8.9" text-anchor="middle" fill="#000">0</text>
<text x="314.7" y="540.7" font-size="8.9" text-anchor="middle" fill="#000">100</text>
<text x="350.8" y="540.7" font-size="8.9" text-anchor="middle" fill="#000">200</text>
<text x="387.0" y="540.7" font-size="8.9" text-anchor="middle" fill="#000">300</text>
<text x="423.2" y="540.7" font-size="8.9" text-anchor="middle" fill="#000">400</text>
<text x="367.9" y="392.2" font-size="9.2" text-anchor="middle" fill="#000">Accuracy = 94.375%</text>
<text x="260.5" y="463.0" font-size="9.0" text-anchor="middle" fill="#000" transform="rotate(-90 260.5 463.0)">Predicted results</text>
<text x="365.0" y="556.2" font-size="9.0" text-anchor="middle" fill="#000">Predicted samples</text>
<text x="242.3" y="393.7" font-size="14" text-anchor="start" font-weight="bold" fill="#000">h</text>
<rect x="384.2" y="403.3" width="71.5" height="27.8" fill="#fff" stroke="#333" stroke-width="0.8"/>
<path d="M386 408.1H401.8" stroke="#f00" stroke-width="0.7"/><circle cx="393.9" cy="408.1" r="1.75" fill="#f00"/>
<path d="M392.2 415.6l3.4 3.4m0 -3.4l-3.4 3.4" stroke="#f00" stroke-width="0.85"/>
<path d="M386 426.3H401.8" stroke="#00f" stroke-width="0.7"/><circle cx="393.9" cy="426.3" r="2.0" fill="none" stroke="#00f" stroke-width="0.8"/>
<text x="404.8" y="410.2" font-size="6.1" text-anchor="start" fill="#000">Actual value</text>
<text x="404.8" y="419.4" font-size="6.1" text-anchor="start" fill="#000">Correct prediction</text>
<text x="404.8" y="428.4" font-size="6.1" text-anchor="start" fill="#000">Wrong prediction</text>
<rect x="509.1" y="392.8" width="35.12" height="27.42" fill="#0b6fba"/>
<rect x="614.5" y="392.8" width="35.12" height="27.42" fill="#fbede7"/>
<rect x="544.2" y="420.2" width="35.12" height="27.42" fill="#0b6fba"/>
<rect x="579.3" y="420.2" width="35.12" height="27.42" fill="#fbede7"/>
<rect x="649.6" y="420.2" width="35.12" height="27.42" fill="#fbede7"/>
<rect x="544.2" y="447.6" width="35.12" height="27.42" fill="#fbede7"/>
<rect x="579.3" y="447.6" width="35.12" height="27.42" fill="#0b6fba"/>
<rect x="614.5" y="447.6" width="35.12" height="27.42" fill="#fbede7"/>
<rect x="649.6" y="447.6" width="35.12" height="27.42" fill="#fbede7"/>
<rect x="509.1" y="475.1" width="35.12" height="27.42" fill="#fbede7"/>
<rect x="579.3" y="475.1" width="35.12" height="27.42" fill="#fbede7"/>
<rect x="614.5" y="475.1" width="35.12" height="27.42" fill="#0b6fba"/>
<rect x="579.3" y="502.5" width="35.12" height="27.42" fill="#fbede7"/>
<rect x="649.6" y="502.5" width="35.12" height="27.42" fill="#0b6fba"/>
<path d="M509.1 392.8V529.9M509.1 392.8H684.7M544.2 392.8V529.9M509.1 420.2H684.7M579.3 392.8V529.9M509.1 447.6H684.7M614.5 392.8V529.9M509.1 475.1H684.7M649.6 392.8V529.9M509.1 502.5H684.7M684.7 392.8V529.9M509.1 529.9H684.7" stroke="#555" stroke-width="0.9" fill="none"/>
<text x="526.7" y="410.3" font-size="8.8" text-anchor="middle" fill="#fff">94</text>
<text x="632.0" y="410.3" font-size="8.8" text-anchor="middle" fill="#000">2</text>
<text x="561.8" y="437.7" font-size="8.8" text-anchor="middle" fill="#fff">88</text>
<text x="596.9" y="437.7" font-size="8.8" text-anchor="middle" fill="#000">4</text>
<text x="667.1" y="437.7" font-size="8.8" text-anchor="middle" fill="#000">4</text>
<text x="561.8" y="465.2" font-size="8.8" text-anchor="middle" fill="#000">5</text>
<text x="596.9" y="465.2" font-size="8.8" text-anchor="middle" fill="#fff">88</text>
<text x="632.0" y="465.2" font-size="8.8" text-anchor="middle" fill="#000">1</text>
<text x="667.1" y="465.2" font-size="8.8" text-anchor="middle" fill="#000">2</text>
<text x="526.7" y="492.6" font-size="8.8" text-anchor="middle" fill="#000">2</text>
<text x="596.9" y="492.6" font-size="8.8" text-anchor="middle" fill="#000">5</text>
<text x="632.0" y="492.6" font-size="8.8" text-anchor="middle" fill="#fff">89</text>
<text x="596.9" y="520.0" font-size="8.8" text-anchor="middle" fill="#000">2</text>
<text x="667.1" y="520.0" font-size="8.8" text-anchor="middle" fill="#fff">94</text>
<text x="501.5" y="410.5" font-size="8.8" text-anchor="middle" fill="#000">1</text>
<text x="526.7" y="542.2" font-size="8.8" text-anchor="middle" fill="#000">1</text>
<text x="501.5" y="437.9" font-size="8.8" text-anchor="middle" fill="#000">2</text>
<text x="561.8" y="542.2" font-size="8.8" text-anchor="middle" fill="#000">2</text>
<text x="501.5" y="465.4" font-size="8.8" text-anchor="middle" fill="#000">3</text>
<text x="596.9" y="542.2" font-size="8.8" text-anchor="middle" fill="#000">3</text>
<text x="501.5" y="492.8" font-size="8.8" text-anchor="middle" fill="#000">4</text>
<text x="632.0" y="542.2" font-size="8.8" text-anchor="middle" fill="#000">4</text>
<text x="501.5" y="520.2" font-size="8.8" text-anchor="middle" fill="#000">5</text>
<text x="667.1" y="542.2" font-size="8.8" text-anchor="middle" fill="#000">5</text>
<text x="489.8" y="469.0" font-size="9.0" text-anchor="middle" fill="#000" transform="rotate(-90 489.8 469.0)">Actual class</text>
<text x="597.0" y="556.2" font-size="9.0" text-anchor="middle" fill="#000">Predicted class</text>
<text x="470.1" y="392.6" font-size="14" text-anchor="start" font-weight="bold" fill="#000">i</text>
<rect x="41.8" y="584.8" width="642.2" height="187.2" fill="none" stroke="#000" stroke-width="1.7" stroke-dasharray="2.65 1.15"/>
<text x="0.3" y="586.8" font-size="14.5" text-anchor="start" font-weight="bold" fill="#000">j</text>
<rect x="50" y="610" width="142" height="143.5" fill="#fcfcfc"/>
<rect x="282" y="602.5" width="138" height="139.5" fill="#fcfcfc"/>
<rect x="535" y="598" width="133" height="140.6" fill="#fcfcfc"/>
<path d="M50 620 C50 615 56 614 60 619 C63.5 624 65 636 65 646 C65 655 64.3 662 64.6 666 C65 670 67.5 675 70 680 C72 686 73.2 697 73.7 707 C74.2 712 75 716 77 719 C79.5 722 82.5 724.5 83.8 727 C84 729.5 80 729.5 77.4 728.5 C76.5 733 75.5 738 74 741 C72.5 745 70 746.5 67.5 746 C65 745 64 740 63.7 735 C62.8 729 61.5 722 61 719.5 C59 712 56.5 702 54.5 695 C52.5 688 50.5 683 50 675Z" fill="#f6d3c4"/>
<path d="M66 736 L66.5 744.5 M69.3 735 L70 745.5 M72.4 734 L72.8 743.5" stroke="#e9b9a6" stroke-width="0.45" fill="none"/>
<path d="M55 667 C57 665 60 665 62 667" stroke="#eec0ae" stroke-width="0.5" fill="none"/>
<g fill="none" stroke="#8b55b8" stroke-width="0.9" stroke-dasharray="2.6 1.8"><ellipse cx="63" cy="684.5" rx="11.5" ry="14" transform="rotate(-8 63 684.5)"/><ellipse cx="144" cy="716" rx="49" ry="30"/><path d="M70 675.5 L138 684.5"/><path d="M69 695 L96 722"/></g>
<path d="M57.5 680 L68 678.7 L66.9 692.7 L62.2 693.9Z" fill="#f1b31c" stroke="#d08f00" stroke-width="0.4"/>
<path d="M62.5 675.5 C64 668 68 664 74 662 C82 660 86 660 92 656 C97 652 102 651 108 649.5" fill="none" stroke="#5fb548" stroke-width="1.4"/>
<path d="M61.5 677.5 C64 673 68 671 76 670 C84 669 88 666 94 661.5 C99 658 104 656 111 654.5" fill="none" stroke="#3a8fdc" stroke-width="1.4"/>
<path d="M101.2 641.2 L163.8 620.2 L181.3 637.2 L119.4 658.3Z" fill="#505050"/>
<path d="M101.2 641.2 L119.4 658.3 L120.6 672.3 L101.2 657.1Z" fill="#333"/>
<path d="M119.4 658.3 L181.3 637.2 L182.5 651.2 L120.6 672.3Z" fill="#3c3c3c"/>
<path d="M160 633 L181.3 637.2 L182.5 651.2 L163 657.7 L162 645Z" fill="#363636"/>
<path d="M145 626 L163.8 620.2 L181.3 637.2 L162 643.5Z" fill="#575757"/>
<path d="M119.4 658.3 L181.3 637.2" stroke="#6a6a6a" stroke-width="0.5"/>
<path d="M102.5 645 L112 653.5 L112 664 L102.5 656Z" fill="#1c1c1c"/><path d="M105 647.5 L110.5 652.5 L110.5 656 L105 651Z" fill="#58b84a"/><path d="M105 651.5 L110.5 656.5 L110.5 660 L105 655Z" fill="#3a8fdc"/>
<g fill="#2a2a2a"><path d="M160.5 626.5l4.5-1.5v1l-4.5 1.5zM160.5 628.3l4.5-1.5v1l-4.5 1.5zM160.5 630.1l4.5-1.5v1l-4.5 1.5z"/><path d="M152 638.5l4-1.3v0.9l-4 1.3zM152 640.1l4-1.3v0.9l-4 1.3zM152 641.7l4-1.3v0.9l-4 1.3z"/><circle cx="146.5" cy="628.5" r="1.2"/><circle cx="119" cy="654" r="1"/></g>
<path d="M124 661.5 L127 660.5 L127 663.5 L124 664.5Z" fill="#777"/>
<path d="M101.2 706.6 L111.6 699.4 L123.4 703.2 L128.3 705.3 L124.8 710.8 L134.5 717 L142.8 717 L146.3 715 L148.4 717.7 L145.6 722.6 L156 730.9 L165.7 729.5 L169.9 725.4 L174.8 727.4 L170.6 733.7 L162 737.5 L156 736.5 L101.2 709.5Z" fill="#c39a1f" stroke="#a47c12" stroke-width="0.7" stroke-linejoin="round"/>
<path d="M108 708 L156 733 L166 731.5 L172 727.5 M118 706 L127 707.5 M138 719.5 L145 719 L147 716.5" stroke="#a8800f" stroke-width="0.5" fill="none"/>
<path d="M103.3 704.5 L111.6 699.4 L118 701.4 L110 707.5Z" fill="#6e4c0e"/><path d="M101.5 706.6 L103.3 704.5 L110 707.5 L108.5 709.2Z" fill="#e39a2a"/>
<ellipse cx="131.1" cy="701.6999999999999" rx="8.4" ry="5.6" fill="#e8a032"/>
<ellipse cx="131.1" cy="700.4" rx="8.3" ry="5.5" fill="#c0d7f1"/>
<ellipse cx="151.9" cy="712.0999999999999" rx="8.4" ry="5.6" fill="#e8a032"/>
<ellipse cx="151.9" cy="710.8" rx="8.3" ry="5.5" fill="#c0d7f1"/>
<ellipse cx="176.8" cy="723.1999999999999" rx="8.4" ry="5.6" fill="#e8a032"/>
<ellipse cx="176.8" cy="721.9" rx="8.3" ry="5.5" fill="#c0d7f1"/>
<text x="107.7" y="603.4" font-size="9.1" text-anchor="middle" fill="#000">sEMG acquisition</text>
<text x="107.7" y="613.9" font-size="9.1" text-anchor="middle" fill="#000">system</text>
<text x="139.3" y="759.3" font-size="9.1" text-anchor="middle" fill="#000">Hydrogel electrode</text>
<path d="M217.4 665.2 H260.4 V658.7 L273.9 672.0 L260.4 685.3 V678.8 H217.4Z" fill="#4472c4" stroke="#2f5597" stroke-width="0.6"/>
<path d="M452.9 665.0 H495.4 V658.5 L510.9 671.8 L495.4 685.0999999999999 V678.5999999999999 H452.9Z" fill="#4472c4" stroke="#2f5597" stroke-width="0.6"/>
<text x="239.6" y="655.5" font-size="9.1" text-anchor="middle" fill="#000">sEMG signal</text>
<text x="476.6" y="655.4" font-size="9.1" text-anchor="middle" fill="#000">Gesture command</text>
<path d="M298 706 Q296.3 704.2 298.5 703 L337 679.5 Q339.3 678 341.5 679 L364 687 Q366.5 688 364 689.6 L323.5 713.5 Q320.9 714.8 318.5 714Z" fill="#f5f1de"/>
<path d="M324 695 L340 686 L352 691 L336 700Z" fill="#c9ccd9"/>
<path d="M327 681 L339 675 L340 688 L329 694Z" fill="#d7dae6"/>
<path d="M322 694 Q322 690 327 689 L343 684 Q350 684 353 688 L353 692 Q352 694 348 696 L334 702 Q327 703 323 698Z" fill="#dcdfea" stroke="#b8bccb" stroke-width="0.4"/>
<path d="M299.5 647 L362.5 614 L364.6 616 L365 669 L302 697.5 L299.8 695.5Z" fill="#d5d8e4"/>
<path d="M301.5 648.5 L363.6 615.5 L364 661 L302 690Z" fill="#2e3350"/>
<path d="M302.8 650 L362.4 617.5 L362.8 657.3 L303.2 685.8Z" fill="#6e6ddf"/>
<path d="M302.8 650 L333 633.5 L330 671 L303.2 683Z" fill="#7b7ae6" opacity="0.6"/>
<path d="M317.8 650.1 L352.6 632.7 L353.2 655.2 L318.4 674.6Z" fill="#eceef4"/>
<path d="M317.8 650.1 L352.6 632.7 L352.6 635 L317.8 652.4Z" fill="#d9dbe6"/>
<circle cx="320" cy="650.5" r="0.9" fill="#e84040"/>
<path d="M305.3 653.9l5.2 -2.5v3.5l-5.2 2.5zM305.3 660.9l5.2 -2.5v3.5l-5.2 2.5zM354.4 624.2l5.2 -2.5v3.5l-5.2 2.5z" fill="#f4cc52"/>
<path d="M302 690 L364 661 L364.3 664 L302.3 693Z" fill="#e3e5ee"/>
<path d="M325 717.5 L376 692 L389.3 703.2 L341.3 728.8Z" fill="#eef0f6" stroke="#b9bdcc" stroke-width="0.7"/>
<path d="M327.7 719.4L378.2 693.9M330.4 721.3L380.4 695.7M333.1 723.1L382.6 697.6M335.9 725.0L384.9 699.5M338.6 726.9L387.1 701.3M328.2 715.9L344.3 727.2M331.4 714.3L347.3 725.6M334.6 712.7L350.3 724.0M337.8 711.1L353.3 722.4M340.9 709.5L356.3 720.8M344.1 707.9L359.3 719.2M347.3 706.3L362.3 717.6M350.5 704.8L365.3 716.0M353.7 703.2L368.3 714.4M356.9 701.6L371.3 712.8M360.1 700.0L374.3 711.2M363.2 698.4L377.3 709.6M366.4 696.8L380.3 708.0M369.6 695.2L383.3 706.4M372.8 693.6L386.3 704.8" stroke="#c6c9d6" stroke-width="0.45" fill="none"/>
<path d="M341.3 728.8 L389.3 703.2 L389.5 704.8 L341.5 730.4 L325 719 L325 717.5Z" fill="#c3c7d6"/>
<path d="M376 689 Q374.5 690 376 691 L394 702 Q395.5 702.8 397 702 L408 695.5 Q409.5 694.5 408 693.5 L392.5 683 Q391 682.3 389.5 683Z" fill="#2e3140"/>
<ellipse cx="391.5" cy="690.5" rx="6.5" ry="3.8" transform="rotate(20 391.5 690.5)" fill="#e2e4ec"/>
<ellipse cx="390.5" cy="689.5" rx="4.5" ry="2.4" transform="rotate(20 390.5 689.5)" fill="#f4f5f9"/>
<text x="354.7" y="759.9" font-size="9.1" text-anchor="middle" fill="#000">Gesture recognition system</text>
<ellipse cx="595.5" cy="729" rx="22.5" ry="6.2" fill="#1f1f1f"/>
<ellipse cx="595.5" cy="725.5" rx="21.5" ry="5.5" fill="#3a3d42" stroke="#111" stroke-width="0.6"/>
<rect x="587" y="728.8" width="5" height="1.6" rx="0.6" fill="#f07a1c"/>
<ellipse cx="574" cy="724" rx="8" ry="3" fill="#d9dde2" opacity="0.6"/>
<rect x="0" y="-4.84" width="43.85" height="9.68" rx="3.30" fill="#1e1e1e" stroke="#1d1d1d" stroke-width="0.8" transform="translate(546.22 632.89) rotate(61.72)"/>
<rect x="0" y="-5.61" width="7.16" height="11.22" rx="1.65" fill="#2b2b2b" stroke="#1d1d1d" stroke-width="0.8" transform="translate(563.61 665.20) rotate(61.72)"/>
<rect x="0" y="-5.50" width="17.00" height="11.00" rx="5.50" fill="#3aa2d6" stroke="#1d1d1d" stroke-width="0.8" transform="translate(545.80 632.10) rotate(61.72)"/>
<rect x="0" y="-5.22" width="8.05" height="10.45" rx="2.42" fill="#3aa2d6" stroke="#1d1d1d" stroke-width="0.8" transform="translate(554.70 648.65) rotate(61.72)"/>
<rect x="0" y="-5.22" width="8.50" height="10.45" rx="2.42" fill="#3aa2d6" stroke="#1d1d1d" stroke-width="0.8" transform="translate(559.37 657.32) rotate(61.72)"/>
<rect x="0" y="-1.30" width="9.84" height="2.60" rx="1.30" fill="#e8eef2" stroke="#8aa" stroke-width="0.3" transform="translate(547.50 635.25) rotate(61.72)"/>
<circle cx="559.2" cy="656.9" r="2.5" fill="#1f8a4c" stroke="#1d1d1d" stroke-width="0.7"/>
<rect x="0" y="-5.46" width="52.96" height="10.91" rx="3.72" fill="#1e1e1e" stroke="#1d1d1d" stroke-width="0.8" transform="translate(567.95 614.95) rotate(76.74)"/>
<rect x="0" y="-6.32" width="8.65" height="12.65" rx="1.86" fill="#2b2b2b" stroke="#1d1d1d" stroke-width="0.8" transform="translate(578.12 658.08) rotate(76.74)"/>
<rect x="0" y="-6.20" width="20.54" height="12.40" rx="6.20" fill="#3aa2d6" stroke="#1d1d1d" stroke-width="0.8" transform="translate(567.70 613.90) rotate(76.74)"/>
<rect x="0" y="-5.89" width="9.73" height="11.78" rx="2.73" fill="#3aa2d6" stroke="#1d1d1d" stroke-width="0.8" transform="translate(572.91 635.99) rotate(76.74)"/>
<rect x="0" y="-5.89" width="10.27" height="11.78" rx="2.73" fill="#3aa2d6" stroke="#1d1d1d" stroke-width="0.8" transform="translate(575.64 647.56) rotate(76.74)"/>
<rect x="0" y="-1.30" width="11.89" height="2.60" rx="1.30" fill="#e8eef2" stroke="#8aa" stroke-width="0.3" transform="translate(568.69 618.11) rotate(76.74)"/>
<circle cx="575.5" cy="647.0" r="2.5" fill="#f07a1c" stroke="#1d1d1d" stroke-width="0.7"/>
<rect x="0" y="-5.98" width="60.18" height="11.97" rx="4.08" fill="#1e1e1e" stroke="#1d1d1d" stroke-width="0.8" transform="translate(595.52 604.83) rotate(89.07)"/>
<rect x="0" y="-6.94" width="9.83" height="13.87" rx="2.04" fill="#2b2b2b" stroke="#1d1d1d" stroke-width="0.8" transform="translate(596.34 655.18) rotate(89.07)"/>
<rect x="0" y="-6.80" width="23.34" height="13.60" rx="6.80" fill="#3aa2d6" stroke="#1d1d1d" stroke-width="0.8" transform="translate(595.50 603.60) rotate(89.07)"/>
<rect x="0" y="-6.46" width="11.05" height="12.92" rx="2.99" fill="#3aa2d6" stroke="#1d1d1d" stroke-width="0.8" transform="translate(595.92 629.39) rotate(89.07)"/>
<rect x="0" y="-6.46" width="11.67" height="12.92" rx="2.99" fill="#3aa2d6" stroke="#1d1d1d" stroke-width="0.8" transform="translate(596.14 642.90) rotate(89.07)"/>
<rect x="0" y="-1.30" width="13.51" height="2.60" rx="1.30" fill="#e8eef2" stroke="#8aa" stroke-width="0.3" transform="translate(595.58 608.51) rotate(89.07)"/>
<circle cx="596.1" cy="641.7" r="2.5" fill="#1f8a4c" stroke="#1d1d1d" stroke-width="0.7"/>
<rect x="0" y="-5.46" width="53.47" height="10.91" rx="3.72" fill="#1e1e1e" stroke="#1d1d1d" stroke-width="0.8" transform="translate(628.71 613.45) rotate(105.41)"/>
<rect x="0" y="-6.32" width="8.73" height="12.65" rx="1.86" fill="#2b2b2b" stroke="#1d1d1d" stroke-width="0.8" transform="translate(616.82 656.58) rotate(105.41)"/>
<rect x="0" y="-6.20" width="20.73" height="12.40" rx="6.20" fill="#3aa2d6" stroke="#1d1d1d" stroke-width="0.8" transform="translate(629.00 612.40) rotate(105.41)"/>
<rect x="0" y="-5.89" width="9.82" height="11.78" rx="2.73" fill="#3aa2d6" stroke="#1d1d1d" stroke-width="0.8" transform="translate(622.91 634.49) rotate(105.41)"/>
<rect x="0" y="-5.89" width="10.37" height="11.78" rx="2.73" fill="#3aa2d6" stroke="#1d1d1d" stroke-width="0.8" transform="translate(619.72 646.06) rotate(105.41)"/>
<rect x="0" y="-1.30" width="12.00" height="2.60" rx="1.30" fill="#e8eef2" stroke="#8aa" stroke-width="0.3" transform="translate(627.84 616.61) rotate(105.41)"/>
<circle cx="620.2" cy="644.5" r="2.5" fill="#f07a1c" stroke="#1d1d1d" stroke-width="0.7"/>
<path d="M558 678 C559 670 570 667 590 666 C610 665 622 664 627 667 L631 690 C633 705 626 718 611 722 C599 725 586 724 576 718 C566 712 560 700 558.5 690Z" fill="#a9b1b9" stroke="#1d1d1d" stroke-width="0.9"/>
<path d="M562 692 C570 689 590 686 608 686 L608 702 C598 714 586 717 576 712 C568 707 564 699 562 692Z" fill="#c6ccd2"/>
<path d="M558 678 C559 670 570 667 590 666 C610 665 622 664 627 667 L628 681 C610 681 590 683 575 687 C567 689 561 691 559 689Z" fill="#3aa2d6" stroke="#1d1d1d" stroke-width="0.9"/>
<path d="M568.5 676.5l4.8-1.6 0.8 3.4-4.8 1.6zM581 672l4.8-0.9 0.5 3.5-4.8 0.9zM595.5 670.3l4.8-0.2v3.5l-4.8 0.2zM609.5 670.6l4.8 0.3-0.3 3.5-4.8-0.3z" fill="#1d1d1d"/>
<path d="M600 690 C604 680 618 677 628 682 C636 688 636 702 630 710 C624 717 612 719 604 714 C598 708 597 698 600 690Z" fill="#a9b1b9" stroke="#1d1d1d" stroke-width="0.9"/>
<path d="M601.5 700 C601 690 606 684 612 682" fill="none" stroke="#1d1d1d" stroke-width="1.2"/>
<path d="M605 690 C609 683 619 681 626 684 L628 700 C622 705 612 707 606 704Z" fill="#3aa2d6" stroke="#1d1d1d" stroke-width="0.7"/>
<path d="M609 706.5l8-2.5 1 4-8 2.5z" fill="#1d1d1d"/>
<rect x="0" y="-6.50" width="20.00" height="13.00" rx="5.00" fill="#1e1e1e" stroke="#1d1d1d" stroke-width="0.8" transform="translate(622.00 694.00) rotate(-36.87)"/>
<rect x="0" y="-6.50" width="33.42" height="13.00" rx="6.50" fill="#3aa2d6" stroke="#1d1d1d" stroke-width="0.8" transform="translate(635.00 684.50) rotate(-38.93)"/>
<rect x="0" y="-1.30" width="17.20" height="2.60" rx="1.30" fill="#e8eef2" stroke="#8aa" stroke-width="0.3" transform="translate(641.00 677.00) rotate(-35.54)"/>
<text x="598.9" y="759.9" font-size="9.1" text-anchor="middle" fill="#000">Robotic hand control</text>
</svg></body></html>
